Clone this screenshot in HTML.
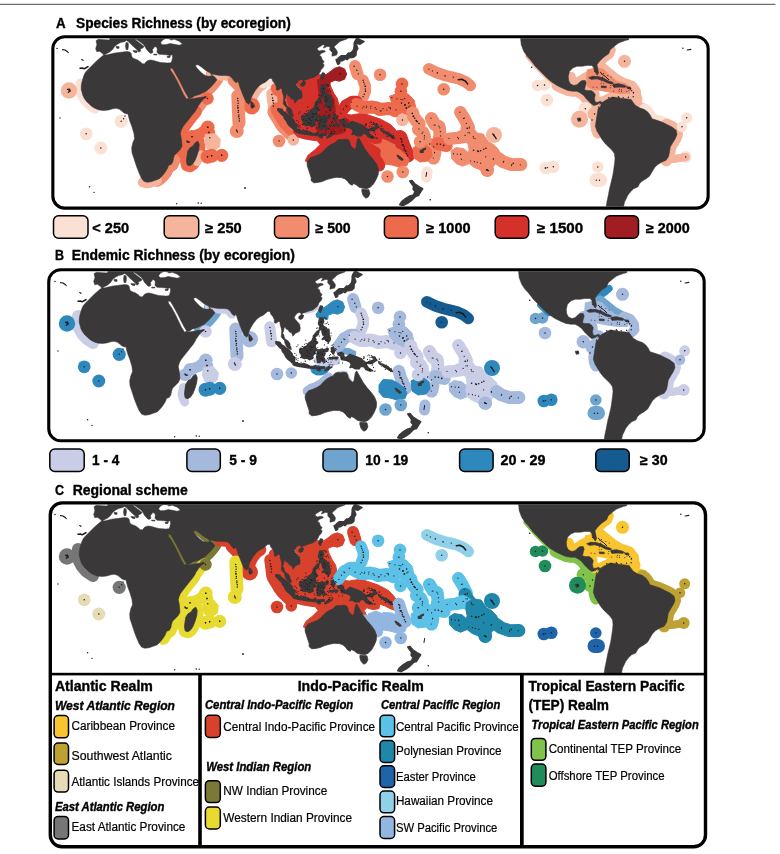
<!DOCTYPE html>
<html lang="en"><head><meta charset="utf-8"><title>Reef fish biogeography</title>
<style>html,body{margin:0;padding:0;background:#fff}body{width:780px;height:854px;overflow:hidden}svg text{font-family:"Liberation Sans",sans-serif}</style></head>
<body>
<svg width="780" height="854" viewBox="0 0 780 854" style="display:block">
<rect width="780" height="854" fill="#fff"/>
<rect x="0" y="3.8" width="775.5" height="1" fill="#4a4a4a"/>
<defs>
<clipPath id="clipA"><rect x="54.4" y="38.3" width="652.2" height="168.3" rx="10.4"/></clipPath>
<clipPath id="clipB"><rect x="50.3" y="271.3" width="652.3" height="167.9" rx="10.4"/></clipPath>
<clipPath id="clipC"><rect x="52" y="504.6" width="651.8" height="340.5" rx="10.1"/></clipPath>
</defs>
<g clip-path="url(#clipA)">
<g transform="translate(2,-233)">
<path d="M78.3,316 L78,321.8 L79.2,327.7 L82,333 L86.7,338 L93,342.3" fill="none" stroke="#FBE1D4" stroke-width="9" stroke-linecap="round" stroke-linejoin="round"/><circle cx="67" cy="323.5" r="8.2" fill="#F5B59D"/><circle cx="119.2" cy="354.3" r="6.6" fill="#FBE1D4"/><circle cx="84.2" cy="366.8" r="6.4" fill="#FBE1D4"/><circle cx="98.8" cy="381" r="6.5" fill="#FBE1D4"/><path d="M169.5,301.8 L173.3,308.5 L176.7,314.7 L180,321.3 L183,327.2 L185.7,331.5" fill="none" stroke="#F18C6F" stroke-width="4" stroke-linecap="round" stroke-linejoin="round"/><path d="M186.3,332 L193.3,330.7 L200.8,329.7 L205,330" fill="none" stroke="#F18C6F" stroke-width="7" stroke-linecap="round" stroke-linejoin="round"/><path d="M192.5,329 L199.2,327" fill="none" stroke="#F18C6F" stroke-width="12" stroke-linecap="round" stroke-linejoin="round"/><path d="M199.2,327 L204.2,324.3 L208.7,320.2 L212.5,316 L215,312.7 L213.3,309.7 L209.7,307.7" fill="none" stroke="#F18C6F" stroke-width="12" stroke-linecap="round" stroke-linejoin="round"/><path d="M209.7,307.2 L213.3,307.7 L219.2,308.5" fill="none" stroke="#F5B59D" stroke-width="10" stroke-linecap="round" stroke-linejoin="round"/><path d="M219.2,308.5 L223.3,308.5 L227.5,309 L230,311 L231.7,313.5" fill="none" stroke="#F5B59D" stroke-width="10" stroke-linecap="round" stroke-linejoin="round"/><path d="M231.7,313.5 L234.2,316 L237.5,319.3 L239.2,323.5 L240.8,327.7 L242.5,331.8 L244.2,335.2 L246.3,337.3" fill="none" stroke="#F18C6F" stroke-width="12" stroke-linecap="round" stroke-linejoin="round"/><path d="M249.2,331.8 L250.8,327.7 L253.3,323.5 L256.7,319.3 L260.3,317" fill="none" stroke="#F5B59D" stroke-width="12" stroke-linecap="round" stroke-linejoin="round"/><circle cx="249.7" cy="339.2" r="8.3" fill="#ED6B4C"/><path d="M260.8,316.8 L266.7,314.7 L270,316" fill="none" stroke="#FBE1D4" stroke-width="9" stroke-linecap="round" stroke-linejoin="round"/><path d="M235.8,329 L236.3,341 L237,356" fill="none" stroke="#F18C6F" stroke-width="13" stroke-linecap="round" stroke-linejoin="round"/><circle cx="234.8" cy="364" r="7" fill="#F18C6F"/><path d="M204.3,331.3 L200.3,334.7 L197.5,338.5 L194.7,342.3 L190,348.5 L185.3,354.7 L181.3,361 L179,367.7" fill="none" stroke="#F18C6F" stroke-width="12" stroke-linecap="round" stroke-linejoin="round"/><circle cx="205.5" cy="331.5" r="6.2" fill="#ED6B4C"/><path d="M193.3,344.7 L189.2,349.7 L185,355 L181.3,360 L179.2,365 L179.2,370.8 L180,375.8 L179.7,380 L175.8,385.3 L172.5,388.7 L171.7,393.3" fill="none" stroke="#ED6B4C" stroke-width="13" stroke-linecap="round" stroke-linejoin="round"/><path d="M171.7,393.3 L170,397.5 L166.3,400 L163.3,405.3" fill="none" stroke="#F18C6F" stroke-width="13" stroke-linecap="round" stroke-linejoin="round"/><path d="M163.3,405.3 L160.8,408.7 L157,412 L155,413.3" fill="none" stroke="#F18C6F" stroke-width="13" stroke-linecap="round" stroke-linejoin="round"/><path d="M155,413.7 L149.2,415.3 L145,416.3 L140.8,415.3" fill="none" stroke="#F5B59D" stroke-width="10" stroke-linecap="round" stroke-linejoin="round"/><path d="M195.8,374.2 L197.2,377.5 L196.7,382.5 L195,388.3 L193,393.3 L190.8,396.7 L188,398.7 L185.3,398 L184.5,394.2 L185,389.2 L185.8,384.2 L188,380.8 L190.8,379.2 L193.3,375.8 L195.8,374.2" fill="none" stroke="#ED6B4C" stroke-width="13" stroke-linecap="round" stroke-linejoin="round"/><path d="M195,395 L199.2,387.5" fill="none" stroke="#F5B59D" stroke-width="8" stroke-linecap="round" stroke-linejoin="round"/><circle cx="190" cy="369.7" r="6.6" fill="#ED6B4C"/><circle cx="185.3" cy="374.7" r="6.4" fill="#ED6B4C"/><path d="M190,369.7 L198.3,366.7 L205.8,360.8" fill="none" stroke="#ED6B4C" stroke-width="11" stroke-linecap="round" stroke-linejoin="round"/><circle cx="205.8" cy="360.3" r="6.8" fill="#ED6B4C"/><circle cx="207" cy="365.8" r="6.2" fill="#ED6B4C"/><path d="M203.3,367.5 L213.3,366.7 L218.3,372.5 L217.5,380 L211.7,383.7 L205,381.7 L202.5,375Z" fill="#F5B59D" stroke="#F5B59D" stroke-width="1" stroke-linejoin="round"/><circle cx="205.5" cy="389.7" r="7" fill="#ED6B4C"/><circle cx="209.7" cy="388.8" r="7" fill="#ED6B4C"/><circle cx="219.7" cy="388.3" r="6.6" fill="#ED6B4C"/><path d="M269.7,326.8 L270.7,334.3 L271.7,341.8" fill="none" stroke="#F5B59D" stroke-width="11" stroke-linecap="round" stroke-linejoin="round"/><path d="M274.2,321.4 L275.4,323.6 L278.9,322.5 L280,325.6 L280.7,330.2 L281,334.7 L281,337.4 L283.3,340.5 L284.5,343.8 L286.4,347.1 L289.4,349.8" fill="none" stroke="#ED6B4C" stroke-width="11" stroke-linecap="round" stroke-linejoin="round"/><path d="M272.9,344.7 L275.2,348.7 L277.5,352.3 L279.6,356 L282,359.2 L284.8,362.1 L287.9,365.1 L290.3,367.2" fill="none" stroke="#F18C6F" stroke-width="15" stroke-linecap="round" stroke-linejoin="round"/><path d="M275.4,342.2 L277.7,346.2 L280,349.8 L282.1,353.5 L284.5,356.7 L287.3,359.6 L290.4,362.6 L292.8,364.7" fill="none" stroke="#ED6B4C" stroke-width="14" stroke-linecap="round" stroke-linejoin="round"/><circle cx="277" cy="374" r="6.3" fill="#F18C6F"/><circle cx="291.3" cy="373" r="5.8" fill="#F5B59D"/><path d="M363.1,364.4 L382.3,360.5 L395.1,372.1 L399,382.3 L383.6,384.2 L375.9,382.3 L368.2,375.9Z" fill="#ED6B4C" stroke="#ED6B4C" stroke-width="1" stroke-linejoin="round"/><path d="M293.7,312.9 L301.5,311.1 L308.5,309.2 L314.6,306.5 L318.1,307.4 L322.4,310.1 L326.8,314.7 L329.4,321.1 L332,326.5 L335.5,332 L336.7,337.4 L337.2,342.9 L338.9,345.6 L343.3,347.4 L349.4,348 L355.5,346.9 L361.5,346.5 L367.6,348.4 L372.8,350.2 L378.1,352 L383.3,354.7 L388.5,357.5 L393.7,362.9 L398.1,369.3 L398.9,373.8 L395.5,377.5 L390.2,375.7 L385,372.9 L379.8,371.1 L378.9,375.7 L372.8,376.6 L366.8,374.8 L364.2,377.5 L366.4,382 L369,386.6 L365,388 L362.1,381.1 L358.9,375.7 L357.2,372.9 L355.5,376.6 L355.1,382.9 L352,383.9 L347.6,380.2 L347.6,374.8 L343.3,373.8 L338.1,374.8 L334.6,379.3 L329.4,378.4 L324.1,382.9 L319.8,387.5 L313.7,389.3 L309.4,392 L306.8,396.6 L303.3,393.9 L305.9,388.4 L312.8,382.9 L318.1,377.5 L315.4,373.8 L308.5,372.9 L301.5,371.7 L295.4,369.8 L291.1,364.7 L293.7,361.1 L295.4,357.5 L292.5,354.7 L291.1,351.1 L290.2,347.4 L289.4,342.9 L286.7,338.4 L285,333.8 L285,328.3 L289.4,331.1 L292.8,334.7 L298.1,332.9 L300.7,328.3 L298.9,322.9 L295.4,318.3Z" fill="#D5312B" stroke="#D5312B" stroke-width="1" stroke-linejoin="round"/><path d="M357.9,370.8 L365.6,374.6 L377.2,381.7 L384.2,391.3 L382.9,398.3 L375.9,396.4 L368.2,388.7 L361.8,381Z" fill="#D5312B" stroke="#D5312B" stroke-width="1" stroke-linejoin="round"/><path d="M285,345.6 L288.5,348.7 L291.1,350.5" fill="none" stroke="#D5312B" stroke-width="5" stroke-linecap="round" stroke-linejoin="round"/><path d="M315.4,312.9 L320.7,312 L324.7,316.5 L326.2,322 L329.4,327.4 L332,332.9 L332.8,339.3 L333.7,344.7 L337.2,348.4 L341.5,350.5 L346.8,352.9 L347.6,357.5 L344.1,360.2 L343.3,364.7 L338.9,366.6 L332.8,367.5 L325.9,366.6 L320.7,366.6 L316.3,365.6 L314.6,361.1 L315.1,355.6 L316.3,350.2 L317.7,343.8 L314.6,339.3 L316.3,333.8 L317.2,327.4 L316.3,321.1Z" fill="#A01D21" stroke="#A01D21" stroke-width="1" stroke-linejoin="round"/><path d="M315.9,314.2 L320,309.1 L325.1,307 L329.2,303.9 L332.3,301.4 L337.4,299.8 L342.6,301.9 L344.6,307 L342.6,312.2 L337.4,314.2 L333.3,313.2 L328.2,315.2 L327.7,319.3 L321,318.3 L316.9,317.3Z" fill="#A01D21" stroke="#A01D21" stroke-width="1" stroke-linejoin="round"/><circle cx="338" cy="306.7" r="0.1" fill="#A01D21"/><path d="M353,299 L355.5,307.3" fill="none" stroke="#F18C6F" stroke-width="12" stroke-linecap="round" stroke-linejoin="round"/><path d="M361,313.2 L363.3,319.3 L363.3,324.3 L361.3,329.7" fill="none" stroke="#F18C6F" stroke-width="11.5" stroke-linecap="round" stroke-linejoin="round"/><circle cx="378.1" cy="307.8" r="6.3" fill="#F18C6F"/><path d="M338.4,346.2 L344,338.5" fill="none" stroke="#D5312B" stroke-width="12" stroke-linecap="round" stroke-linejoin="round"/><path d="M344.1,338.5 L350.4,334.7 L354.6,334.7" fill="none" stroke="#D5312B" stroke-width="12" stroke-linecap="round" stroke-linejoin="round"/><path d="M354.6,337.4 L360.7,340.4 L365.9,340.4 L370.2,340 L374.6,340.9 L378.1,342.5 L385.4,341.6 L389.4,341.8 L393.7,343.8" fill="none" stroke="#ED6B4C" stroke-width="13" stroke-linecap="round" stroke-linejoin="round"/><circle cx="400" cy="316.9" r="6.3" fill="#ED6B4C"/><path d="M387.6,329.2 L396.3,326.2 L405.9,326.9 L412,332.9 L413.7,340.2 L410.2,346.5 L402.4,347.6 L396.3,342.9 L390.2,337.4Z" fill="#ED6B4C" stroke="#ED6B4C" stroke-width="1" stroke-linejoin="round"/><circle cx="398.9" cy="324.3" r="6.3" fill="#ED6B4C"/><circle cx="400.5" cy="352.9" r="6.3" fill="#F5B59D"/><path d="M410.8,346 L411.5,349.6 L414.2,353.5 L417.2,356.7" fill="none" stroke="#F18C6F" stroke-width="13" stroke-linecap="round" stroke-linejoin="round"/><path d="M416.5,362.4 L420.9,365.6 L422.4,369.3 L421.6,371.7" fill="none" stroke="#F18C6F" stroke-width="13" stroke-linecap="round" stroke-linejoin="round"/><path d="M429.4,351.5 L432.9,357.5 L437.2,359.8 L438.1,368.4 L437.2,371.1" fill="none" stroke="#F18C6F" stroke-width="13" stroke-linecap="round" stroke-linejoin="round"/><path d="M458.3,345.2 L462.5,351.8 L466.7,360.2 L465.3,366 L460.8,370.2" fill="none" stroke="#F18C6F" stroke-width="12.5" stroke-linecap="round" stroke-linejoin="round"/><path d="M426.7,301.8 L435,305.7 L443.3,308.5 L450.8,310.3 L456.7,311.8 L463.3,314.7 L468.3,318.5" fill="none" stroke="#F18C6F" stroke-width="11.5" stroke-linecap="round" stroke-linejoin="round"/><circle cx="441.7" cy="322.3" r="6.3" fill="#F18C6F"/><path d="M398.1,370.2 L400.7,377.5 L403.3,383.9 L405.6,388.4" fill="none" stroke="#D5312B" stroke-width="14.5" stroke-linecap="round" stroke-linejoin="round"/><path d="M379,385 L383,379.5 L392,380 L398,383 L404,388 L407,393 L405,398.5 L397,400 L390,398 L383,397 L379,392Z" fill="#ED6B4C" stroke="#ED6B4C" stroke-width="1" stroke-linejoin="round"/><path d="M365,387.5 L370.2,391.1 L375.5,394.8 L377.2,398.4" fill="none" stroke="#D5312B" stroke-width="12" stroke-linecap="round" stroke-linejoin="round"/><circle cx="400.8" cy="405" r="6.3" fill="#F18C6F"/><circle cx="385.5" cy="409.5" r="6.3" fill="#F18C6F"/><path d="M425,405 L424.5,410" fill="none" stroke="#FBE1D4" stroke-width="11" stroke-linecap="round" stroke-linejoin="round"/><path d="M431.1,380.2 L432.9,385.7 L431.6,391.1" fill="none" stroke="#F18C6F" stroke-width="13" stroke-linecap="round" stroke-linejoin="round"/><circle cx="427.6" cy="377.1" r="6.4" fill="#F18C6F"/><path d="M435.5,376.6 L441.6,378 L444.2,378.4" fill="none" stroke="#ED6B4C" stroke-width="13" stroke-linecap="round" stroke-linejoin="round"/><path d="M411,381 L416,378 L424,378 L429,382 L430,389 L426,394 L418,395 L412,391Z" fill="#ED6B4C" stroke="#ED6B4C" stroke-width="1" stroke-linejoin="round"/><circle cx="418.1" cy="374.8" r="6.4" fill="#F18C6F"/><path d="M465.1,362 L468.3,366.5 L471.5,370.9" fill="none" stroke="#F18C6F" stroke-width="12.5" stroke-linecap="round" stroke-linejoin="round"/><circle cx="465.1" cy="361.3" r="6.6" fill="#F18C6F"/><path d="M447.6,371.8 L456.3,370.9 L462.4,368.4 L465.9,370.2" fill="none" stroke="#F18C6F" stroke-width="12.5" stroke-linecap="round" stroke-linejoin="round"/><path d="M449.1,383.8 L454.2,380.6 L461.9,381.8 L467.1,386.3 L467.1,396.6 L460.6,399.2 L454.2,396.6 L449.7,391.5Z" fill="#F18C6F" stroke="#F18C6F" stroke-width="1" stroke-linejoin="round"/><path d="M466.4,369.7 L473.5,365.8 L481.2,367.1 L486.3,374.8 L491.4,377.4 L496.5,382.5 L499.1,388.9 L495.3,395.3 L491.4,399.2 L490.1,404.3 L486.3,409.4 L481.2,408.1 L478.6,403 L472.2,400.4 L467.1,396.6 L465.8,390.2 L467.1,382.5 L465.8,376.1Z" fill="#F18C6F" stroke="#F18C6F" stroke-width="1" stroke-linejoin="round"/><circle cx="485.3" cy="403.3" r="6.8" fill="#F18C6F"/><path d="M496.5,391.5 L501,394.7 L509.4,397.6 L519,397.5" fill="none" stroke="#F18C6F" stroke-width="12.8" stroke-linecap="round" stroke-linejoin="round"/><circle cx="492" cy="368" r="8" fill="#F5B59D"/><circle cx="543.8" cy="401" r="6.3" fill="#FBE1D4"/><circle cx="551.3" cy="399.8" r="6.3" fill="#FBE1D4"/><circle cx="595.8" cy="400" r="5.8" fill="#FBE1D4"/><path d="M594.5,413 L598,413" fill="none" stroke="#FBE1D4" stroke-width="14" stroke-linecap="round" stroke-linejoin="round"/><circle cx="535.5" cy="318.5" r="5.8" fill="#FBE1D4"/><circle cx="542.5" cy="318" r="5.8" fill="#FBE1D4"/><circle cx="545" cy="333" r="6.3" fill="#FBE1D4"/><path d="M525,289.3 L530.8,296 L537.5,303.5 L544.2,310.2 L550,315.2 L555,318.5" fill="none" stroke="#F5B59D" stroke-width="3.5" stroke-linecap="round" stroke-linejoin="round"/><path d="M555,318.5 L560,321 L565.8,323.5 L570.8,324.3 L575,324.3 L578.3,326 L581.7,328.5 L584.2,331.8 L586.7,334.3 L589.2,336.8 L591.7,338.5 L595,337.7 L597.5,336.3" fill="none" stroke="#F5B59D" stroke-width="11" stroke-linecap="round" stroke-linejoin="round"/><circle cx="583.3" cy="341.8" r="6.8" fill="#FBE1D4"/><circle cx="592.5" cy="347" r="7" fill="#F5B59D"/><path d="M598.3,338 L597,341.8 L595.5,346 L594.7,351 L593.8,356.8 L594.3,361.8 L595.8,366" fill="none" stroke="#F5B59D" stroke-width="11" stroke-linecap="round" stroke-linejoin="round"/><circle cx="577.5" cy="352.3" r="8.5" fill="#F5B59D"/><path d="M608.3,282.7 L606.7,286.8 L601.7,290.2 L597.5,294.3 L595.3,298 L596.3,303 L596.7,306.8" fill="none" stroke="#F5B59D" stroke-width="11" stroke-linecap="round" stroke-linejoin="round"/><circle cx="622.5" cy="294.3" r="6.5" fill="#F5B59D"/><path d="M568.7,309.7 L570,314.3 L574.2,316 L579.2,313.5 L583.3,310.7 L590,307.3 L593.3,305.7" fill="none" stroke="#F5B59D" stroke-width="10" stroke-linecap="round" stroke-linejoin="round"/><path d="M600.1,300.3 L607.2,306 L613.6,311.2 L621.3,315.6" fill="none" stroke="#F5B59D" stroke-width="9.5" stroke-linecap="round" stroke-linejoin="round"/><path d="M623.8,316.3 L630.3,318.8 L634.1,324 L634.7,329.7 L631.5,332.9" fill="none" stroke="#F5B59D" stroke-width="9.5" stroke-linecap="round" stroke-linejoin="round"/><path d="M583.3,316 L582.8,322.7 L589.2,323.8 L592.5,326.8 L592.8,331.8 L594.2,335.2 L599.2,335.2" fill="none" stroke="#F5B59D" stroke-width="10" stroke-linecap="round" stroke-linejoin="round"/><path d="M600,335.2 L604.2,333.5 L610,330.7 L616.7,330.7 L623.3,330.3 L630,331.3 L635,332" fill="none" stroke="#F5B59D" stroke-width="11" stroke-linecap="round" stroke-linejoin="round"/><path d="M585.4,302.8 L595.6,300.9 L602.1,302.8 L608.5,309.2 L614.9,314.4 L623.8,316.9 L629,320.8 L627.7,326.5 L618.7,326.5 L608.5,325.3 L598.2,323.3 L590.5,322.1 L585.4,319.5 L584.7,310.5Z" fill="#F18C6F" stroke="#F18C6F" stroke-width="1" stroke-linejoin="round"/><path d="M623.7,332 L630,333.3 L633.3,338 L637.5,340.5 L642.5,342.2" fill="none" stroke="#F5B59D" stroke-width="11" stroke-linecap="round" stroke-linejoin="round"/><path d="M642.5,342.2 L645.8,344.7 L648.3,348 L650,351.3 L655,353.3 L660,355 L665,357.5" fill="none" stroke="#FBE1D4" stroke-width="11" stroke-linecap="round" stroke-linejoin="round"/><path d="M665,357.5 L670,360 L674.2,363.3 L675,367.5 L673.3,371.7 L670.8,375.8 L668.3,380 L667.5,385 L666.7,389.2 L664.2,393.3" fill="none" stroke="#F5B59D" stroke-width="12" stroke-linecap="round" stroke-linejoin="round"/><circle cx="684.7" cy="350.8" r="5.5" fill="#FBE1D4"/><circle cx="680" cy="359.7" r="5.3" fill="#FBE1D4"/><circle cx="683.7" cy="390" r="6" fill="#FBE1D4"/><path d="M672,392 L683.7,390" fill="none" stroke="#F5B59D" stroke-width="8" stroke-linecap="round" stroke-linejoin="round"/>
<path d="M108.1,268.3 L107.9,271.9 L107.1,273 L103.2,272.8 L96.3,272.3 L94,273.7 L94.9,277.4 L93.7,281.6 L94.7,284.7 L97.3,284.3 L99.2,285.6 L100.5,286.5 L101.7,288 L100,289.3 L98,291 L95,293.5 L92.5,296 L90,298.5 L87.5,301 L85,303.5 L83,306 L81.7,309 L80.5,312.7 L79.7,316 L79.2,319.3 L79.2,322.7 L80,325.2 L80.8,328.5 L82.5,331.8 L84.7,334.7 L87,336.8 L89.2,339 L91.7,340.7 L95,342.3 L98.3,343.2 L102.5,343.5 L106.7,343 L110.8,341.8 L114.2,341.3 L117.5,342.3 L120,344.3 L122,346 L124.7,347 L125.8,346.7 L127.5,353.3 L130,360 L132,366.7 L132.5,371.7 L130.8,375.8 L129.7,380.8 L130,385.8 L131.7,390.8 L133.3,395.8 L135,400.8 L137,405.8 L139.2,410.8 L141.7,414.2 L145,415.3 L149.2,414.7 L153.3,413.3 L157.5,411.7 L160.8,408.3 L163.3,405 L165.3,401.7 L166.7,398.3 L169.2,397.5 L170.8,395 L171.7,390.8 L172.5,388.3 L175,385.8 L178.3,382.5 L180,379.2 L179.7,375 L179.2,370.8 L178.3,366.7 L179.2,363.3 L180.8,360 L183.3,356.7 L186.7,352.5 L190,348.3 L193.3,344.2 L195.8,340 L195.5,340 L198.3,336 L200.8,332.7 L204.7,329.8 L198.3,330.3 L191.7,331.5 L186.3,332.3 L190,330.7 L192.5,329 L198.3,327.3 L204.2,324.3 L208.7,320.2 L212.5,316 L215,312.7 L212.5,309.7 L209.2,307.7 L208.7,306.8 L213.3,307.7 L218.3,308.5 L223.3,308.5 L227.5,309 L230,311 L231.7,313.5 L234.2,316 L235.3,314.3 L236.7,316 L237.5,319.3 L239.2,323.5 L240.8,327.7 L242.5,331.8 L244.2,335.2 L246.7,337.3 L248.3,335.2 L249.2,331 L250.8,327.7 L253.3,323.5 L256.7,319.3 L260,316.8 L263.3,315.2 L267.6,311.4 L269.9,311.4 L270.7,314.1 L272.8,316.5 L274.2,319.2 L274.4,322.9 L276.1,323.2 L278.6,321.4 L280,322 L280.1,324.7 L281,327.4 L281.7,330.5 L281.5,333.8 L281.2,336.9 L282.7,338.7 L284.5,340.4 L284.8,342.9 L285.7,345.1 L286.6,346.9 L288.5,348.5 L290.2,349.6 L291.4,349.5 L291.1,347.4 L290.1,345.6 L290.1,343.8 L288.7,341.4 L287.6,340.5 L285.9,339.4 L285,338.7 L284.1,336.5 L284,335.1 L282.7,333.3 L283.8,330.5 L284.1,327.6 L285.7,327.6 L285.9,328.9 L288,329.8 L289.4,332 L291.8,333.1 L292.8,336.2 L294.2,334.7 L295.8,333.1 L297.7,332.5 L299.8,331.1 L300.3,328.3 L299.6,324.2 L297.2,321.6 L295.4,319.6 L294.2,317.4 L295.6,315.1 L297.2,313.2 L298.9,312.5 L300.7,312.9 L301.4,315.1 L302.2,315.1 L302.4,313.2 L304.7,312.7 L307.6,311.6 L309.4,310.9 L312,310.3 L314.2,308.9 L316.7,306.9 L318.2,305 L318.9,302.9 L321.5,300.1 L322.2,297.8 L320.7,296.5 L322.2,294.7 L320.1,292.3 L319.4,289.8 L317.5,288.3 L319.4,286.3 L323.3,284.8 L322.9,283.8 L320.3,283.2 L317.2,284.1 L315.1,281.9 L316,280.8 L318.1,279.6 L321,277.7 L322.8,278.3 L321.2,281 L322.4,280.8 L325,279.6 L326.4,279.4 L328,280.1 L327.6,282.8 L329.4,284.7 L330.2,285.6 L329.9,289.2 L332,288.8 L334.6,288.1 L335.5,285.6 L335.1,284.1 L333.5,281.7 L332,280.1 L333.7,278.3 L335.8,276.5 L337.5,274.8 L340.7,273.4 L345,271.9 L347.6,268.3ZM102.9,287.5 L107.4,285.2 L110.6,282.4 L112.6,279.5 L115.8,276.9 L118.6,275.6 L122.2,274.7 L124.7,273.4 L126.7,275 L129.2,277.5 L132.4,280.4 L135.6,283.3 L136.9,285.2 L138.8,283.9 L138.2,282 L140.8,281.1 L142.1,279.5 L140.1,277.9 L136.3,275.1 L132.9,272.5 L134,272.2 L137.6,274.6 L141.2,277.2 L143.3,280.1 L144.2,282 L145.9,283.9 L147.8,285.9 L149.1,286.5 L151,285.2 L150.4,282.7 L151.7,281.1 L152.9,279.5 L154.9,280.4 L155.3,282.4 L154.9,285.2 L156.8,287.2 L160.6,287.5 L164.5,287.8 L167.7,288.4 L170.3,287.8 L170.6,290.4 L169.9,293.6 L169,295.7 L165.8,296.1 L161.9,295.7 L158.7,295.5 L154.9,294.5 L151.7,293.6 L148.5,292.9 L145.9,293.6 L144,294.8 L142.7,296.8 L140.4,296.8 L138.2,294.8 L135.6,292.9 L133.7,292.3 L131.8,291.4 L130.1,290.4 L129.6,288.4 L129.2,286.5 L127.9,285 L124.7,284.6 L120.9,285 L117.1,285.5 L113.2,285.9 L109.4,286.8 L105.5,287.8 L102.9,288.1ZM158.7,275.6 L160.6,273.1 L163.8,271.4 L167.1,271.8 L169,273.1 L172.2,272.2 L177.3,274.3 L180.5,276.9 L177.3,278.2 L172.2,277.3 L168.3,276.5 L164.5,277.5 L160.6,277.8 L158.7,276.3ZM168.3,300.7 L170.7,301.7 L174.7,308.7 L178,314.8 L181.3,321.5 L184.2,327 L186.7,331 L184.7,332.3 L181.7,327.7 L178.5,321 L175.2,314.3 L171.8,308 L168.5,303.3ZM193.7,298 L196,297.7 L199.7,300.2 L203,303 L206.3,305 L209.3,306.5 L210,308.7 L206.7,309.3 L203.7,308.7 L200,306.3 L196.7,303 L194,300ZM518,267.7 L518.7,272.7 L519.2,277.7 L521.7,284.3 L525,289.3 L528.3,292.7 L530.8,296 L533.3,299.3 L537.5,303.5 L541.7,307.7 L545.8,311.8 L550,315.2 L555,318.5 L560,321 L565.8,323.5 L570.8,324.3 L575,324.3 L578.3,326 L581.7,328.5 L584.2,331.8 L586.7,334.3 L589.2,336.8 L591.7,338.5 L595,337.7 L597.5,336 L599.2,337.7 L597.5,341 L596.7,339.2 L595.8,343.3 L595,348.3 L594.2,353.3 L593.3,359.2 L595,364.2 L597.5,368.3 L600,372.5 L603.3,376.7 L606.7,380 L610,383.3 L612.5,386.7 L613,391.7 L612.5,396.7 L611.7,402.5 L610.8,408.3 L609.2,415 L607.5,421.7 L606.3,428.3 L605,434.2 L603.7,443.3 L621.3,443.3 L621.7,439.2 L622.5,435 L624.2,431.7 L625.8,428.3 L628.3,425 L631.7,421.7 L635.8,420 L637.5,416.7 L640,414.2 L644.2,411.7 L647.5,409.2 L650,405 L652.5,400.8 L655.8,397.5 L660,395 L664.2,393.3 L666.7,389.2 L667.5,385 L668.3,380 L670.8,375.8 L673.3,371.7 L675,367.5 L674.2,363.3 L670,360 L665,357.5 L660,355 L655,353.3 L650,351.7 L648.3,348.3 L645.8,345 L642.5,342.5 L637.5,340.8 L633.3,338.3 L630.8,335 L629.2,332.5 L623.3,331.7 L618.3,331.3 L613.3,330.3 L610,330 L605,332.5 L600.8,335 L597.5,337.5 L600,335.2 L598.3,334.3 L595.8,335.2 L593.3,335.2 L592.5,331.8 L593.3,327.7 L591.7,325.2 L589.2,323.5 L585,323.5 L582.5,322.7 L583.3,319.3 L584.2,316 L583.3,313.5 L580,313.5 L577.5,315.2 L575,317.7 L571.7,318.5 L568.3,316.8 L566.7,313.5 L566.3,309.3 L567.5,304.3 L570.8,301 L575,299.3 L580,299.3 L585,298.5 L590,298.5 L591.7,300.2 L592.5,304.3 L595,307.7 L596.7,306 L595.8,301.8 L595,297.7 L597.5,294.3 L601.7,290.2 L606.7,286.8 L608.3,282.7 L613.3,278.5 L616.7,276 L623.3,273.5 L626.7,272.7 L627.5,267.7Z" fill="#3a3839" fill-rule="evenodd" stroke="#3a3839" stroke-width="0.5" stroke-linejoin="round"/><path d="M124.1,275.6 L126,276 L126.3,278.8 L125.8,282.4 L124.1,282.4 L123.7,278.8ZM130.9,283.7 L135.3,283.9 L134.7,285.5 L132.4,285.2ZM114.2,279.6 L117.1,279.8 L116.8,281.4 L114.5,281.1ZM151.7,287.2 L154.9,287.3 L154.9,287.9 L151.7,287.8ZM165.1,289.5 L168.3,288.8 L167.7,290.4 L165.5,290.4ZM195.8,374.2 L197.2,377.5 L196.7,382.5 L195,388.3 L193,393.3 L190.8,396.7 L188,398.7 L185.3,398 L184.5,394.2 L185,389.2 L185.8,384.2 L188,380.8 L190.8,379.2 L193.3,375.8ZM249,334.3 L251.4,336.5 L252.7,339.3 L251.1,341.1 L249.4,341.1 L248.8,337.4ZM356.7,370.9 L359.9,376.7 L363.1,382.4 L366.9,387.6 L371.4,392.7 L374.6,397.2 L376.5,402.3 L376.2,407.4 L374,412.6 L371.4,417.1 L368.2,420.3 L365,421.5 L361.2,421.3 L357.3,420.3 L354.1,417.7 L351.5,416.4 L350.3,418.3 L347.7,417.1 L345.8,414.5 L343.2,411.9 L339.4,410.6 L334.2,410.3 L329.1,411.3 L324.6,412.6 L320.1,414.5 L315.6,415.4 L311.8,415.8 L309.2,413.8 L309.2,410.6 L307.9,406.8 L306.7,402.9 L305.4,399.1 L305.1,396.5 L306.4,393.3 L308.6,390.8 L312.4,389.5 L316.9,387.6 L320.8,385 L323.6,381.8 L326.5,379.2 L329.7,377.3 L332.9,376 L334.9,373.5 L337.4,372.6 L340.6,372.8 L343.8,372.2 L346.4,372.8 L347.7,374.7 L348.3,377.9 L350.3,380.5 L352.8,382.4 L354.1,380.5 L354.7,376.7 L355.4,372.8ZM359.9,422.4 L366.9,422.8 L367.9,426.7 L366.3,429.9 L363.7,431.2 L361.2,428.6 L359.9,424.7ZM586.7,310.7 L590.8,309.3 L596.7,309.7 L601.7,311.3 L606.7,314 L611.3,315.7 L610.8,317 L605.8,316 L600.8,313.5 L595,311.8 L589.2,312.3ZM611.3,317.3 L616.7,316.8 L623.3,318.5 L623,320.3 L617.5,320 L612.5,320.3 L610.8,319ZM599.2,319 L604.2,319.3 L604.2,320.7 L599.5,320.5ZM625,320 L628.3,320 L628.3,321.3 L625,321.3ZM575.3,351.3 L578.3,351 L579,353.7 L576.3,354.3Z" fill="#3a3839" stroke="#3a3839" stroke-width="0.8" stroke-linejoin="round"/><path d="M276,341.8 L279.8,342.5 L281.2,344.7 L284,346.5 L285.5,348 L287.3,348.9 L289.4,350.7 L290.7,352.5 L292,353.8 L292.1,355.6 L294.6,357.5 L294.4,360.2 L294.2,362.6 L292.1,362.6 L290.7,361.1 L288.1,359.3 L285.9,356.6 L284.7,353.8 L282.6,351.5 L281.9,348.9 L280.1,347.6 L278.1,345.3 L276.1,343.3ZM293.2,364.4 L294.8,362.7 L296.3,362.7 L298.9,364 L302.4,364.4 L303.3,363.6 L306.1,364.6 L309.4,366 L309.2,367.8 L306.2,367.3 L301.5,366.6 L298.1,366.2 L295.3,365.5ZM299.8,349.3 L300.8,348.4 L303.6,349.1 L304,347.3 L306.8,346.2 L308.5,343.6 L310.9,342 L313.2,339.3 L314.9,340.4 L317.5,342.5 L315.4,344.4 L314.9,346.9 L317,350.2 L315.1,350.5 L314.6,353.3 L312.8,355.1 L312.3,358.4 L309.5,359.5 L306.8,357.8 L304.7,358.4 L301.9,357.3 L301.5,354.4 L300,352.5 L299.8,350.5ZM318.6,350.5 L320.5,349.6 L324.1,350.4 L327.5,348.9 L328,349.5 L326.4,351.3 L324.1,351.3 L320.7,351.3 L319.3,353.6 L321.5,353.6 L324.7,353.6 L323.8,354.9 L321.7,355.5 L324,359.3 L324.5,361.6 L322.4,360.7 L320.7,356.9 L319.6,357.5 L319.6,362 L318.1,362 L318.1,358.4 L316.8,357.1 L317.7,354.2 L318.6,352ZM338.1,353.5 L340.7,352.7 L343.3,353.5 L343.6,356.6 L345.9,358 L349.9,354.7 L355.5,356.7 L361.5,359.1 L363.8,362 L367.3,362.9 L365.9,364.4 L368.5,368.4 L372.5,370.7 L370.2,370.9 L365.9,369.3 L364.2,366.6 L360.7,366 L358.9,368.7 L355.5,368.6 L352,366.6 L350.2,367.3 L351.6,364.7 L350.2,362 L345.9,360 L341.5,359.3 L341.2,357.1 L342.9,356 L339.8,355.6 L338.1,354.5ZM320,318.3 L322.8,318.5 L322.9,322 L321.7,324.7 L322.4,326.5 L325.9,328.3 L326.1,329.2 L323.5,327.4 L320.7,327.2 L320,325.6 L318.9,323.8 L319.4,322ZM322.4,339.3 L325,336.2 L328.5,334.2 L330.2,338.4 L329.7,340.5 L328.3,341.8 L325.9,340.2 L324.8,338.4ZM326.4,329.2 L328.7,329.6 L328.8,332.3 L327.6,333.8 L326.8,332ZM322.4,330.5 L324.5,331.1 L325.9,332.9 L324.7,335.3 L323.3,334.2 L322.4,332.9ZM314.1,336.7 L315.8,335.3 L318.1,332.3 L317.9,331.3 L316.1,333.4 L314.1,336ZM319.6,327.6 L321.4,327.6 L321.5,329.4 L320.3,329.6ZM319.1,310.1 L320.7,306.1 L322.2,306.5 L321.5,309.2 L320.3,312ZM299.3,317.1 L300.7,315.6 L303.1,315.6 L302.4,317.8 L300.7,318.9 L299.3,318.1ZM332,348.4 L332.8,348 L334.1,350.2 L332.8,353.6 L332.1,351.1ZM325,370.7 L327.6,367.7 L331.6,367.3 L327.6,369.5ZM310.2,366.7 L313.7,366.9 L317.2,367.1 L320.7,367.1 L324.1,366.9 L324.1,368 L318.9,368.2 L313.7,368.4 L310.2,367.8ZM317.2,369.1 L320.3,369.5 L319.8,370.7 L317.5,370ZM332.7,357.5 L337.7,357.5 L337.2,358.6 L332.8,358.4ZM329.4,357.6 L331.5,357.8 L331.1,358.9 L329.5,358.7ZM368.2,362.2 L371.1,361.1 L374.9,359.6 L375.1,361.1 L372,363.3 L368.5,363.3ZM372.5,356.7 L375.5,358.6 L376.5,360.4 L375.6,359.8 L372.8,357.5ZM379.1,362 L381.4,364.4 L380.5,364.4 L379.1,362.9ZM382.4,364.2 L388.2,367.1 L390.2,369.3 L392.3,371.3 L391.1,371.1 L388.2,369.3 L385,367.3 L382.4,365.3ZM395.5,388.6 L398.1,390.2 L400.7,392.6 L399.6,392.8 L396.9,390.8ZM418.6,383.7 L420.9,383.9 L421,385.1 L418.6,385.1ZM420.7,382.6 L423.3,381.5 L423.1,382.2 L421.2,382.9ZM407.9,414.1 L409.9,413.7 L412.4,416.7 L416.9,419.7 L420.5,421.8 L418.2,425.3 L416.3,428.5 L413.1,429.5 L411.8,427.2 L413.3,424.6 L411.2,422.1 L411.8,419.5 L409.9,416.9ZM411.8,428.2 L413.3,429.7 L409.9,432.9 L405.4,436.2 L400.9,438.5 L397.9,437.7 L399.6,434.9 L403.5,431.7 L407.9,429.1ZM334.3,292.9 L336.4,291.8 L338.1,293.4 L337.3,296.4 L335.9,297.1 L335.2,295.3ZM336.4,291.3 L339.2,288.9 L344.4,288.7 L346.6,286.2 L347.5,286.5 L349.6,285.4 L351.9,282.5 L352.2,279.6 L354.5,278.3 L355.7,281.6 L354,284.3 L353.8,288 L351.9,289.8 L350,290.3 L347,290.5 L344.9,292.5 L343.5,290.5 L340,291.1 L338.3,291.8ZM338.8,292.9 L342.1,291.1 L343,292 L340,293.8ZM352.2,278 L352.7,274.9 L355.2,270.9 L358.3,273.1 L361.8,274.5 L358,277.1 L354,276.1ZM322.1,328.7 L325.9,329.1 L328.7,329.4 L329,333.4 L326.2,335.3 L323.1,334.9 L322.2,332ZM313.7,337.4 L316,336 L318.6,332.7 L318.8,330.5 L316.8,332 L314.8,334.5 L313.4,336.3ZM312.8,338.9 L314.1,337.1 L315.8,339.3 L314.6,340.5ZM331.5,348 L333.2,347.6 L334.6,350.2 L333.5,353.8 L331.8,352 L331.6,349.8ZM317.9,350.5 L320.7,349.5 L324.1,349.8 L328,348.7 L327.6,350.9 L324.1,352 L321,352 L320,353.8 L322.4,353.8 L325,353.5 L324.1,355.6 L322.4,356 L324.5,359.3 L324.8,362.2 L322.4,361.5 L321,357.8 L320,362.4 L317.7,362.4 L317.2,357.5 L317.2,353.8ZM319.8,318.1 L322.9,318.1 L323.5,321.4 L322.2,324.7 L323.3,326.2 L326.2,328 L326.2,329.4 L323.5,328 L320.7,327.6 L319.6,325.4 L318.6,323.6 L319.1,321.4Z" fill="#3a3839" stroke="#3a3839" stroke-width="1.8" stroke-linejoin="round"/>
<g fill="#1a1a1a"><circle cx="67" cy="323.5" r="0.75"/><circle cx="119.2" cy="354.3" r="0.75"/><circle cx="84.2" cy="366.8" r="0.75"/><circle cx="98.8" cy="381" r="0.75"/><circle cx="249.7" cy="339.2" r="0.75"/><circle cx="234.8" cy="364" r="0.75"/><circle cx="205.5" cy="331.5" r="0.75"/><circle cx="190" cy="369.7" r="0.75"/><circle cx="185.3" cy="374.7" r="0.75"/><circle cx="205.8" cy="360.3" r="0.75"/><circle cx="207" cy="365.8" r="0.75"/><circle cx="205.5" cy="389.7" r="0.75"/><circle cx="209.7" cy="388.8" r="0.75"/><circle cx="219.7" cy="388.3" r="0.75"/><circle cx="277" cy="374" r="0.75"/><circle cx="291.3" cy="373" r="0.75"/><circle cx="338" cy="306.7" r="0.75"/><circle cx="378.1" cy="307.8" r="0.75"/><circle cx="400" cy="316.9" r="0.75"/><circle cx="398.9" cy="324.3" r="0.75"/><circle cx="400.5" cy="352.9" r="0.75"/><circle cx="441.7" cy="322.3" r="0.75"/><circle cx="400.8" cy="405" r="0.75"/><circle cx="385.5" cy="409.5" r="0.75"/><circle cx="427.6" cy="377.1" r="0.75"/><circle cx="418.1" cy="374.8" r="0.75"/><circle cx="465.1" cy="361.3" r="0.75"/><circle cx="485.3" cy="403.3" r="0.75"/><circle cx="492" cy="368" r="0.75"/><circle cx="543.8" cy="401" r="0.75"/><circle cx="551.3" cy="399.8" r="0.75"/><circle cx="595.8" cy="400" r="0.75"/><circle cx="535.5" cy="318.5" r="0.75"/><circle cx="542.5" cy="318" r="0.75"/><circle cx="545" cy="333" r="0.75"/><circle cx="583.3" cy="341.8" r="0.75"/><circle cx="592.5" cy="347" r="0.75"/><circle cx="577.5" cy="352.3" r="0.75"/><circle cx="622.5" cy="294.3" r="0.75"/><circle cx="684.7" cy="350.8" r="0.75"/><circle cx="680" cy="359.7" r="0.75"/><circle cx="683.7" cy="390" r="0.75"/><circle cx="590" cy="353" r="0.75"/><circle cx="55" cy="281.4" r="0.75"/><circle cx="66.3" cy="285.6" r="0.6"/><circle cx="680.8" cy="281.2" r="0.75"/><circle cx="58" cy="351" r="0.7"/><circle cx="123" cy="349" r="0.7"/><circle cx="121.6" cy="351.8" r="0.7"/><circle cx="174.7" cy="436.7" r="0.7"/><circle cx="196.3" cy="436" r="0.8"/><circle cx="199.2" cy="436.3" r="0.7"/><circle cx="87.6" cy="419.8" r="0.7"/><circle cx="92" cy="425.4" r="0.7"/><circle cx="235.7" cy="331.5" r="0.75"/><circle cx="236" cy="333.8" r="0.75"/><circle cx="236.1" cy="336.3" r="0.75"/><circle cx="235.8" cy="338.7" r="0.75"/><circle cx="235.9" cy="340.9" r="0.75"/><circle cx="236" cy="340.7" r="0.75"/><circle cx="236.4" cy="343.5" r="0.75"/><circle cx="236.2" cy="345.2" r="0.75"/><circle cx="236.8" cy="348" r="0.75"/><circle cx="236.8" cy="349.8" r="0.75"/><circle cx="237.3" cy="351.7" r="0.75"/><circle cx="237.3" cy="354.1" r="0.75"/><circle cx="269.9" cy="327.6" r="0.75"/><circle cx="270.5" cy="331.1" r="0.75"/><circle cx="270.7" cy="333.6" r="0.75"/><circle cx="271.1" cy="333.4" r="0.75"/><circle cx="271.4" cy="336" r="0.75"/><circle cx="271.3" cy="339" r="0.75"/><circle cx="190" cy="369.7" r="0.7"/><circle cx="205.8" cy="360.3" r="0.7"/><circle cx="207" cy="365.3" r="0.7"/><circle cx="207.8" cy="370.8" r="0.7"/><circle cx="205.5" cy="389.7" r="0.7"/><circle cx="209.5" cy="388.8" r="0.7"/><circle cx="219.7" cy="388.3" r="0.7"/><circle cx="234.5" cy="363" r="0.7"/><circle cx="235.5" cy="365" r="0.7"/><circle cx="203" cy="330" r="0.8"/><circle cx="361.1" cy="313.2" r="0.7"/><circle cx="361.7" cy="315.3" r="0.7"/><circle cx="362.5" cy="317.1" r="0.7"/><circle cx="363.5" cy="319.4" r="0.7"/><circle cx="363.1" cy="319.3" r="0.7"/><circle cx="363.3" cy="322" r="0.7"/><circle cx="363.4" cy="324.2" r="0.7"/><circle cx="363.6" cy="324.1" r="0.7"/><circle cx="362.3" cy="327.2" r="0.7"/><circle cx="361.1" cy="329.7" r="0.7"/><circle cx="352.1" cy="299.3" r="0.7"/><circle cx="354.8" cy="303.3" r="0.7"/><circle cx="356.3" cy="306.9" r="0.7"/><circle cx="338.9" cy="346.4" r="0.6"/><circle cx="341.4" cy="342.2" r="0.6"/><circle cx="344.8" cy="339.6" r="0.6"/><circle cx="343.9" cy="338.9" r="0.6"/><circle cx="349.3" cy="335.2" r="0.6"/><circle cx="355.1" cy="339.2" r="0.6"/><circle cx="361.9" cy="339.6" r="0.6"/><circle cx="360.3" cy="341" r="0.6"/><circle cx="364.2" cy="340.3" r="0.6"/><circle cx="364.7" cy="339" r="0.6"/><circle cx="368.6" cy="341" r="0.6"/><circle cx="368.9" cy="339.1" r="0.6"/><circle cx="374.2" cy="342.2" r="0.6"/><circle cx="373.1" cy="340.7" r="0.6"/><circle cx="378.3" cy="343.9" r="0.6"/><circle cx="379.2" cy="343.8" r="0.6"/><circle cx="381" cy="341.7" r="0.6"/><circle cx="384.9" cy="343" r="0.6"/><circle cx="387" cy="340.3" r="0.6"/><circle cx="388.2" cy="340.8" r="0.6"/><circle cx="388.4" cy="341.7" r="0.6"/><circle cx="394" cy="342.9" r="0.6"/><circle cx="389.8" cy="330.7" r="0.6"/><circle cx="394.9" cy="331.8" r="0.6"/><circle cx="400.9" cy="332.8" r="0.6"/><circle cx="399" cy="332.5" r="0.6"/><circle cx="402.7" cy="331.4" r="0.6"/><circle cx="406.8" cy="335.9" r="0.6"/><circle cx="406.6" cy="336" r="0.6"/><circle cx="408" cy="338.9" r="0.6"/><circle cx="406.8" cy="339.9" r="0.6"/><circle cx="404" cy="341" r="0.6"/><circle cx="399.5" cy="336.1" r="0.8"/><circle cx="403.1" cy="337.9" r="0.8"/><circle cx="402.7" cy="338" r="0.8"/><circle cx="404.5" cy="340.9" r="0.8"/><circle cx="410.3" cy="346.4" r="0.8"/><circle cx="411.6" cy="349.2" r="0.8"/><circle cx="411.3" cy="349.4" r="0.8"/><circle cx="412.7" cy="351.2" r="0.8"/><circle cx="414.5" cy="354" r="0.8"/><circle cx="414.2" cy="353.5" r="0.8"/><circle cx="415.3" cy="354.7" r="0.8"/><circle cx="417" cy="356.5" r="0.8"/><circle cx="417" cy="361.9" r="0.6"/><circle cx="420.1" cy="366.3" r="0.6"/><circle cx="420.9" cy="365" r="0.6"/><circle cx="422.5" cy="368.5" r="0.6"/><circle cx="422.4" cy="370.1" r="0.6"/><circle cx="422.2" cy="372" r="0.6"/><circle cx="428.9" cy="351.2" r="0.6"/><circle cx="432.2" cy="358" r="0.6"/><circle cx="433" cy="358.1" r="0.6"/><circle cx="436.9" cy="359.2" r="0.6"/><circle cx="437.8" cy="360.8" r="0.6"/><circle cx="438.4" cy="364.7" r="0.6"/><circle cx="438.7" cy="368.9" r="0.6"/><circle cx="457.9" cy="345.2" r="0.6"/><circle cx="462.3" cy="351" r="0.6"/><circle cx="461.7" cy="351.4" r="0.6"/><circle cx="464.2" cy="356.3" r="0.6"/><circle cx="467.4" cy="360.1" r="0.6"/><circle cx="467.4" cy="361" r="0.6"/><circle cx="466" cy="365.8" r="0.6"/><circle cx="447" cy="371.3" r="0.6"/><circle cx="455.7" cy="370.3" r="0.6"/><circle cx="456.5" cy="371.7" r="0.6"/><circle cx="463.1" cy="368.4" r="0.6"/><circle cx="426.9" cy="302.1" r="0.6"/><circle cx="430.4" cy="303.9" r="0.6"/><circle cx="435.4" cy="306" r="0.6"/><circle cx="435.3" cy="305.7" r="0.6"/><circle cx="443" cy="308.8" r="0.6"/><circle cx="443.1" cy="308.8" r="0.6"/><circle cx="451.3" cy="310.2" r="0.6"/><circle cx="398.8" cy="371.6" r="0.8"/><circle cx="399.8" cy="372.8" r="0.8"/><circle cx="399.7" cy="374.9" r="0.8"/><circle cx="401.2" cy="377.9" r="0.8"/><circle cx="400.3" cy="377.9" r="0.8"/><circle cx="402.1" cy="379.8" r="0.8"/><circle cx="402.3" cy="381.8" r="0.8"/><circle cx="402.9" cy="383.3" r="0.8"/><circle cx="403.9" cy="384.1" r="0.8"/><circle cx="404.5" cy="386.7" r="0.8"/><circle cx="405.5" cy="388.8" r="0.8"/><circle cx="431.6" cy="379.8" r="0.6"/><circle cx="432.6" cy="385.4" r="0.6"/><circle cx="432.5" cy="385.8" r="0.6"/><circle cx="431.3" cy="391" r="0.6"/><circle cx="435.1" cy="377" r="0.8"/><circle cx="438.4" cy="377.3" r="0.8"/><circle cx="441.7" cy="378.4" r="0.8"/><circle cx="451.5" cy="386.7" r="0.6"/><circle cx="455.2" cy="387.1" r="0.6"/><circle cx="458.8" cy="387.1" r="0.6"/><circle cx="458.6" cy="387.5" r="0.6"/><circle cx="459.4" cy="392.2" r="0.6"/><circle cx="468.7" cy="394" r="0.6"/><circle cx="472.4" cy="394.7" r="0.6"/><circle cx="475.2" cy="395.3" r="0.6"/><circle cx="478.7" cy="396.2" r="0.6"/><circle cx="471.6" cy="383.2" r="0.8"/><circle cx="475.6" cy="384" r="0.8"/><circle cx="476.4" cy="384.4" r="0.8"/><circle cx="478.7" cy="383.7" r="0.8"/><circle cx="481.8" cy="382.2" r="0.8"/><circle cx="483.9" cy="381.2" r="0.8"/><circle cx="483.7" cy="389.8" r="0.6"/><circle cx="491.3" cy="391.6" r="0.6"/><circle cx="491.4" cy="392.2" r="0.6"/><circle cx="501.3" cy="395.3" r="0.6"/><circle cx="501.7" cy="394.3" r="0.6"/><circle cx="509.5" cy="398.6" r="0.6"/><circle cx="509.9" cy="397.3" r="0.6"/><circle cx="511.3" cy="396.5" r="0.6"/><circle cx="511.2" cy="396.2" r="0.6"/><circle cx="518.3" cy="397.8" r="0.6"/><circle cx="465.6" cy="361.3" r="0.6"/><circle cx="467.4" cy="365.8" r="0.6"/><circle cx="471.2" cy="369.7" r="0.6"/><circle cx="471.5" cy="371" r="0.6"/><circle cx="473.1" cy="371.6" r="0.6"/><circle cx="543.2" cy="401" r="0.7"/><circle cx="545.5" cy="400.6" r="0.7"/><circle cx="594.3" cy="413.3" r="0.7"/><circle cx="597.5" cy="413.2" r="0.7"/><circle cx="529.7" cy="300.2" r="0.8"/><circle cx="624.1" cy="319.7" r="0.7"/><circle cx="626.9" cy="321.2" r="0.7"/><circle cx="628.4" cy="321.9" r="0.7"/><circle cx="628.7" cy="321.8" r="0.7"/><circle cx="629.7" cy="323.8" r="0.7"/><circle cx="631.5" cy="325.5" r="0.7"/><circle cx="631.4" cy="325.9" r="0.7"/><circle cx="631.2" cy="329.8" r="0.7"/><circle cx="606.8" cy="330.7" r="0.7"/><circle cx="611.3" cy="330.8" r="0.7"/><circle cx="617" cy="330.5" r="0.7"/><circle cx="616.3" cy="329.8" r="0.7"/><circle cx="621.2" cy="330.6" r="0.7"/><circle cx="626.5" cy="330.3" r="0.7"/><circle cx="304.4" cy="344.3" r="0.55"/><circle cx="311.7" cy="347.5" r="0.55"/><circle cx="326" cy="319.1" r="0.55"/><circle cx="326.7" cy="323.6" r="0.55"/><circle cx="326.5" cy="361.4" r="0.55"/><circle cx="320.2" cy="354.7" r="0.55"/><circle cx="333.3" cy="346.8" r="0.55"/><circle cx="331.1" cy="362" r="0.55"/><circle cx="330.9" cy="364.2" r="0.55"/><circle cx="313.1" cy="357.9" r="0.55"/><circle cx="315.9" cy="365" r="0.55"/><circle cx="326" cy="331.5" r="0.55"/><circle cx="319.4" cy="336" r="0.55"/><circle cx="310.6" cy="346.5" r="0.55"/><circle cx="323.6" cy="363.3" r="0.55"/><circle cx="329.1" cy="364.6" r="0.55"/><circle cx="328.5" cy="324.2" r="0.55"/><circle cx="296" cy="357.9" r="0.55"/><circle cx="307.5" cy="356.2" r="0.55"/><circle cx="325.3" cy="318" r="0.55"/><circle cx="331.1" cy="333.1" r="0.55"/><circle cx="319.3" cy="368.3" r="0.55"/><circle cx="324.5" cy="317.3" r="0.55"/><circle cx="325.1" cy="323.8" r="0.55"/><circle cx="308.6" cy="366.2" r="0.55"/><circle cx="316.7" cy="343.1" r="0.55"/><circle cx="327" cy="347.1" r="0.55"/><circle cx="322.3" cy="348.3" r="0.55"/><circle cx="315.1" cy="353.6" r="0.55"/><circle cx="314.2" cy="346.2" r="0.55"/><circle cx="326.3" cy="318.8" r="0.55"/><circle cx="326" cy="340.2" r="0.55"/><circle cx="328.9" cy="334.2" r="0.55"/><circle cx="330.5" cy="354.6" r="0.55"/><circle cx="328.8" cy="366.5" r="0.55"/><circle cx="324.1" cy="332.5" r="0.55"/><circle cx="311.7" cy="347" r="0.55"/><circle cx="322.8" cy="354.4" r="0.55"/><circle cx="309.9" cy="349.9" r="0.55"/><circle cx="320.6" cy="325.7" r="0.55"/><circle cx="336" cy="359.9" r="0.55"/><circle cx="336.1" cy="349.5" r="0.55"/><circle cx="314.5" cy="337.2" r="0.55"/><circle cx="315.3" cy="365.8" r="0.55"/><circle cx="332.6" cy="359.8" r="0.55"/><circle cx="328" cy="343" r="0.55"/><circle cx="323.9" cy="330.8" r="0.55"/><circle cx="341.4" cy="352.2" r="0.55"/><circle cx="342.6" cy="362.9" r="0.55"/><circle cx="328" cy="343.3" r="0.55"/><circle cx="314.1" cy="365.2" r="0.55"/><circle cx="325.2" cy="333.6" r="0.55"/><circle cx="305.2" cy="361.1" r="0.55"/><circle cx="317.7" cy="356.9" r="0.55"/><circle cx="320.9" cy="358.7" r="0.55"/><circle cx="300.6" cy="357.4" r="0.55"/><circle cx="342.4" cy="358.2" r="0.55"/><circle cx="326.1" cy="361.1" r="0.55"/><circle cx="306.1" cy="343.4" r="0.55"/><circle cx="314.7" cy="340.6" r="0.55"/><circle cx="310.7" cy="349.8" r="0.55"/><circle cx="323.8" cy="334.7" r="0.55"/><circle cx="298" cy="344.9" r="0.55"/><circle cx="331" cy="335.7" r="0.55"/><circle cx="311.9" cy="347.5" r="0.55"/><circle cx="335.7" cy="348.5" r="0.55"/><circle cx="315.1" cy="335.3" r="0.55"/><circle cx="318.7" cy="352.7" r="0.55"/><circle cx="314.5" cy="352.2" r="0.55"/><circle cx="316.8" cy="328.5" r="0.55"/><circle cx="320.9" cy="352.3" r="0.55"/><circle cx="314.8" cy="362" r="0.55"/><circle cx="341.1" cy="357.4" r="0.55"/><circle cx="305.7" cy="340.1" r="0.55"/><circle cx="298" cy="358.5" r="0.55"/><circle cx="328" cy="362.5" r="0.55"/><circle cx="335.2" cy="350.8" r="0.55"/><circle cx="332" cy="345.4" r="0.55"/><circle cx="296.8" cy="346.6" r="0.55"/><circle cx="297.9" cy="360.2" r="0.55"/><circle cx="328.6" cy="359.8" r="0.55"/><circle cx="332.8" cy="364.9" r="0.55"/><circle cx="322.5" cy="359.3" r="0.55"/><circle cx="305" cy="348.1" r="0.55"/><circle cx="329.6" cy="355.5" r="0.55"/><circle cx="328.6" cy="342.9" r="0.55"/><circle cx="318" cy="349.5" r="0.55"/><circle cx="296.4" cy="355.1" r="0.55"/><circle cx="315.8" cy="353.6" r="0.55"/><circle cx="302.2" cy="346.5" r="0.55"/><circle cx="329.6" cy="365.9" r="0.55"/><circle cx="307.6" cy="352.8" r="0.55"/><circle cx="314.1" cy="360.7" r="0.55"/><circle cx="323.7" cy="329.7" r="0.55"/><circle cx="317.8" cy="335.8" r="0.55"/><circle cx="309" cy="356.5" r="0.55"/><circle cx="317.8" cy="347.2" r="0.55"/><circle cx="317.2" cy="359.7" r="0.55"/><circle cx="317.9" cy="353.7" r="0.55"/><circle cx="332" cy="366.3" r="0.55"/><circle cx="317.1" cy="327.7" r="0.55"/><circle cx="304.2" cy="353.5" r="0.55"/><circle cx="328.7" cy="366.2" r="0.55"/><circle cx="301.5" cy="352.8" r="0.55"/><circle cx="338.9" cy="363.1" r="0.55"/><circle cx="305.3" cy="361.3" r="0.55"/><circle cx="296.3" cy="359.6" r="0.55"/><circle cx="323.4" cy="351.3" r="0.55"/><circle cx="315.4" cy="341.3" r="0.55"/><circle cx="302.8" cy="346.5" r="0.55"/><circle cx="321.4" cy="321.9" r="0.55"/><circle cx="306.4" cy="350.7" r="0.55"/><circle cx="297.4" cy="362.4" r="0.55"/><circle cx="334.1" cy="355.6" r="0.55"/><circle cx="307.6" cy="351.3" r="0.55"/><circle cx="327.5" cy="358.2" r="0.55"/><circle cx="305.9" cy="355.4" r="0.55"/><circle cx="321" cy="321.6" r="0.55"/><circle cx="318.6" cy="334.2" r="0.55"/><circle cx="331.1" cy="351.4" r="0.55"/><circle cx="322.6" cy="325.2" r="0.55"/><circle cx="327.1" cy="348.9" r="0.55"/><circle cx="301.1" cy="362.6" r="0.55"/><circle cx="327.6" cy="322.1" r="0.55"/><circle cx="309.6" cy="353.6" r="0.55"/><circle cx="324.4" cy="344.9" r="0.55"/><circle cx="327.2" cy="339.8" r="0.55"/><circle cx="294.9" cy="353.4" r="0.55"/><circle cx="333.1" cy="344.3" r="0.55"/><circle cx="319.2" cy="328.7" r="0.55"/><circle cx="369.8" cy="355.7" r="0.55"/><circle cx="374.8" cy="356.6" r="0.55"/><circle cx="364.5" cy="361.1" r="0.55"/><circle cx="391.1" cy="368.4" r="0.55"/><circle cx="379.2" cy="358.8" r="0.55"/><circle cx="367.8" cy="355.7" r="0.55"/><circle cx="369.1" cy="370.7" r="0.55"/><circle cx="388.3" cy="368.5" r="0.55"/><circle cx="372.1" cy="365.2" r="0.55"/><circle cx="385.3" cy="369.4" r="0.55"/><circle cx="381.4" cy="366" r="0.55"/><circle cx="391.7" cy="369.6" r="0.55"/><circle cx="379.5" cy="359.3" r="0.55"/><circle cx="390" cy="369.2" r="0.55"/><circle cx="378.3" cy="361.3" r="0.55"/><circle cx="381.1" cy="361.6" r="0.55"/><circle cx="367.4" cy="359.4" r="0.55"/><circle cx="371.2" cy="363.5" r="0.55"/><circle cx="377.1" cy="360" r="0.55"/><circle cx="375.3" cy="357.5" r="0.55"/><circle cx="373.5" cy="367.4" r="0.55"/><circle cx="372.4" cy="364" r="0.55"/><circle cx="364.3" cy="358" r="0.55"/><circle cx="386.3" cy="365" r="0.55"/><circle cx="369.8" cy="359.8" r="0.55"/><circle cx="368" cy="362.2" r="0.55"/><circle cx="390.4" cy="371.2" r="0.55"/><circle cx="375.2" cy="371" r="0.55"/><circle cx="371.6" cy="357.3" r="0.55"/><circle cx="374.3" cy="371.3" r="0.55"/><circle cx="363.8" cy="356.9" r="0.55"/><circle cx="371.5" cy="355.6" r="0.55"/><circle cx="368.9" cy="354.9" r="0.55"/><circle cx="364.1" cy="356.9" r="0.55"/><circle cx="366.2" cy="363.4" r="0.55"/><circle cx="370" cy="361.3" r="0.55"/><circle cx="370.2" cy="370" r="0.55"/><circle cx="363.4" cy="358.4" r="0.55"/><circle cx="370" cy="357.6" r="0.55"/><circle cx="369.6" cy="369.6" r="0.55"/><circle cx="612.2" cy="319.9" r="0.5"/><circle cx="619.3" cy="324.6" r="0.5"/><circle cx="617" cy="324.1" r="0.5"/><circle cx="605.9" cy="308.5" r="0.5"/><circle cx="609" cy="316.1" r="0.5"/><circle cx="595.3" cy="307.8" r="0.5"/><circle cx="627" cy="323" r="0.5"/><circle cx="608.8" cy="318.5" r="0.5"/><circle cx="601.5" cy="306.6" r="0.5"/><circle cx="592.7" cy="304.3" r="0.5"/><circle cx="599.1" cy="316.7" r="0.5"/><circle cx="600.6" cy="310" r="0.5"/><circle cx="599.6" cy="313.9" r="0.5"/><circle cx="617.4" cy="322.3" r="0.5"/><circle cx="601.7" cy="316.2" r="0.5"/><circle cx="594.8" cy="320.3" r="0.5"/><circle cx="624.8" cy="324.6" r="0.5"/><circle cx="600.8" cy="311" r="0.5"/><circle cx="608.2" cy="320.7" r="0.5"/><circle cx="591.1" cy="320.1" r="0.5"/><circle cx="619.4" cy="322.7" r="0.5"/><circle cx="590.4" cy="310.7" r="0.5"/><circle cx="611.7" cy="324" r="0.5"/><circle cx="609.1" cy="310" r="0.5"/><circle cx="599.7" cy="306.9" r="0.5"/><circle cx="243" cy="421" r="0.9"/><circle cx="428.3" cy="432.7" r="0.8"/><path d="M60.6,282.6 L63,283 L65.6,284.8" fill="none" stroke="#1a1a1a" stroke-width="1.2" stroke-linecap="round" stroke-linejoin="round"/><path d="M685.2,283 L688.8,282.4" fill="none" stroke="#1a1a1a" stroke-width="1.2" stroke-linecap="round" stroke-linejoin="round"/><path d="M79.8,292.5 L81,293.2" fill="none" stroke="#1a1a1a" stroke-width="1.3" stroke-linecap="round" stroke-linejoin="round"/><path d="M78,301.2 L80.5,301 L82,301.8 L84.5,300.5 L86,299.6" fill="none" stroke="#1a1a1a" stroke-width="1.5" stroke-linecap="round" stroke-linejoin="round"/><path d="M65.5,322.3 L67.5,322 L68.3,324 L66.3,325.3" fill="none" stroke="#1a1a1a" stroke-width="1.2" stroke-linecap="round" stroke-linejoin="round"/><path d="M185,374 L186.5,375.3 L187.6,375" fill="none" stroke="#1a1a1a" stroke-width="1.2" stroke-linecap="round" stroke-linejoin="round"/><path d="M456.3,312.7 L459.7,312.3 L463.3,314 L465.7,317" fill="none" stroke="#1a1a1a" stroke-width="1.5" stroke-linecap="round" stroke-linejoin="round"/><path d="M490.8,366.8 L492.7,369.4 L494.2,371.6" fill="none" stroke="#1a1a1a" stroke-width="1.3" stroke-linecap="round" stroke-linejoin="round"/><path d="M484.4,402.7 L486.3,403.6" fill="none" stroke="#1a1a1a" stroke-width="1.3" stroke-linecap="round" stroke-linejoin="round"/><path d="M424.6,405.5 L424,409.5" fill="none" stroke="#1a1a1a" stroke-width="1" stroke-linecap="round" stroke-linejoin="round"/><path d="M598.3,305.2 L600.8,307.7 L603.7,309.7 L606.7,312.7" fill="none" stroke="#1a1a1a" stroke-width="1" stroke-linecap="round" stroke-linejoin="round"/></g>
</g>
</g>
<rect x="52.85" y="36.75" width="655.3" height="171.4" rx="11.95" fill="none" stroke="#000" stroke-width="3.1"/>
<g clip-path="url(#clipB)">
<g transform="translate(0,0)">
<path d="M78,316 L77.7,321.8 L78.8,327.7 L81.7,333.3 L86.3,338.5 L93,343" fill="none" stroke="#CACDE6" stroke-width="12" stroke-linecap="round" stroke-linejoin="round"/><circle cx="67" cy="323.5" r="8.2" fill="#2F88BC"/><circle cx="119.2" cy="354.3" r="6.6" fill="#2F88BC"/><circle cx="84.2" cy="366.8" r="6.4" fill="#2F88BC"/><circle cx="98.8" cy="381" r="6.5" fill="#2F88BC"/><path d="M199.2,327 L204.2,324.3 L208.7,320.2 L212.5,316 L215,312.7 L213.3,309.7 L209.7,307.7" fill="none" stroke="#6FA4CF" stroke-width="12" stroke-linecap="round" stroke-linejoin="round"/><path d="M209.7,307.2 L213.3,307.7 L219.2,308.5" fill="none" stroke="#CACDE6" stroke-width="10" stroke-linecap="round" stroke-linejoin="round"/><path d="M219.2,308.5 L223.3,308.5 L227.5,309 L230,311 L231.7,313.5" fill="none" stroke="#CACDE6" stroke-width="10" stroke-linecap="round" stroke-linejoin="round"/><circle cx="249.7" cy="339.2" r="8.3" fill="#A5B9DD"/><path d="M235.8,329 L236.3,341 L237,356" fill="none" stroke="#A5B9DD" stroke-width="13" stroke-linecap="round" stroke-linejoin="round"/><circle cx="234.8" cy="364" r="7" fill="#CACDE6"/><circle cx="205.5" cy="331.5" r="6.2" fill="#CACDE6"/><path d="M183.3,387.5 L182,395 L184.7,402" fill="none" stroke="#CACDE6" stroke-width="9" stroke-linecap="round" stroke-linejoin="round"/><circle cx="190" cy="369.7" r="6.6" fill="#A5B9DD"/><circle cx="185.3" cy="374.7" r="6.4" fill="#A5B9DD"/><path d="M190,369.7 L198.3,366.7 L205.8,360.8" fill="none" stroke="#A5B9DD" stroke-width="11" stroke-linecap="round" stroke-linejoin="round"/><circle cx="205.8" cy="360.3" r="6.8" fill="#A5B9DD"/><circle cx="207" cy="365.8" r="6.2" fill="#A5B9DD"/><path d="M203.3,367.5 L213.3,366.7 L218.3,372.5 L217.5,380 L211.7,383.7 L205,381.7 L202.5,375Z" fill="#CACDE6" stroke="#CACDE6" stroke-width="1" stroke-linejoin="round"/><circle cx="205.5" cy="389.7" r="7" fill="#2F88BC"/><circle cx="209.7" cy="388.8" r="7" fill="#2F88BC"/><circle cx="219.7" cy="388.3" r="6.6" fill="#2F88BC"/><path d="M269.7,326.8 L270.7,334.3 L271.7,341.8" fill="none" stroke="#CACDE6" stroke-width="11" stroke-linecap="round" stroke-linejoin="round"/><circle cx="277" cy="374" r="6.3" fill="#A5B9DD"/><circle cx="291.3" cy="373" r="5.8" fill="#A5B9DD"/><path d="M315.9,314.2 L320,309.1 L325.1,307 L329.2,303.9 L332.3,301.4 L337.4,299.8 L342.6,301.9 L344.6,307 L342.6,312.2 L337.4,314.2 L333.3,313.2 L328.2,315.2 L327.7,319.3 L321,318.3 L316.9,317.3Z" fill="#2F88BC" stroke="#2F88BC" stroke-width="1" stroke-linejoin="round"/><circle cx="338" cy="306.7" r="0.1" fill="#2F88BC"/><path d="M306.8,311.4 L312.8,309.8 L317.2,306.9" fill="none" stroke="#CACDE6" stroke-width="5" stroke-linecap="round" stroke-linejoin="round"/><path d="M309.9,366.6 L317.2,365.5 L327.6,365.5 L329.7,368.7 L326.8,372.9 L321.5,374.9 L316.3,374.9 L312,372.4Z" fill="#2F88BC" stroke="#2F88BC" stroke-width="1" stroke-linejoin="round"/><path d="M335.9,349.7 L341.5,347.7 L349.7,348.7 L355.9,351.8 L355.4,355.4 L350.8,354.9 L343.6,353.8 L337.4,353.8Z" fill="#6FA4CF" stroke="#6FA4CF" stroke-width="1" stroke-linejoin="round"/><path d="M307.6,391.1 L311.1,388.8 L316.3,386.9 L321.5,383.9 L325,380.8 L328.5,377.5" fill="none" stroke="#A5B9DD" stroke-width="10" stroke-linecap="round" stroke-linejoin="round"/><path d="M332,376.6 L335.5,372.9 L339.8,371.1 L346.8,371.1 L348.5,375.7 L352.8,382 L346.8,381.1 L341.5,375.7 L336.3,378.4Z" fill="#CACDE6" stroke="#CACDE6" stroke-width="1" stroke-linejoin="round"/><path d="M318.1,360.2 L323.3,362.9 L330.2,362 L336.3,361.1" fill="none" stroke="#CACDE6" stroke-width="8" stroke-linecap="round" stroke-linejoin="round"/><path d="M353,299 L355.5,307.3" fill="none" stroke="#A5B9DD" stroke-width="12" stroke-linecap="round" stroke-linejoin="round"/><path d="M361,313.2 L363.3,319.3 L363.3,324.3 L361.3,329.7" fill="none" stroke="#CACDE6" stroke-width="11.5" stroke-linecap="round" stroke-linejoin="round"/><circle cx="378.1" cy="307.8" r="6.3" fill="#A5B9DD"/><path d="M338.4,346.2 L344,338.5" fill="none" stroke="#A5B9DD" stroke-width="12" stroke-linecap="round" stroke-linejoin="round"/><path d="M344.1,338.5 L350.4,334.7 L354.6,334.7" fill="none" stroke="#A5B9DD" stroke-width="12" stroke-linecap="round" stroke-linejoin="round"/><path d="M354.6,337.4 L360.7,340.4 L365.9,340.4 L370.2,340 L374.6,340.9 L378.1,342.5 L385.4,341.6 L389.4,341.8 L393.7,343.8" fill="none" stroke="#CACDE6" stroke-width="13" stroke-linecap="round" stroke-linejoin="round"/><circle cx="400" cy="316.9" r="6.3" fill="#A5B9DD"/><path d="M387.6,329.2 L396.3,326.2 L405.9,326.9 L412,332.9 L413.7,340.2 L410.2,346.5 L402.4,347.6 L396.3,342.9 L390.2,337.4Z" fill="#A5B9DD" stroke="#A5B9DD" stroke-width="1" stroke-linejoin="round"/><circle cx="398.9" cy="324.3" r="6.3" fill="#A5B9DD"/><circle cx="400.5" cy="352.9" r="6.3" fill="#CACDE6"/><path d="M410.8,346 L411.5,349.6 L414.2,353.5 L417.2,356.7" fill="none" stroke="#CACDE6" stroke-width="13" stroke-linecap="round" stroke-linejoin="round"/><path d="M416.5,362.4 L420.9,365.6 L422.4,369.3 L421.6,371.7" fill="none" stroke="#CACDE6" stroke-width="13" stroke-linecap="round" stroke-linejoin="round"/><path d="M429.4,351.5 L432.9,357.5 L437.2,359.8 L438.1,368.4 L437.2,371.1" fill="none" stroke="#CACDE6" stroke-width="13" stroke-linecap="round" stroke-linejoin="round"/><path d="M458.3,345.2 L462.5,351.8 L466.7,360.2 L465.3,366 L460.8,370.2" fill="none" stroke="#CACDE6" stroke-width="12.5" stroke-linecap="round" stroke-linejoin="round"/><path d="M426.7,301.8 L435,305.7 L443.3,308.5 L450.8,310.3 L456.7,311.8 L463.3,314.7 L468.3,318.5" fill="none" stroke="#165B8F" stroke-width="11.5" stroke-linecap="round" stroke-linejoin="round"/><circle cx="441.7" cy="322.3" r="6.3" fill="#165B8F"/><path d="M398.9,371.1 L400.7,377.5 L403.3,383.9 L405.6,388.4" fill="none" stroke="#A5B9DD" stroke-width="12.5" stroke-linecap="round" stroke-linejoin="round"/><path d="M379,385 L383,379.5 L392,380 L398,383 L404,388 L407,393 L405,398.5 L397,400 L390,398 L383,397 L379,392Z" fill="#2F88BC" stroke="#2F88BC" stroke-width="1" stroke-linejoin="round"/><circle cx="400.8" cy="405" r="6.3" fill="#6FA4CF"/><circle cx="385.5" cy="409.5" r="6.3" fill="#6FA4CF"/><path d="M425,405 L424.5,410" fill="none" stroke="#A5B9DD" stroke-width="11" stroke-linecap="round" stroke-linejoin="round"/><path d="M431.1,380.2 L432.9,385.7 L431.6,391.1" fill="none" stroke="#A5B9DD" stroke-width="13" stroke-linecap="round" stroke-linejoin="round"/><circle cx="427.6" cy="377.1" r="6.4" fill="#CACDE6"/><path d="M435.5,376.6 L441.6,378 L444.2,378.4" fill="none" stroke="#A5B9DD" stroke-width="13" stroke-linecap="round" stroke-linejoin="round"/><path d="M411,381 L416,378 L424,378 L429,382 L430,389 L426,394 L418,395 L412,391Z" fill="#2F88BC" stroke="#2F88BC" stroke-width="1" stroke-linejoin="round"/><circle cx="418.1" cy="374.8" r="6.4" fill="#CACDE6"/><path d="M465.1,362 L468.3,366.5 L471.5,370.9" fill="none" stroke="#CACDE6" stroke-width="12.5" stroke-linecap="round" stroke-linejoin="round"/><circle cx="465.1" cy="361.3" r="6.6" fill="#CACDE6"/><path d="M447.6,371.8 L456.3,370.9 L462.4,368.4 L465.9,370.2" fill="none" stroke="#CACDE6" stroke-width="12.5" stroke-linecap="round" stroke-linejoin="round"/><path d="M449.1,383.8 L454.2,380.6 L461.9,381.8 L467.1,386.3 L467.1,396.6 L460.6,399.2 L454.2,396.6 L449.7,391.5Z" fill="#A5B9DD" stroke="#A5B9DD" stroke-width="1" stroke-linejoin="round"/><path d="M466.4,369.7 L473.5,365.8 L481.2,367.1 L486.3,374.8 L491.4,377.4 L496.5,382.5 L499.1,388.9 L495.3,395.3 L491.4,399.2 L490.1,404.3 L486.3,409.4 L481.2,408.1 L478.6,403 L472.2,400.4 L467.1,396.6 L465.8,390.2 L467.1,382.5 L465.8,376.1Z" fill="#CACDE6" stroke="#CACDE6" stroke-width="1" stroke-linejoin="round"/><circle cx="485.3" cy="403.3" r="6.8" fill="#A5B9DD"/><path d="M496.5,391.5 L501,394.7 L509.4,397.6 L519,397.5" fill="none" stroke="#A5B9DD" stroke-width="12.8" stroke-linecap="round" stroke-linejoin="round"/><circle cx="492" cy="368" r="8" fill="#2F88BC"/><circle cx="543.8" cy="401" r="6.3" fill="#2F88BC"/><circle cx="551.3" cy="399.8" r="6.3" fill="#2F88BC"/><circle cx="595.8" cy="400" r="5.8" fill="#6FA4CF"/><path d="M594.5,413 L598,413" fill="none" stroke="#6FA4CF" stroke-width="14" stroke-linecap="round" stroke-linejoin="round"/><circle cx="535.5" cy="318.5" r="5.8" fill="#6FA4CF"/><circle cx="542.5" cy="318" r="5.8" fill="#6FA4CF"/><circle cx="545" cy="333" r="6.3" fill="#A5B9DD"/><path d="M539.2,305.2 L544.2,310.2 L548.7,314" fill="none" stroke="#2F88BC" stroke-width="4.5" stroke-linecap="round" stroke-linejoin="round"/><circle cx="583.3" cy="341.8" r="6.8" fill="#A5B9DD"/><circle cx="592.5" cy="347" r="7" fill="#A5B9DD"/><path d="M598.3,338 L597,341.8 L595.5,346 L594.7,351 L593.8,356.8 L594.3,361.8 L595.8,366" fill="none" stroke="#A5B9DD" stroke-width="11" stroke-linecap="round" stroke-linejoin="round"/><path d="M609.2,288.5 L604.2,292.7 L598.3,296.8" fill="none" stroke="#2F88BC" stroke-width="7" stroke-linecap="round" stroke-linejoin="round"/><circle cx="622.5" cy="294.3" r="6.5" fill="#A5B9DD"/><path d="M600.1,300.3 L607.2,306 L613.6,311.2 L621.3,315.6" fill="none" stroke="#6FA4CF" stroke-width="9.5" stroke-linecap="round" stroke-linejoin="round"/><path d="M623.8,316.3 L630.3,318.8 L634.1,324 L634.7,329.7 L631.5,332.9" fill="none" stroke="#A5B9DD" stroke-width="9.5" stroke-linecap="round" stroke-linejoin="round"/><path d="M583.3,316 L582.8,322.7 L589.2,323.8 L592.5,326.8 L592.8,331.8 L594.2,335.2 L599.2,335.2" fill="none" stroke="#A5B9DD" stroke-width="10" stroke-linecap="round" stroke-linejoin="round"/><path d="M585.4,302.8 L595.6,300.9 L602.1,302.8 L608.5,309.2 L614.9,314.4 L623.8,316.9 L629,320.8 L627.7,326.5 L618.7,326.5 L608.5,325.3 L598.2,323.3 L590.5,322.1 L585.4,319.5 L584.7,310.5Z" fill="#A5B9DD" stroke="#A5B9DD" stroke-width="1" stroke-linejoin="round"/><path d="M665,357.5 L670,360 L674.2,363.3 L675,367.5 L673.3,371.7 L670.8,375.8 L668.3,380 L667.5,385 L666.7,389.2 L664.2,393.3" fill="none" stroke="#CACDE6" stroke-width="12" stroke-linecap="round" stroke-linejoin="round"/><circle cx="684.7" cy="350.8" r="5.5" fill="#CACDE6"/><circle cx="680" cy="359.7" r="5.3" fill="#A5B9DD"/><circle cx="683.7" cy="390" r="6" fill="#CACDE6"/><path d="M672,392 L683.7,390" fill="none" stroke="#CACDE6" stroke-width="8" stroke-linecap="round" stroke-linejoin="round"/>
<path d="M108.1,268.3 L107.9,271.9 L107.1,273 L103.2,272.8 L96.3,272.3 L94,273.7 L94.9,277.4 L93.7,281.6 L94.7,284.7 L97.3,284.3 L99.2,285.6 L100.5,286.5 L101.7,288 L100,289.3 L98,291 L95,293.5 L92.5,296 L90,298.5 L87.5,301 L85,303.5 L83,306 L81.7,309 L80.5,312.7 L79.7,316 L79.2,319.3 L79.2,322.7 L80,325.2 L80.8,328.5 L82.5,331.8 L84.7,334.7 L87,336.8 L89.2,339 L91.7,340.7 L95,342.3 L98.3,343.2 L102.5,343.5 L106.7,343 L110.8,341.8 L114.2,341.3 L117.5,342.3 L120,344.3 L122,346 L124.7,347 L125.8,346.7 L127.5,353.3 L130,360 L132,366.7 L132.5,371.7 L130.8,375.8 L129.7,380.8 L130,385.8 L131.7,390.8 L133.3,395.8 L135,400.8 L137,405.8 L139.2,410.8 L141.7,414.2 L145,415.3 L149.2,414.7 L153.3,413.3 L157.5,411.7 L160.8,408.3 L163.3,405 L165.3,401.7 L166.7,398.3 L169.2,397.5 L170.8,395 L171.7,390.8 L172.5,388.3 L175,385.8 L178.3,382.5 L180,379.2 L179.7,375 L179.2,370.8 L178.3,366.7 L179.2,363.3 L180.8,360 L183.3,356.7 L186.7,352.5 L190,348.3 L193.3,344.2 L195.8,340 L195.5,340 L198.3,336 L200.8,332.7 L204.7,329.8 L198.3,330.3 L191.7,331.5 L186.3,332.3 L190,330.7 L192.5,329 L198.3,327.3 L204.2,324.3 L208.7,320.2 L212.5,316 L215,312.7 L212.5,309.7 L209.2,307.7 L208.7,306.8 L213.3,307.7 L218.3,308.5 L223.3,308.5 L227.5,309 L230,311 L231.7,313.5 L234.2,316 L235.3,314.3 L236.7,316 L237.5,319.3 L239.2,323.5 L240.8,327.7 L242.5,331.8 L244.2,335.2 L246.7,337.3 L248.3,335.2 L249.2,331 L250.8,327.7 L253.3,323.5 L256.7,319.3 L260,316.8 L263.3,315.2 L267.6,311.4 L269.9,311.4 L270.7,314.1 L272.8,316.5 L274.2,319.2 L274.4,322.9 L276.1,323.2 L278.6,321.4 L280,322 L280.1,324.7 L281,327.4 L281.7,330.5 L281.5,333.8 L281.2,336.9 L282.7,338.7 L284.5,340.4 L284.8,342.9 L285.7,345.1 L286.6,346.9 L288.5,348.5 L290.2,349.6 L291.4,349.5 L291.1,347.4 L290.1,345.6 L290.1,343.8 L288.7,341.4 L287.6,340.5 L285.9,339.4 L285,338.7 L284.1,336.5 L284,335.1 L282.7,333.3 L283.8,330.5 L284.1,327.6 L285.7,327.6 L285.9,328.9 L288,329.8 L289.4,332 L291.8,333.1 L292.8,336.2 L294.2,334.7 L295.8,333.1 L297.7,332.5 L299.8,331.1 L300.3,328.3 L299.6,324.2 L297.2,321.6 L295.4,319.6 L294.2,317.4 L295.6,315.1 L297.2,313.2 L298.9,312.5 L300.7,312.9 L301.4,315.1 L302.2,315.1 L302.4,313.2 L304.7,312.7 L307.6,311.6 L309.4,310.9 L312,310.3 L314.2,308.9 L316.7,306.9 L318.2,305 L318.9,302.9 L321.5,300.1 L322.2,297.8 L320.7,296.5 L322.2,294.7 L320.1,292.3 L319.4,289.8 L317.5,288.3 L319.4,286.3 L323.3,284.8 L322.9,283.8 L320.3,283.2 L317.2,284.1 L315.1,281.9 L316,280.8 L318.1,279.6 L321,277.7 L322.8,278.3 L321.2,281 L322.4,280.8 L325,279.6 L326.4,279.4 L328,280.1 L327.6,282.8 L329.4,284.7 L330.2,285.6 L329.9,289.2 L332,288.8 L334.6,288.1 L335.5,285.6 L335.1,284.1 L333.5,281.7 L332,280.1 L333.7,278.3 L335.8,276.5 L337.5,274.8 L340.7,273.4 L345,271.9 L347.6,268.3ZM102.9,287.5 L107.4,285.2 L110.6,282.4 L112.6,279.5 L115.8,276.9 L118.6,275.6 L122.2,274.7 L124.7,273.4 L126.7,275 L129.2,277.5 L132.4,280.4 L135.6,283.3 L136.9,285.2 L138.8,283.9 L138.2,282 L140.8,281.1 L142.1,279.5 L140.1,277.9 L136.3,275.1 L132.9,272.5 L134,272.2 L137.6,274.6 L141.2,277.2 L143.3,280.1 L144.2,282 L145.9,283.9 L147.8,285.9 L149.1,286.5 L151,285.2 L150.4,282.7 L151.7,281.1 L152.9,279.5 L154.9,280.4 L155.3,282.4 L154.9,285.2 L156.8,287.2 L160.6,287.5 L164.5,287.8 L167.7,288.4 L170.3,287.8 L170.6,290.4 L169.9,293.6 L169,295.7 L165.8,296.1 L161.9,295.7 L158.7,295.5 L154.9,294.5 L151.7,293.6 L148.5,292.9 L145.9,293.6 L144,294.8 L142.7,296.8 L140.4,296.8 L138.2,294.8 L135.6,292.9 L133.7,292.3 L131.8,291.4 L130.1,290.4 L129.6,288.4 L129.2,286.5 L127.9,285 L124.7,284.6 L120.9,285 L117.1,285.5 L113.2,285.9 L109.4,286.8 L105.5,287.8 L102.9,288.1ZM158.7,275.6 L160.6,273.1 L163.8,271.4 L167.1,271.8 L169,273.1 L172.2,272.2 L177.3,274.3 L180.5,276.9 L177.3,278.2 L172.2,277.3 L168.3,276.5 L164.5,277.5 L160.6,277.8 L158.7,276.3ZM168.3,300.7 L170.7,301.7 L174.7,308.7 L178,314.8 L181.3,321.5 L184.2,327 L186.7,331 L184.7,332.3 L181.7,327.7 L178.5,321 L175.2,314.3 L171.8,308 L168.5,303.3ZM193.7,298 L196,297.7 L199.7,300.2 L203,303 L206.3,305 L209.3,306.5 L210,308.7 L206.7,309.3 L203.7,308.7 L200,306.3 L196.7,303 L194,300ZM518,267.7 L518.7,272.7 L519.2,277.7 L521.7,284.3 L525,289.3 L528.3,292.7 L530.8,296 L533.3,299.3 L537.5,303.5 L541.7,307.7 L545.8,311.8 L550,315.2 L555,318.5 L560,321 L565.8,323.5 L570.8,324.3 L575,324.3 L578.3,326 L581.7,328.5 L584.2,331.8 L586.7,334.3 L589.2,336.8 L591.7,338.5 L595,337.7 L597.5,336 L599.2,337.7 L597.5,341 L596.7,339.2 L595.8,343.3 L595,348.3 L594.2,353.3 L593.3,359.2 L595,364.2 L597.5,368.3 L600,372.5 L603.3,376.7 L606.7,380 L610,383.3 L612.5,386.7 L613,391.7 L612.5,396.7 L611.7,402.5 L610.8,408.3 L609.2,415 L607.5,421.7 L606.3,428.3 L605,434.2 L603.7,443.3 L621.3,443.3 L621.7,439.2 L622.5,435 L624.2,431.7 L625.8,428.3 L628.3,425 L631.7,421.7 L635.8,420 L637.5,416.7 L640,414.2 L644.2,411.7 L647.5,409.2 L650,405 L652.5,400.8 L655.8,397.5 L660,395 L664.2,393.3 L666.7,389.2 L667.5,385 L668.3,380 L670.8,375.8 L673.3,371.7 L675,367.5 L674.2,363.3 L670,360 L665,357.5 L660,355 L655,353.3 L650,351.7 L648.3,348.3 L645.8,345 L642.5,342.5 L637.5,340.8 L633.3,338.3 L630.8,335 L629.2,332.5 L623.3,331.7 L618.3,331.3 L613.3,330.3 L610,330 L605,332.5 L600.8,335 L597.5,337.5 L600,335.2 L598.3,334.3 L595.8,335.2 L593.3,335.2 L592.5,331.8 L593.3,327.7 L591.7,325.2 L589.2,323.5 L585,323.5 L582.5,322.7 L583.3,319.3 L584.2,316 L583.3,313.5 L580,313.5 L577.5,315.2 L575,317.7 L571.7,318.5 L568.3,316.8 L566.7,313.5 L566.3,309.3 L567.5,304.3 L570.8,301 L575,299.3 L580,299.3 L585,298.5 L590,298.5 L591.7,300.2 L592.5,304.3 L595,307.7 L596.7,306 L595.8,301.8 L595,297.7 L597.5,294.3 L601.7,290.2 L606.7,286.8 L608.3,282.7 L613.3,278.5 L616.7,276 L623.3,273.5 L626.7,272.7 L627.5,267.7Z" fill="#3a3839" fill-rule="evenodd" stroke="#3a3839" stroke-width="0.5" stroke-linejoin="round"/><path d="M124.1,275.6 L126,276 L126.3,278.8 L125.8,282.4 L124.1,282.4 L123.7,278.8ZM130.9,283.7 L135.3,283.9 L134.7,285.5 L132.4,285.2ZM114.2,279.6 L117.1,279.8 L116.8,281.4 L114.5,281.1ZM151.7,287.2 L154.9,287.3 L154.9,287.9 L151.7,287.8ZM165.1,289.5 L168.3,288.8 L167.7,290.4 L165.5,290.4ZM195.8,374.2 L197.2,377.5 L196.7,382.5 L195,388.3 L193,393.3 L190.8,396.7 L188,398.7 L185.3,398 L184.5,394.2 L185,389.2 L185.8,384.2 L188,380.8 L190.8,379.2 L193.3,375.8ZM249,334.3 L251.4,336.5 L252.7,339.3 L251.1,341.1 L249.4,341.1 L248.8,337.4ZM356.7,370.9 L359.9,376.7 L363.1,382.4 L366.9,387.6 L371.4,392.7 L374.6,397.2 L376.5,402.3 L376.2,407.4 L374,412.6 L371.4,417.1 L368.2,420.3 L365,421.5 L361.2,421.3 L357.3,420.3 L354.1,417.7 L351.5,416.4 L350.3,418.3 L347.7,417.1 L345.8,414.5 L343.2,411.9 L339.4,410.6 L334.2,410.3 L329.1,411.3 L324.6,412.6 L320.1,414.5 L315.6,415.4 L311.8,415.8 L309.2,413.8 L309.2,410.6 L307.9,406.8 L306.7,402.9 L305.4,399.1 L305.1,396.5 L306.4,393.3 L308.6,390.8 L312.4,389.5 L316.9,387.6 L320.8,385 L323.6,381.8 L326.5,379.2 L329.7,377.3 L332.9,376 L334.9,373.5 L337.4,372.6 L340.6,372.8 L343.8,372.2 L346.4,372.8 L347.7,374.7 L348.3,377.9 L350.3,380.5 L352.8,382.4 L354.1,380.5 L354.7,376.7 L355.4,372.8ZM359.9,422.4 L366.9,422.8 L367.9,426.7 L366.3,429.9 L363.7,431.2 L361.2,428.6 L359.9,424.7ZM586.7,310.7 L590.8,309.3 L596.7,309.7 L601.7,311.3 L606.7,314 L611.3,315.7 L610.8,317 L605.8,316 L600.8,313.5 L595,311.8 L589.2,312.3ZM611.3,317.3 L616.7,316.8 L623.3,318.5 L623,320.3 L617.5,320 L612.5,320.3 L610.8,319ZM599.2,319 L604.2,319.3 L604.2,320.7 L599.5,320.5ZM625,320 L628.3,320 L628.3,321.3 L625,321.3ZM575.3,351.3 L578.3,351 L579,353.7 L576.3,354.3Z" fill="#3a3839" stroke="#3a3839" stroke-width="0.8" stroke-linejoin="round"/><path d="M276,341.8 L279.8,342.5 L281.2,344.7 L284,346.5 L285.5,348 L287.3,348.9 L289.4,350.7 L290.7,352.5 L292,353.8 L292.1,355.6 L294.6,357.5 L294.4,360.2 L294.2,362.6 L292.1,362.6 L290.7,361.1 L288.1,359.3 L285.9,356.6 L284.7,353.8 L282.6,351.5 L281.9,348.9 L280.1,347.6 L278.1,345.3 L276.1,343.3ZM293.2,364.4 L294.8,362.7 L296.3,362.7 L298.9,364 L302.4,364.4 L303.3,363.6 L306.1,364.6 L309.4,366 L309.2,367.8 L306.2,367.3 L301.5,366.6 L298.1,366.2 L295.3,365.5ZM299.8,349.3 L300.8,348.4 L303.6,349.1 L304,347.3 L306.8,346.2 L308.5,343.6 L310.9,342 L313.2,339.3 L314.9,340.4 L317.5,342.5 L315.4,344.4 L314.9,346.9 L317,350.2 L315.1,350.5 L314.6,353.3 L312.8,355.1 L312.3,358.4 L309.5,359.5 L306.8,357.8 L304.7,358.4 L301.9,357.3 L301.5,354.4 L300,352.5 L299.8,350.5ZM318.6,350.5 L320.5,349.6 L324.1,350.4 L327.5,348.9 L328,349.5 L326.4,351.3 L324.1,351.3 L320.7,351.3 L319.3,353.6 L321.5,353.6 L324.7,353.6 L323.8,354.9 L321.7,355.5 L324,359.3 L324.5,361.6 L322.4,360.7 L320.7,356.9 L319.6,357.5 L319.6,362 L318.1,362 L318.1,358.4 L316.8,357.1 L317.7,354.2 L318.6,352ZM338.1,353.5 L340.7,352.7 L343.3,353.5 L343.6,356.6 L345.9,358 L349.9,354.7 L355.5,356.7 L361.5,359.1 L363.8,362 L367.3,362.9 L365.9,364.4 L368.5,368.4 L372.5,370.7 L370.2,370.9 L365.9,369.3 L364.2,366.6 L360.7,366 L358.9,368.7 L355.5,368.6 L352,366.6 L350.2,367.3 L351.6,364.7 L350.2,362 L345.9,360 L341.5,359.3 L341.2,357.1 L342.9,356 L339.8,355.6 L338.1,354.5ZM320,318.3 L322.8,318.5 L322.9,322 L321.7,324.7 L322.4,326.5 L325.9,328.3 L326.1,329.2 L323.5,327.4 L320.7,327.2 L320,325.6 L318.9,323.8 L319.4,322ZM322.4,339.3 L325,336.2 L328.5,334.2 L330.2,338.4 L329.7,340.5 L328.3,341.8 L325.9,340.2 L324.8,338.4ZM326.4,329.2 L328.7,329.6 L328.8,332.3 L327.6,333.8 L326.8,332ZM322.4,330.5 L324.5,331.1 L325.9,332.9 L324.7,335.3 L323.3,334.2 L322.4,332.9ZM314.1,336.7 L315.8,335.3 L318.1,332.3 L317.9,331.3 L316.1,333.4 L314.1,336ZM319.6,327.6 L321.4,327.6 L321.5,329.4 L320.3,329.6ZM319.1,310.1 L320.7,306.1 L322.2,306.5 L321.5,309.2 L320.3,312ZM299.3,317.1 L300.7,315.6 L303.1,315.6 L302.4,317.8 L300.7,318.9 L299.3,318.1ZM332,348.4 L332.8,348 L334.1,350.2 L332.8,353.6 L332.1,351.1ZM325,370.7 L327.6,367.7 L331.6,367.3 L327.6,369.5ZM310.2,366.7 L313.7,366.9 L317.2,367.1 L320.7,367.1 L324.1,366.9 L324.1,368 L318.9,368.2 L313.7,368.4 L310.2,367.8ZM317.2,369.1 L320.3,369.5 L319.8,370.7 L317.5,370ZM332.7,357.5 L337.7,357.5 L337.2,358.6 L332.8,358.4ZM329.4,357.6 L331.5,357.8 L331.1,358.9 L329.5,358.7ZM368.2,362.2 L371.1,361.1 L374.9,359.6 L375.1,361.1 L372,363.3 L368.5,363.3ZM372.5,356.7 L375.5,358.6 L376.5,360.4 L375.6,359.8 L372.8,357.5ZM379.1,362 L381.4,364.4 L380.5,364.4 L379.1,362.9ZM382.4,364.2 L388.2,367.1 L390.2,369.3 L392.3,371.3 L391.1,371.1 L388.2,369.3 L385,367.3 L382.4,365.3ZM395.5,388.6 L398.1,390.2 L400.7,392.6 L399.6,392.8 L396.9,390.8ZM418.6,383.7 L420.9,383.9 L421,385.1 L418.6,385.1ZM420.7,382.6 L423.3,381.5 L423.1,382.2 L421.2,382.9ZM407.9,414.1 L409.9,413.7 L412.4,416.7 L416.9,419.7 L420.5,421.8 L418.2,425.3 L416.3,428.5 L413.1,429.5 L411.8,427.2 L413.3,424.6 L411.2,422.1 L411.8,419.5 L409.9,416.9ZM411.8,428.2 L413.3,429.7 L409.9,432.9 L405.4,436.2 L400.9,438.5 L397.9,437.7 L399.6,434.9 L403.5,431.7 L407.9,429.1ZM334.3,292.9 L336.4,291.8 L338.1,293.4 L337.3,296.4 L335.9,297.1 L335.2,295.3ZM336.4,291.3 L339.2,288.9 L344.4,288.7 L346.6,286.2 L347.5,286.5 L349.6,285.4 L351.9,282.5 L352.2,279.6 L354.5,278.3 L355.7,281.6 L354,284.3 L353.8,288 L351.9,289.8 L350,290.3 L347,290.5 L344.9,292.5 L343.5,290.5 L340,291.1 L338.3,291.8ZM338.8,292.9 L342.1,291.1 L343,292 L340,293.8ZM352.2,278 L352.7,274.9 L355.2,270.9 L358.3,273.1 L361.8,274.5 L358,277.1 L354,276.1ZM322.1,328.7 L325.9,329.1 L328.7,329.4 L329,333.4 L326.2,335.3 L323.1,334.9 L322.2,332ZM313.7,337.4 L316,336 L318.6,332.7 L318.8,330.5 L316.8,332 L314.8,334.5 L313.4,336.3ZM312.8,338.9 L314.1,337.1 L315.8,339.3 L314.6,340.5ZM331.5,348 L333.2,347.6 L334.6,350.2 L333.5,353.8 L331.8,352 L331.6,349.8ZM317.9,350.5 L320.7,349.5 L324.1,349.8 L328,348.7 L327.6,350.9 L324.1,352 L321,352 L320,353.8 L322.4,353.8 L325,353.5 L324.1,355.6 L322.4,356 L324.5,359.3 L324.8,362.2 L322.4,361.5 L321,357.8 L320,362.4 L317.7,362.4 L317.2,357.5 L317.2,353.8ZM319.8,318.1 L322.9,318.1 L323.5,321.4 L322.2,324.7 L323.3,326.2 L326.2,328 L326.2,329.4 L323.5,328 L320.7,327.6 L319.6,325.4 L318.6,323.6 L319.1,321.4Z" fill="#3a3839" stroke="#3a3839" stroke-width="1.8" stroke-linejoin="round"/>
<g fill="#1a1a1a"><circle cx="67" cy="323.5" r="0.75"/><circle cx="119.2" cy="354.3" r="0.75"/><circle cx="84.2" cy="366.8" r="0.75"/><circle cx="98.8" cy="381" r="0.75"/><circle cx="249.7" cy="339.2" r="0.75"/><circle cx="234.8" cy="364" r="0.75"/><circle cx="205.5" cy="331.5" r="0.75"/><circle cx="190" cy="369.7" r="0.75"/><circle cx="185.3" cy="374.7" r="0.75"/><circle cx="205.8" cy="360.3" r="0.75"/><circle cx="207" cy="365.8" r="0.75"/><circle cx="205.5" cy="389.7" r="0.75"/><circle cx="209.7" cy="388.8" r="0.75"/><circle cx="219.7" cy="388.3" r="0.75"/><circle cx="277" cy="374" r="0.75"/><circle cx="291.3" cy="373" r="0.75"/><circle cx="338" cy="306.7" r="0.75"/><circle cx="378.1" cy="307.8" r="0.75"/><circle cx="400" cy="316.9" r="0.75"/><circle cx="398.9" cy="324.3" r="0.75"/><circle cx="400.5" cy="352.9" r="0.75"/><circle cx="441.7" cy="322.3" r="0.75"/><circle cx="400.8" cy="405" r="0.75"/><circle cx="385.5" cy="409.5" r="0.75"/><circle cx="427.6" cy="377.1" r="0.75"/><circle cx="418.1" cy="374.8" r="0.75"/><circle cx="465.1" cy="361.3" r="0.75"/><circle cx="485.3" cy="403.3" r="0.75"/><circle cx="492" cy="368" r="0.75"/><circle cx="543.8" cy="401" r="0.75"/><circle cx="551.3" cy="399.8" r="0.75"/><circle cx="595.8" cy="400" r="0.75"/><circle cx="535.5" cy="318.5" r="0.75"/><circle cx="542.5" cy="318" r="0.75"/><circle cx="545" cy="333" r="0.75"/><circle cx="583.3" cy="341.8" r="0.75"/><circle cx="592.5" cy="347" r="0.75"/><circle cx="577.5" cy="352.3" r="0.75"/><circle cx="622.5" cy="294.3" r="0.75"/><circle cx="684.7" cy="350.8" r="0.75"/><circle cx="680" cy="359.7" r="0.75"/><circle cx="683.7" cy="390" r="0.75"/><circle cx="590" cy="353" r="0.75"/><circle cx="55" cy="281.4" r="0.75"/><circle cx="66.3" cy="285.6" r="0.6"/><circle cx="680.8" cy="281.2" r="0.75"/><circle cx="58" cy="351" r="0.7"/><circle cx="123" cy="349" r="0.7"/><circle cx="121.6" cy="351.8" r="0.7"/><circle cx="174.7" cy="436.7" r="0.7"/><circle cx="196.3" cy="436" r="0.8"/><circle cx="199.2" cy="436.3" r="0.7"/><circle cx="87.6" cy="419.8" r="0.7"/><circle cx="92" cy="425.4" r="0.7"/><circle cx="235.7" cy="331.5" r="0.75"/><circle cx="236" cy="333.8" r="0.75"/><circle cx="236.1" cy="336.3" r="0.75"/><circle cx="235.8" cy="338.7" r="0.75"/><circle cx="235.9" cy="340.9" r="0.75"/><circle cx="236" cy="340.7" r="0.75"/><circle cx="236.4" cy="343.5" r="0.75"/><circle cx="236.2" cy="345.2" r="0.75"/><circle cx="236.8" cy="348" r="0.75"/><circle cx="236.8" cy="349.8" r="0.75"/><circle cx="237.3" cy="351.7" r="0.75"/><circle cx="237.3" cy="354.1" r="0.75"/><circle cx="269.9" cy="327.6" r="0.75"/><circle cx="270.5" cy="331.1" r="0.75"/><circle cx="270.7" cy="333.6" r="0.75"/><circle cx="271.1" cy="333.4" r="0.75"/><circle cx="271.4" cy="336" r="0.75"/><circle cx="271.3" cy="339" r="0.75"/><circle cx="190" cy="369.7" r="0.7"/><circle cx="205.8" cy="360.3" r="0.7"/><circle cx="207" cy="365.3" r="0.7"/><circle cx="207.8" cy="370.8" r="0.7"/><circle cx="205.5" cy="389.7" r="0.7"/><circle cx="209.5" cy="388.8" r="0.7"/><circle cx="219.7" cy="388.3" r="0.7"/><circle cx="234.5" cy="363" r="0.7"/><circle cx="235.5" cy="365" r="0.7"/><circle cx="203" cy="330" r="0.8"/><circle cx="361.1" cy="313.2" r="0.7"/><circle cx="361.7" cy="315.3" r="0.7"/><circle cx="362.5" cy="317.1" r="0.7"/><circle cx="363.5" cy="319.4" r="0.7"/><circle cx="363.1" cy="319.3" r="0.7"/><circle cx="363.3" cy="322" r="0.7"/><circle cx="363.4" cy="324.2" r="0.7"/><circle cx="363.6" cy="324.1" r="0.7"/><circle cx="362.3" cy="327.2" r="0.7"/><circle cx="361.1" cy="329.7" r="0.7"/><circle cx="352.1" cy="299.3" r="0.7"/><circle cx="354.8" cy="303.3" r="0.7"/><circle cx="356.3" cy="306.9" r="0.7"/><circle cx="338.9" cy="346.4" r="0.6"/><circle cx="341.4" cy="342.2" r="0.6"/><circle cx="344.8" cy="339.6" r="0.6"/><circle cx="343.9" cy="338.9" r="0.6"/><circle cx="349.3" cy="335.2" r="0.6"/><circle cx="355.1" cy="339.2" r="0.6"/><circle cx="361.9" cy="339.6" r="0.6"/><circle cx="360.3" cy="341" r="0.6"/><circle cx="364.2" cy="340.3" r="0.6"/><circle cx="364.7" cy="339" r="0.6"/><circle cx="368.6" cy="341" r="0.6"/><circle cx="368.9" cy="339.1" r="0.6"/><circle cx="374.2" cy="342.2" r="0.6"/><circle cx="373.1" cy="340.7" r="0.6"/><circle cx="378.3" cy="343.9" r="0.6"/><circle cx="379.2" cy="343.8" r="0.6"/><circle cx="381" cy="341.7" r="0.6"/><circle cx="384.9" cy="343" r="0.6"/><circle cx="387" cy="340.3" r="0.6"/><circle cx="388.2" cy="340.8" r="0.6"/><circle cx="388.4" cy="341.7" r="0.6"/><circle cx="394" cy="342.9" r="0.6"/><circle cx="389.8" cy="330.7" r="0.6"/><circle cx="394.9" cy="331.8" r="0.6"/><circle cx="400.9" cy="332.8" r="0.6"/><circle cx="399" cy="332.5" r="0.6"/><circle cx="402.7" cy="331.4" r="0.6"/><circle cx="406.8" cy="335.9" r="0.6"/><circle cx="406.6" cy="336" r="0.6"/><circle cx="408" cy="338.9" r="0.6"/><circle cx="406.8" cy="339.9" r="0.6"/><circle cx="404" cy="341" r="0.6"/><circle cx="399.5" cy="336.1" r="0.8"/><circle cx="403.1" cy="337.9" r="0.8"/><circle cx="402.7" cy="338" r="0.8"/><circle cx="404.5" cy="340.9" r="0.8"/><circle cx="410.3" cy="346.4" r="0.8"/><circle cx="411.6" cy="349.2" r="0.8"/><circle cx="411.3" cy="349.4" r="0.8"/><circle cx="412.7" cy="351.2" r="0.8"/><circle cx="414.5" cy="354" r="0.8"/><circle cx="414.2" cy="353.5" r="0.8"/><circle cx="415.3" cy="354.7" r="0.8"/><circle cx="417" cy="356.5" r="0.8"/><circle cx="417" cy="361.9" r="0.6"/><circle cx="420.1" cy="366.3" r="0.6"/><circle cx="420.9" cy="365" r="0.6"/><circle cx="422.5" cy="368.5" r="0.6"/><circle cx="422.4" cy="370.1" r="0.6"/><circle cx="422.2" cy="372" r="0.6"/><circle cx="428.9" cy="351.2" r="0.6"/><circle cx="432.2" cy="358" r="0.6"/><circle cx="433" cy="358.1" r="0.6"/><circle cx="436.9" cy="359.2" r="0.6"/><circle cx="437.8" cy="360.8" r="0.6"/><circle cx="438.4" cy="364.7" r="0.6"/><circle cx="438.7" cy="368.9" r="0.6"/><circle cx="457.9" cy="345.2" r="0.6"/><circle cx="462.3" cy="351" r="0.6"/><circle cx="461.7" cy="351.4" r="0.6"/><circle cx="464.2" cy="356.3" r="0.6"/><circle cx="467.4" cy="360.1" r="0.6"/><circle cx="467.4" cy="361" r="0.6"/><circle cx="466" cy="365.8" r="0.6"/><circle cx="447" cy="371.3" r="0.6"/><circle cx="455.7" cy="370.3" r="0.6"/><circle cx="456.5" cy="371.7" r="0.6"/><circle cx="463.1" cy="368.4" r="0.6"/><circle cx="426.9" cy="302.1" r="0.6"/><circle cx="430.4" cy="303.9" r="0.6"/><circle cx="435.4" cy="306" r="0.6"/><circle cx="435.3" cy="305.7" r="0.6"/><circle cx="443" cy="308.8" r="0.6"/><circle cx="443.1" cy="308.8" r="0.6"/><circle cx="451.3" cy="310.2" r="0.6"/><circle cx="398.8" cy="371.6" r="0.8"/><circle cx="399.8" cy="372.8" r="0.8"/><circle cx="399.7" cy="374.9" r="0.8"/><circle cx="401.2" cy="377.9" r="0.8"/><circle cx="400.3" cy="377.9" r="0.8"/><circle cx="402.1" cy="379.8" r="0.8"/><circle cx="402.3" cy="381.8" r="0.8"/><circle cx="402.9" cy="383.3" r="0.8"/><circle cx="403.9" cy="384.1" r="0.8"/><circle cx="404.5" cy="386.7" r="0.8"/><circle cx="405.5" cy="388.8" r="0.8"/><circle cx="431.6" cy="379.8" r="0.6"/><circle cx="432.6" cy="385.4" r="0.6"/><circle cx="432.5" cy="385.8" r="0.6"/><circle cx="431.3" cy="391" r="0.6"/><circle cx="435.1" cy="377" r="0.8"/><circle cx="438.4" cy="377.3" r="0.8"/><circle cx="441.7" cy="378.4" r="0.8"/><circle cx="451.5" cy="386.7" r="0.6"/><circle cx="455.2" cy="387.1" r="0.6"/><circle cx="458.8" cy="387.1" r="0.6"/><circle cx="458.6" cy="387.5" r="0.6"/><circle cx="459.4" cy="392.2" r="0.6"/><circle cx="468.7" cy="394" r="0.6"/><circle cx="472.4" cy="394.7" r="0.6"/><circle cx="475.2" cy="395.3" r="0.6"/><circle cx="478.7" cy="396.2" r="0.6"/><circle cx="471.6" cy="383.2" r="0.8"/><circle cx="475.6" cy="384" r="0.8"/><circle cx="476.4" cy="384.4" r="0.8"/><circle cx="478.7" cy="383.7" r="0.8"/><circle cx="481.8" cy="382.2" r="0.8"/><circle cx="483.9" cy="381.2" r="0.8"/><circle cx="483.7" cy="389.8" r="0.6"/><circle cx="491.3" cy="391.6" r="0.6"/><circle cx="491.4" cy="392.2" r="0.6"/><circle cx="501.3" cy="395.3" r="0.6"/><circle cx="501.7" cy="394.3" r="0.6"/><circle cx="509.5" cy="398.6" r="0.6"/><circle cx="509.9" cy="397.3" r="0.6"/><circle cx="511.3" cy="396.5" r="0.6"/><circle cx="511.2" cy="396.2" r="0.6"/><circle cx="518.3" cy="397.8" r="0.6"/><circle cx="465.6" cy="361.3" r="0.6"/><circle cx="467.4" cy="365.8" r="0.6"/><circle cx="471.2" cy="369.7" r="0.6"/><circle cx="471.5" cy="371" r="0.6"/><circle cx="473.1" cy="371.6" r="0.6"/><circle cx="543.2" cy="401" r="0.7"/><circle cx="545.5" cy="400.6" r="0.7"/><circle cx="594.3" cy="413.3" r="0.7"/><circle cx="597.5" cy="413.2" r="0.7"/><circle cx="529.7" cy="300.2" r="0.8"/><circle cx="624.1" cy="319.7" r="0.7"/><circle cx="626.9" cy="321.2" r="0.7"/><circle cx="628.4" cy="321.9" r="0.7"/><circle cx="628.7" cy="321.8" r="0.7"/><circle cx="629.7" cy="323.8" r="0.7"/><circle cx="631.5" cy="325.5" r="0.7"/><circle cx="631.4" cy="325.9" r="0.7"/><circle cx="631.2" cy="329.8" r="0.7"/><circle cx="606.8" cy="330.7" r="0.7"/><circle cx="611.3" cy="330.8" r="0.7"/><circle cx="617" cy="330.5" r="0.7"/><circle cx="616.3" cy="329.8" r="0.7"/><circle cx="621.2" cy="330.6" r="0.7"/><circle cx="626.5" cy="330.3" r="0.7"/><circle cx="304.4" cy="344.3" r="0.55"/><circle cx="311.7" cy="347.5" r="0.55"/><circle cx="326" cy="319.1" r="0.55"/><circle cx="326.7" cy="323.6" r="0.55"/><circle cx="326.5" cy="361.4" r="0.55"/><circle cx="320.2" cy="354.7" r="0.55"/><circle cx="333.3" cy="346.8" r="0.55"/><circle cx="331.1" cy="362" r="0.55"/><circle cx="330.9" cy="364.2" r="0.55"/><circle cx="313.1" cy="357.9" r="0.55"/><circle cx="315.9" cy="365" r="0.55"/><circle cx="326" cy="331.5" r="0.55"/><circle cx="319.4" cy="336" r="0.55"/><circle cx="310.6" cy="346.5" r="0.55"/><circle cx="323.6" cy="363.3" r="0.55"/><circle cx="329.1" cy="364.6" r="0.55"/><circle cx="328.5" cy="324.2" r="0.55"/><circle cx="296" cy="357.9" r="0.55"/><circle cx="307.5" cy="356.2" r="0.55"/><circle cx="325.3" cy="318" r="0.55"/><circle cx="331.1" cy="333.1" r="0.55"/><circle cx="319.3" cy="368.3" r="0.55"/><circle cx="324.5" cy="317.3" r="0.55"/><circle cx="325.1" cy="323.8" r="0.55"/><circle cx="308.6" cy="366.2" r="0.55"/><circle cx="316.7" cy="343.1" r="0.55"/><circle cx="327" cy="347.1" r="0.55"/><circle cx="322.3" cy="348.3" r="0.55"/><circle cx="315.1" cy="353.6" r="0.55"/><circle cx="314.2" cy="346.2" r="0.55"/><circle cx="326.3" cy="318.8" r="0.55"/><circle cx="326" cy="340.2" r="0.55"/><circle cx="328.9" cy="334.2" r="0.55"/><circle cx="330.5" cy="354.6" r="0.55"/><circle cx="328.8" cy="366.5" r="0.55"/><circle cx="324.1" cy="332.5" r="0.55"/><circle cx="311.7" cy="347" r="0.55"/><circle cx="322.8" cy="354.4" r="0.55"/><circle cx="309.9" cy="349.9" r="0.55"/><circle cx="320.6" cy="325.7" r="0.55"/><circle cx="336" cy="359.9" r="0.55"/><circle cx="336.1" cy="349.5" r="0.55"/><circle cx="314.5" cy="337.2" r="0.55"/><circle cx="315.3" cy="365.8" r="0.55"/><circle cx="332.6" cy="359.8" r="0.55"/><circle cx="328" cy="343" r="0.55"/><circle cx="323.9" cy="330.8" r="0.55"/><circle cx="341.4" cy="352.2" r="0.55"/><circle cx="342.6" cy="362.9" r="0.55"/><circle cx="328" cy="343.3" r="0.55"/><circle cx="314.1" cy="365.2" r="0.55"/><circle cx="325.2" cy="333.6" r="0.55"/><circle cx="305.2" cy="361.1" r="0.55"/><circle cx="317.7" cy="356.9" r="0.55"/><circle cx="320.9" cy="358.7" r="0.55"/><circle cx="300.6" cy="357.4" r="0.55"/><circle cx="342.4" cy="358.2" r="0.55"/><circle cx="326.1" cy="361.1" r="0.55"/><circle cx="306.1" cy="343.4" r="0.55"/><circle cx="314.7" cy="340.6" r="0.55"/><circle cx="310.7" cy="349.8" r="0.55"/><circle cx="323.8" cy="334.7" r="0.55"/><circle cx="298" cy="344.9" r="0.55"/><circle cx="331" cy="335.7" r="0.55"/><circle cx="311.9" cy="347.5" r="0.55"/><circle cx="335.7" cy="348.5" r="0.55"/><circle cx="315.1" cy="335.3" r="0.55"/><circle cx="318.7" cy="352.7" r="0.55"/><circle cx="314.5" cy="352.2" r="0.55"/><circle cx="316.8" cy="328.5" r="0.55"/><circle cx="320.9" cy="352.3" r="0.55"/><circle cx="314.8" cy="362" r="0.55"/><circle cx="341.1" cy="357.4" r="0.55"/><circle cx="305.7" cy="340.1" r="0.55"/><circle cx="298" cy="358.5" r="0.55"/><circle cx="328" cy="362.5" r="0.55"/><circle cx="335.2" cy="350.8" r="0.55"/><circle cx="332" cy="345.4" r="0.55"/><circle cx="296.8" cy="346.6" r="0.55"/><circle cx="297.9" cy="360.2" r="0.55"/><circle cx="328.6" cy="359.8" r="0.55"/><circle cx="332.8" cy="364.9" r="0.55"/><circle cx="322.5" cy="359.3" r="0.55"/><circle cx="305" cy="348.1" r="0.55"/><circle cx="329.6" cy="355.5" r="0.55"/><circle cx="328.6" cy="342.9" r="0.55"/><circle cx="318" cy="349.5" r="0.55"/><circle cx="296.4" cy="355.1" r="0.55"/><circle cx="315.8" cy="353.6" r="0.55"/><circle cx="302.2" cy="346.5" r="0.55"/><circle cx="329.6" cy="365.9" r="0.55"/><circle cx="307.6" cy="352.8" r="0.55"/><circle cx="314.1" cy="360.7" r="0.55"/><circle cx="323.7" cy="329.7" r="0.55"/><circle cx="317.8" cy="335.8" r="0.55"/><circle cx="309" cy="356.5" r="0.55"/><circle cx="317.8" cy="347.2" r="0.55"/><circle cx="317.2" cy="359.7" r="0.55"/><circle cx="317.9" cy="353.7" r="0.55"/><circle cx="332" cy="366.3" r="0.55"/><circle cx="317.1" cy="327.7" r="0.55"/><circle cx="304.2" cy="353.5" r="0.55"/><circle cx="328.7" cy="366.2" r="0.55"/><circle cx="301.5" cy="352.8" r="0.55"/><circle cx="338.9" cy="363.1" r="0.55"/><circle cx="305.3" cy="361.3" r="0.55"/><circle cx="296.3" cy="359.6" r="0.55"/><circle cx="323.4" cy="351.3" r="0.55"/><circle cx="315.4" cy="341.3" r="0.55"/><circle cx="302.8" cy="346.5" r="0.55"/><circle cx="321.4" cy="321.9" r="0.55"/><circle cx="306.4" cy="350.7" r="0.55"/><circle cx="297.4" cy="362.4" r="0.55"/><circle cx="334.1" cy="355.6" r="0.55"/><circle cx="307.6" cy="351.3" r="0.55"/><circle cx="327.5" cy="358.2" r="0.55"/><circle cx="305.9" cy="355.4" r="0.55"/><circle cx="321" cy="321.6" r="0.55"/><circle cx="318.6" cy="334.2" r="0.55"/><circle cx="331.1" cy="351.4" r="0.55"/><circle cx="322.6" cy="325.2" r="0.55"/><circle cx="327.1" cy="348.9" r="0.55"/><circle cx="301.1" cy="362.6" r="0.55"/><circle cx="327.6" cy="322.1" r="0.55"/><circle cx="309.6" cy="353.6" r="0.55"/><circle cx="324.4" cy="344.9" r="0.55"/><circle cx="327.2" cy="339.8" r="0.55"/><circle cx="294.9" cy="353.4" r="0.55"/><circle cx="333.1" cy="344.3" r="0.55"/><circle cx="319.2" cy="328.7" r="0.55"/><circle cx="369.8" cy="355.7" r="0.55"/><circle cx="374.8" cy="356.6" r="0.55"/><circle cx="364.5" cy="361.1" r="0.55"/><circle cx="391.1" cy="368.4" r="0.55"/><circle cx="379.2" cy="358.8" r="0.55"/><circle cx="367.8" cy="355.7" r="0.55"/><circle cx="369.1" cy="370.7" r="0.55"/><circle cx="388.3" cy="368.5" r="0.55"/><circle cx="372.1" cy="365.2" r="0.55"/><circle cx="385.3" cy="369.4" r="0.55"/><circle cx="381.4" cy="366" r="0.55"/><circle cx="391.7" cy="369.6" r="0.55"/><circle cx="379.5" cy="359.3" r="0.55"/><circle cx="390" cy="369.2" r="0.55"/><circle cx="378.3" cy="361.3" r="0.55"/><circle cx="381.1" cy="361.6" r="0.55"/><circle cx="367.4" cy="359.4" r="0.55"/><circle cx="371.2" cy="363.5" r="0.55"/><circle cx="377.1" cy="360" r="0.55"/><circle cx="375.3" cy="357.5" r="0.55"/><circle cx="373.5" cy="367.4" r="0.55"/><circle cx="372.4" cy="364" r="0.55"/><circle cx="364.3" cy="358" r="0.55"/><circle cx="386.3" cy="365" r="0.55"/><circle cx="369.8" cy="359.8" r="0.55"/><circle cx="368" cy="362.2" r="0.55"/><circle cx="390.4" cy="371.2" r="0.55"/><circle cx="375.2" cy="371" r="0.55"/><circle cx="371.6" cy="357.3" r="0.55"/><circle cx="374.3" cy="371.3" r="0.55"/><circle cx="363.8" cy="356.9" r="0.55"/><circle cx="371.5" cy="355.6" r="0.55"/><circle cx="368.9" cy="354.9" r="0.55"/><circle cx="364.1" cy="356.9" r="0.55"/><circle cx="366.2" cy="363.4" r="0.55"/><circle cx="370" cy="361.3" r="0.55"/><circle cx="370.2" cy="370" r="0.55"/><circle cx="363.4" cy="358.4" r="0.55"/><circle cx="370" cy="357.6" r="0.55"/><circle cx="369.6" cy="369.6" r="0.55"/><circle cx="612.2" cy="319.9" r="0.5"/><circle cx="619.3" cy="324.6" r="0.5"/><circle cx="617" cy="324.1" r="0.5"/><circle cx="605.9" cy="308.5" r="0.5"/><circle cx="609" cy="316.1" r="0.5"/><circle cx="595.3" cy="307.8" r="0.5"/><circle cx="627" cy="323" r="0.5"/><circle cx="608.8" cy="318.5" r="0.5"/><circle cx="601.5" cy="306.6" r="0.5"/><circle cx="592.7" cy="304.3" r="0.5"/><circle cx="599.1" cy="316.7" r="0.5"/><circle cx="600.6" cy="310" r="0.5"/><circle cx="599.6" cy="313.9" r="0.5"/><circle cx="617.4" cy="322.3" r="0.5"/><circle cx="601.7" cy="316.2" r="0.5"/><circle cx="594.8" cy="320.3" r="0.5"/><circle cx="624.8" cy="324.6" r="0.5"/><circle cx="600.8" cy="311" r="0.5"/><circle cx="608.2" cy="320.7" r="0.5"/><circle cx="591.1" cy="320.1" r="0.5"/><circle cx="619.4" cy="322.7" r="0.5"/><circle cx="590.4" cy="310.7" r="0.5"/><circle cx="611.7" cy="324" r="0.5"/><circle cx="609.1" cy="310" r="0.5"/><circle cx="599.7" cy="306.9" r="0.5"/><circle cx="243" cy="421" r="0.9"/><circle cx="428.3" cy="432.7" r="0.8"/><path d="M60.6,282.6 L63,283 L65.6,284.8" fill="none" stroke="#1a1a1a" stroke-width="1.2" stroke-linecap="round" stroke-linejoin="round"/><path d="M685.2,283 L688.8,282.4" fill="none" stroke="#1a1a1a" stroke-width="1.2" stroke-linecap="round" stroke-linejoin="round"/><path d="M79.8,292.5 L81,293.2" fill="none" stroke="#1a1a1a" stroke-width="1.3" stroke-linecap="round" stroke-linejoin="round"/><path d="M78,301.2 L80.5,301 L82,301.8 L84.5,300.5 L86,299.6" fill="none" stroke="#1a1a1a" stroke-width="1.5" stroke-linecap="round" stroke-linejoin="round"/><path d="M65.5,322.3 L67.5,322 L68.3,324 L66.3,325.3" fill="none" stroke="#1a1a1a" stroke-width="1.2" stroke-linecap="round" stroke-linejoin="round"/><path d="M185,374 L186.5,375.3 L187.6,375" fill="none" stroke="#1a1a1a" stroke-width="1.2" stroke-linecap="round" stroke-linejoin="round"/><path d="M456.3,312.7 L459.7,312.3 L463.3,314 L465.7,317" fill="none" stroke="#1a1a1a" stroke-width="1.5" stroke-linecap="round" stroke-linejoin="round"/><path d="M490.8,366.8 L492.7,369.4 L494.2,371.6" fill="none" stroke="#1a1a1a" stroke-width="1.3" stroke-linecap="round" stroke-linejoin="round"/><path d="M484.4,402.7 L486.3,403.6" fill="none" stroke="#1a1a1a" stroke-width="1.3" stroke-linecap="round" stroke-linejoin="round"/><path d="M424.6,405.5 L424,409.5" fill="none" stroke="#1a1a1a" stroke-width="1" stroke-linecap="round" stroke-linejoin="round"/><path d="M598.3,305.2 L600.8,307.7 L603.7,309.7 L606.7,312.7" fill="none" stroke="#1a1a1a" stroke-width="1" stroke-linecap="round" stroke-linejoin="round"/></g>
</g>
</g>
<rect x="48.75" y="269.75" width="655.4" height="171" rx="11.95" fill="none" stroke="#000" stroke-width="3.1"/>
<g clip-path="url(#clipC)">
<g>
<g transform="translate(0,233)">
<path d="M78,316 L77.7,321.8 L78.8,327.7 L81.7,333.3 L86.3,338.5 L93,343" fill="none" stroke="#777677" stroke-width="12" stroke-linecap="round" stroke-linejoin="round"/><circle cx="67" cy="323.5" r="8.2" fill="#777677"/><circle cx="119.2" cy="354.3" r="6.6" fill="#777677"/><circle cx="84.2" cy="366.8" r="6.4" fill="#E6DBB4"/><circle cx="98.8" cy="381" r="6.5" fill="#E6DBB4"/><path d="M169.5,301.8 L173.3,308.5 L176.7,314.7 L180,321.3 L183,327.2 L185.7,331.5" fill="none" stroke="#7B7935" stroke-width="4" stroke-linecap="round" stroke-linejoin="round"/><path d="M186.3,332 L193.3,330.7 L200.8,329.7 L205,330" fill="none" stroke="#7B7935" stroke-width="7" stroke-linecap="round" stroke-linejoin="round"/><path d="M195,298.8 L199.2,301.8 L203,305.2 L206.7,307.3 L209.2,307.7" fill="none" stroke="#7B7935" stroke-width="4" stroke-linecap="round" stroke-linejoin="round"/><path d="M192.5,329 L199.2,327" fill="none" stroke="#7B7935" stroke-width="12" stroke-linecap="round" stroke-linejoin="round"/><path d="M199.2,327 L204.2,324.3 L208.7,320.2 L212.5,316 L215,312.7 L213.3,309.7 L209.7,307.7" fill="none" stroke="#7B7935" stroke-width="12" stroke-linecap="round" stroke-linejoin="round"/><path d="M209.7,307.2 L213.3,307.7 L219.2,308.5" fill="none" stroke="#7B7935" stroke-width="10" stroke-linecap="round" stroke-linejoin="round"/><path d="M219.2,308.5 L223.3,308.5 L227.5,309 L230,311 L231.7,313.5" fill="none" stroke="#D8412C" stroke-width="10" stroke-linecap="round" stroke-linejoin="round"/><path d="M231.7,313.5 L234.2,316 L237.5,319.3 L239.2,323.5 L240.8,327.7 L242.5,331.8 L244.2,335.2 L246.3,337.3" fill="none" stroke="#D8412C" stroke-width="12" stroke-linecap="round" stroke-linejoin="round"/><path d="M249.2,331.8 L250.8,327.7 L253.3,323.5 L256.7,319.3 L260.3,317" fill="none" stroke="#D8412C" stroke-width="12" stroke-linecap="round" stroke-linejoin="round"/><circle cx="249.7" cy="339.2" r="8.3" fill="#D8412C"/><path d="M235.8,329 L236.3,341 L237,356" fill="none" stroke="#E7DB31" stroke-width="13" stroke-linecap="round" stroke-linejoin="round"/><circle cx="234.8" cy="364" r="7" fill="#E7DB31"/><path d="M204.3,331.3 L200.3,334.7 L197.5,338.5 L194.7,342.3 L190,348.5 L185.3,354.7 L181.3,361 L179,367.7" fill="none" stroke="#E7DB31" stroke-width="12" stroke-linecap="round" stroke-linejoin="round"/><circle cx="205.5" cy="331.5" r="6.2" fill="#7B7935"/><path d="M193.3,344.7 L189.2,349.7 L185,355 L181.3,360 L179.2,365 L179.2,370.8 L180,375.8 L179.7,380 L175.8,385.3 L172.5,388.7 L171.7,393.3" fill="none" stroke="#E7DB31" stroke-width="13" stroke-linecap="round" stroke-linejoin="round"/><path d="M171.7,393.3 L170,397.5 L166.3,400 L163.3,405.3" fill="none" stroke="#E7DB31" stroke-width="13" stroke-linecap="round" stroke-linejoin="round"/><path d="M195.8,374.2 L197.2,377.5 L196.7,382.5 L195,388.3 L193,393.3 L190.8,396.7 L188,398.7 L185.3,398 L184.5,394.2 L185,389.2 L185.8,384.2 L188,380.8 L190.8,379.2 L193.3,375.8 L195.8,374.2" fill="none" stroke="#E7DB31" stroke-width="13" stroke-linecap="round" stroke-linejoin="round"/><circle cx="190" cy="369.7" r="6.6" fill="#E7DB31"/><circle cx="185.3" cy="374.7" r="6.4" fill="#E7DB31"/><path d="M190,369.7 L198.3,366.7 L205.8,360.8" fill="none" stroke="#E7DB31" stroke-width="11" stroke-linecap="round" stroke-linejoin="round"/><circle cx="205.8" cy="360.3" r="6.8" fill="#E7DB31"/><circle cx="207" cy="365.8" r="6.2" fill="#E7DB31"/><path d="M203.3,367.5 L213.3,366.7 L218.3,372.5 L217.5,380 L211.7,383.7 L205,381.7 L202.5,375Z" fill="#E7DB31" stroke="#E7DB31" stroke-width="1" stroke-linejoin="round"/><circle cx="205.5" cy="389.7" r="7" fill="#E7DB31"/><circle cx="209.7" cy="388.8" r="7" fill="#E7DB31"/><circle cx="219.7" cy="388.3" r="6.6" fill="#E7DB31"/><path d="M269.7,326.8 L270.7,334.3 L271.7,341.8" fill="none" stroke="#D8412C" stroke-width="11" stroke-linecap="round" stroke-linejoin="round"/><path d="M274.2,321.4 L275.4,323.6 L278.9,322.5 L280,325.6 L280.7,330.2 L281,334.7 L281,337.4 L283.3,340.5 L284.5,343.8 L286.4,347.1 L289.4,349.8" fill="none" stroke="#D8412C" stroke-width="11" stroke-linecap="round" stroke-linejoin="round"/><path d="M274.4,343.2 L276.7,347.2 L279,350.8 L281.1,354.5 L283.5,357.7 L286.3,360.6 L289.4,363.6 L291.8,365.7" fill="none" stroke="#D8412C" stroke-width="16" stroke-linecap="round" stroke-linejoin="round"/><circle cx="277" cy="374" r="6.3" fill="#D8412C"/><circle cx="291.3" cy="373" r="5.8" fill="#D8412C"/><path d="M293.7,312.9 L301.5,311.1 L308.5,309.2 L314.6,306.5 L318.1,307.4 L322.4,310.1 L326.8,314.7 L329.4,321.1 L332,326.5 L335.5,332 L336.7,337.4 L337.2,342.9 L338.9,345.6 L343.3,347.4 L349.4,348 L355.5,346.9 L361.5,346.5 L367.6,348.4 L372.8,350.2 L378.1,352 L383.3,354.7 L388.5,357.5 L393.7,362.9 L398.1,369.3 L398.9,373.8 L395.5,377.5 L390.2,375.7 L385,372.9 L379.8,371.1 L378.9,375.7 L372.8,376.6 L366.8,374.8 L364.2,377.5 L366.4,382 L369,386.6 L365,388 L362.1,381.1 L358.9,375.7 L357.2,372.9 L355.5,376.6 L355.1,382.9 L352,383.9 L347.6,380.2 L347.6,374.8 L343.3,373.8 L338.1,374.8 L334.6,379.3 L329.4,378.4 L324.1,382.9 L319.8,387.5 L313.7,389.3 L309.4,392 L306.8,396.6 L303.3,393.9 L305.9,388.4 L312.8,382.9 L318.1,377.5 L315.4,373.8 L308.5,372.9 L301.5,371.7 L295.4,369.8 L291.1,364.7 L293.7,361.1 L295.4,357.5 L292.5,354.7 L291.1,351.1 L290.2,347.4 L289.4,342.9 L286.7,338.4 L285,333.8 L285,328.3 L289.4,331.1 L292.8,334.7 L298.1,332.9 L300.7,328.3 L298.9,322.9 L295.4,318.3Z" fill="#D8412C" stroke="#D8412C" stroke-width="1" stroke-linejoin="round"/><path d="M285,345.6 L288.5,348.7 L291.1,350.5" fill="none" stroke="#D8412C" stroke-width="5" stroke-linecap="round" stroke-linejoin="round"/><path d="M315.9,314.2 L320,309.1 L325.1,307 L329.2,303.9 L332.3,301.4 L337.4,299.8 L342.6,301.9 L344.6,307 L342.6,312.2 L337.4,314.2 L333.3,313.2 L328.2,315.2 L327.7,319.3 L321,318.3 L316.9,317.3Z" fill="#D8412C" stroke="#D8412C" stroke-width="1" stroke-linejoin="round"/><circle cx="338" cy="306.7" r="0.1" fill="#D8412C"/><path d="M353,299 L355.5,307.3" fill="none" stroke="#D8412C" stroke-width="12" stroke-linecap="round" stroke-linejoin="round"/><path d="M361,313.2 L363.3,319.3 L363.3,324.3 L361.3,329.7" fill="none" stroke="#5CC1E7" stroke-width="11.5" stroke-linecap="round" stroke-linejoin="round"/><circle cx="378.1" cy="307.8" r="6.3" fill="#5CC1E7"/><path d="M338.4,346.2 L344,338.5" fill="none" stroke="#5CC1E7" stroke-width="12" stroke-linecap="round" stroke-linejoin="round"/><path d="M344.1,338.5 L350.4,334.7 L354.6,334.7" fill="none" stroke="#5CC1E7" stroke-width="12" stroke-linecap="round" stroke-linejoin="round"/><path d="M354.6,337.4 L360.7,340.4 L365.9,340.4 L370.2,340 L374.6,340.9 L378.1,342.5 L385.4,341.6 L389.4,341.8 L393.7,343.8" fill="none" stroke="#5CC1E7" stroke-width="13" stroke-linecap="round" stroke-linejoin="round"/><circle cx="400" cy="316.9" r="6.3" fill="#5CC1E7"/><path d="M387.6,329.2 L396.3,326.2 L405.9,326.9 L412,332.9 L413.7,340.2 L410.2,346.5 L402.4,347.6 L396.3,342.9 L390.2,337.4Z" fill="#5CC1E7" stroke="#5CC1E7" stroke-width="1" stroke-linejoin="round"/><circle cx="398.9" cy="324.3" r="6.3" fill="#5CC1E7"/><circle cx="400.5" cy="352.9" r="6.3" fill="#5CC1E7"/><path d="M410.8,346 L411.5,349.6 L414.2,353.5 L417.2,356.7" fill="none" stroke="#5CC1E7" stroke-width="13" stroke-linecap="round" stroke-linejoin="round"/><path d="M416.5,362.4 L420.9,365.6 L422.4,369.3 L421.6,371.7" fill="none" stroke="#5CC1E7" stroke-width="13" stroke-linecap="round" stroke-linejoin="round"/><path d="M429.4,351.5 L432.9,357.5 L437.2,359.8 L438.1,368.4 L437.2,371.1" fill="none" stroke="#5CC1E7" stroke-width="13" stroke-linecap="round" stroke-linejoin="round"/><path d="M458.3,345.2 L462.5,351.8 L466.7,360.2 L465.3,366 L460.8,370.2" fill="none" stroke="#5CC1E7" stroke-width="12.5" stroke-linecap="round" stroke-linejoin="round"/><path d="M426.7,301.8 L435,305.7 L443.3,308.5 L450.8,310.3 L456.7,311.8 L463.3,314.7 L468.3,318.5" fill="none" stroke="#90D1E9" stroke-width="11.5" stroke-linecap="round" stroke-linejoin="round"/><circle cx="441.7" cy="322.3" r="6.3" fill="#90D1E9"/><path d="M398.9,371.1 L400.7,377.5 L403.3,383.9 L405.6,388.4" fill="none" stroke="#93B6E1" stroke-width="12.5" stroke-linecap="round" stroke-linejoin="round"/><path d="M379,385 L383,379.5 L392,380 L398,383 L404,388 L407,393 L405,398.5 L397,400 L390,398 L383,397 L379,392Z" fill="#93B6E1" stroke="#93B6E1" stroke-width="1" stroke-linejoin="round"/><path d="M368,381 L376,378 L383,381 L383,396 L376,394 L371,388Z" fill="#93B6E1" stroke="#93B6E1" stroke-width="1" stroke-linejoin="round"/><path d="M365,387.5 L370.2,391.1 L375.5,394.8 L377.2,398.4" fill="none" stroke="#93B6E1" stroke-width="12" stroke-linecap="round" stroke-linejoin="round"/><circle cx="400.8" cy="405" r="6.3" fill="#93B6E1"/><circle cx="385.5" cy="409.5" r="6.3" fill="#93B6E1"/><path d="M431.1,380.2 L432.9,385.7 L431.6,391.1" fill="none" stroke="#5CC1E7" stroke-width="13" stroke-linecap="round" stroke-linejoin="round"/><circle cx="427.6" cy="377.1" r="6.4" fill="#5CC1E7"/><path d="M435.5,376.6 L441.6,378 L444.2,378.4" fill="none" stroke="#5CC1E7" stroke-width="13" stroke-linecap="round" stroke-linejoin="round"/><path d="M411,381 L416,378 L424,378 L429,382 L430,389 L426,394 L418,395 L412,391Z" fill="#5CC1E7" stroke="#5CC1E7" stroke-width="1" stroke-linejoin="round"/><circle cx="418.1" cy="374.8" r="6.4" fill="#5CC1E7"/><path d="M465.1,362 L468.3,366.5 L471.5,370.9" fill="none" stroke="#1F87A9" stroke-width="12.5" stroke-linecap="round" stroke-linejoin="round"/><circle cx="465.1" cy="361.3" r="6.6" fill="#1F87A9"/><path d="M447.6,371.8 L456.3,370.9 L462.4,368.4 L465.9,370.2" fill="none" stroke="#5CC1E7" stroke-width="12.5" stroke-linecap="round" stroke-linejoin="round"/><path d="M449.1,383.8 L454.2,380.6 L461.9,381.8 L467.1,386.3 L467.1,396.6 L460.6,399.2 L454.2,396.6 L449.7,391.5Z" fill="#1F87A9" stroke="#1F87A9" stroke-width="1" stroke-linejoin="round"/><path d="M466.4,369.7 L473.5,365.8 L481.2,367.1 L486.3,374.8 L491.4,377.4 L496.5,382.5 L499.1,388.9 L495.3,395.3 L491.4,399.2 L490.1,404.3 L486.3,409.4 L481.2,408.1 L478.6,403 L472.2,400.4 L467.1,396.6 L465.8,390.2 L467.1,382.5 L465.8,376.1Z" fill="#1F87A9" stroke="#1F87A9" stroke-width="1" stroke-linejoin="round"/><circle cx="485.3" cy="403.3" r="6.8" fill="#1F87A9"/><path d="M496.5,391.5 L501,394.7 L509.4,397.6 L519,397.5" fill="none" stroke="#1F87A9" stroke-width="12.8" stroke-linecap="round" stroke-linejoin="round"/><circle cx="492" cy="368" r="8" fill="#1F87A9"/><circle cx="543.8" cy="401" r="6.3" fill="#1F63A9"/><circle cx="551.3" cy="399.8" r="6.3" fill="#1F63A9"/><circle cx="595.8" cy="400" r="5.8" fill="#1F63A9"/><path d="M594.5,413 L598,413" fill="none" stroke="#1F63A9" stroke-width="14" stroke-linecap="round" stroke-linejoin="round"/><circle cx="535.5" cy="318.5" r="5.8" fill="#1F8C59"/><circle cx="542.5" cy="318" r="5.8" fill="#1F8C59"/><circle cx="545" cy="333" r="6.3" fill="#1F8C59"/><path d="M525,289.3 L530.8,296 L537.5,303.5 L544.2,310.2 L550,315.2 L555,318.5" fill="none" stroke="#80C34B" stroke-width="3.5" stroke-linecap="round" stroke-linejoin="round"/><path d="M555,318.5 L560,321 L565.8,323.5 L570.8,324.3 L575,324.3 L578.3,326 L581.7,328.5 L584.2,331.8 L586.7,334.3 L589.2,336.8 L591.7,338.5 L595,337.7 L597.5,336.3" fill="none" stroke="#80C34B" stroke-width="11" stroke-linecap="round" stroke-linejoin="round"/><circle cx="583.3" cy="341.8" r="6.8" fill="#80C34B"/><circle cx="592.5" cy="347" r="7" fill="#80C34B"/><circle cx="590" cy="353" r="6" fill="#80C34B"/><path d="M598.3,338 L597,341.8 L595.5,346 L594.7,351 L593.8,356.8 L594.3,361.8 L595.8,366" fill="none" stroke="#80C34B" stroke-width="11" stroke-linecap="round" stroke-linejoin="round"/><circle cx="577.5" cy="352.3" r="8.5" fill="#1F8C59"/><path d="M608.3,282.7 L606.7,286.8 L601.7,290.2 L597.5,294.3 L595.3,298 L596.3,303 L596.7,306.8" fill="none" stroke="#F8C42F" stroke-width="11" stroke-linecap="round" stroke-linejoin="round"/><circle cx="622.5" cy="294.3" r="6.5" fill="#F8C42F"/><path d="M568.7,309.7 L570,314.3 L574.2,316 L579.2,313.5 L583.3,310.7 L590,307.3 L593.3,305.7" fill="none" stroke="#F8C42F" stroke-width="10" stroke-linecap="round" stroke-linejoin="round"/><path d="M600.1,300.3 L607.2,306 L613.6,311.2 L621.3,315.6" fill="none" stroke="#F8C42F" stroke-width="9.5" stroke-linecap="round" stroke-linejoin="round"/><path d="M623.8,316.3 L630.3,318.8 L634.1,324 L634.7,329.7 L631.5,332.9" fill="none" stroke="#F8C42F" stroke-width="9.5" stroke-linecap="round" stroke-linejoin="round"/><path d="M583.3,316 L582.8,322.7 L589.2,323.8 L592.5,326.8 L592.8,331.8 L594.2,335.2 L599.2,335.2" fill="none" stroke="#F8C42F" stroke-width="10" stroke-linecap="round" stroke-linejoin="round"/><path d="M600,335.2 L604.2,333.5 L610,330.7 L616.7,330.7 L623.3,330.3 L630,331.3 L635,332" fill="none" stroke="#F8C42F" stroke-width="11" stroke-linecap="round" stroke-linejoin="round"/><path d="M585.4,302.8 L595.6,300.9 L602.1,302.8 L608.5,309.2 L614.9,314.4 L623.8,316.9 L629,320.8 L627.7,326.5 L618.7,326.5 L608.5,325.3 L598.2,323.3 L590.5,322.1 L585.4,319.5 L584.7,310.5Z" fill="#F8C42F" stroke="#F8C42F" stroke-width="1" stroke-linejoin="round"/><path d="M623.7,332 L630,333.3 L633.3,338 L637.5,340.5 L642.5,342.2" fill="none" stroke="#F8C42F" stroke-width="11" stroke-linecap="round" stroke-linejoin="round"/><path d="M642.5,342.2 L645.8,344.7 L648.3,348 L650,351.3 L655,353.3 L660,355 L665,357.5" fill="none" stroke="#BEA133" stroke-width="11" stroke-linecap="round" stroke-linejoin="round"/><path d="M665,357.5 L670,360 L674.2,363.3 L675,367.5 L673.3,371.7 L670.8,375.8 L668.3,380 L667.5,385 L666.7,389.2 L664.2,393.3" fill="none" stroke="#BEA133" stroke-width="12" stroke-linecap="round" stroke-linejoin="round"/><circle cx="684.7" cy="350.8" r="5.5" fill="#BEA133"/><circle cx="680" cy="359.7" r="5.3" fill="#BEA133"/><circle cx="683.7" cy="390" r="6" fill="#BEA133"/><path d="M676,364 L680,359.7" fill="none" stroke="#BEA133" stroke-width="8" stroke-linecap="round" stroke-linejoin="round"/><path d="M672,392 L683.7,390" fill="none" stroke="#BEA133" stroke-width="8" stroke-linecap="round" stroke-linejoin="round"/>
<path d="M108.1,268.3 L107.9,271.9 L107.1,273 L103.2,272.8 L96.3,272.3 L94,273.7 L94.9,277.4 L93.7,281.6 L94.7,284.7 L97.3,284.3 L99.2,285.6 L100.5,286.5 L101.7,288 L100,289.3 L98,291 L95,293.5 L92.5,296 L90,298.5 L87.5,301 L85,303.5 L83,306 L81.7,309 L80.5,312.7 L79.7,316 L79.2,319.3 L79.2,322.7 L80,325.2 L80.8,328.5 L82.5,331.8 L84.7,334.7 L87,336.8 L89.2,339 L91.7,340.7 L95,342.3 L98.3,343.2 L102.5,343.5 L106.7,343 L110.8,341.8 L114.2,341.3 L117.5,342.3 L120,344.3 L122,346 L124.7,347 L125.8,346.7 L127.5,353.3 L130,360 L132,366.7 L132.5,371.7 L130.8,375.8 L129.7,380.8 L130,385.8 L131.7,390.8 L133.3,395.8 L135,400.8 L137,405.8 L139.2,410.8 L141.7,414.2 L145,415.3 L149.2,414.7 L153.3,413.3 L157.5,411.7 L160.8,408.3 L163.3,405 L165.3,401.7 L166.7,398.3 L169.2,397.5 L170.8,395 L171.7,390.8 L172.5,388.3 L175,385.8 L178.3,382.5 L180,379.2 L179.7,375 L179.2,370.8 L178.3,366.7 L179.2,363.3 L180.8,360 L183.3,356.7 L186.7,352.5 L190,348.3 L193.3,344.2 L195.8,340 L195.5,340 L198.3,336 L200.8,332.7 L204.7,329.8 L198.3,330.3 L191.7,331.5 L186.3,332.3 L190,330.7 L192.5,329 L198.3,327.3 L204.2,324.3 L208.7,320.2 L212.5,316 L215,312.7 L212.5,309.7 L209.2,307.7 L208.7,306.8 L213.3,307.7 L218.3,308.5 L223.3,308.5 L227.5,309 L230,311 L231.7,313.5 L234.2,316 L235.3,314.3 L236.7,316 L237.5,319.3 L239.2,323.5 L240.8,327.7 L242.5,331.8 L244.2,335.2 L246.7,337.3 L248.3,335.2 L249.2,331 L250.8,327.7 L253.3,323.5 L256.7,319.3 L260,316.8 L263.3,315.2 L267.6,311.4 L269.9,311.4 L270.7,314.1 L272.8,316.5 L274.2,319.2 L274.4,322.9 L276.1,323.2 L278.6,321.4 L280,322 L280.1,324.7 L281,327.4 L281.7,330.5 L281.5,333.8 L281.2,336.9 L282.7,338.7 L284.5,340.4 L284.8,342.9 L285.7,345.1 L286.6,346.9 L288.5,348.5 L290.2,349.6 L291.4,349.5 L291.1,347.4 L290.1,345.6 L290.1,343.8 L288.7,341.4 L287.6,340.5 L285.9,339.4 L285,338.7 L284.1,336.5 L284,335.1 L282.7,333.3 L283.8,330.5 L284.1,327.6 L285.7,327.6 L285.9,328.9 L288,329.8 L289.4,332 L291.8,333.1 L292.8,336.2 L294.2,334.7 L295.8,333.1 L297.7,332.5 L299.8,331.1 L300.3,328.3 L299.6,324.2 L297.2,321.6 L295.4,319.6 L294.2,317.4 L295.6,315.1 L297.2,313.2 L298.9,312.5 L300.7,312.9 L301.4,315.1 L302.2,315.1 L302.4,313.2 L304.7,312.7 L307.6,311.6 L309.4,310.9 L312,310.3 L314.2,308.9 L316.7,306.9 L318.2,305 L318.9,302.9 L321.5,300.1 L322.2,297.8 L320.7,296.5 L322.2,294.7 L320.1,292.3 L319.4,289.8 L317.5,288.3 L319.4,286.3 L323.3,284.8 L322.9,283.8 L320.3,283.2 L317.2,284.1 L315.1,281.9 L316,280.8 L318.1,279.6 L321,277.7 L322.8,278.3 L321.2,281 L322.4,280.8 L325,279.6 L326.4,279.4 L328,280.1 L327.6,282.8 L329.4,284.7 L330.2,285.6 L329.9,289.2 L332,288.8 L334.6,288.1 L335.5,285.6 L335.1,284.1 L333.5,281.7 L332,280.1 L333.7,278.3 L335.8,276.5 L337.5,274.8 L340.7,273.4 L345,271.9 L347.6,268.3ZM102.9,287.5 L107.4,285.2 L110.6,282.4 L112.6,279.5 L115.8,276.9 L118.6,275.6 L122.2,274.7 L124.7,273.4 L126.7,275 L129.2,277.5 L132.4,280.4 L135.6,283.3 L136.9,285.2 L138.8,283.9 L138.2,282 L140.8,281.1 L142.1,279.5 L140.1,277.9 L136.3,275.1 L132.9,272.5 L134,272.2 L137.6,274.6 L141.2,277.2 L143.3,280.1 L144.2,282 L145.9,283.9 L147.8,285.9 L149.1,286.5 L151,285.2 L150.4,282.7 L151.7,281.1 L152.9,279.5 L154.9,280.4 L155.3,282.4 L154.9,285.2 L156.8,287.2 L160.6,287.5 L164.5,287.8 L167.7,288.4 L170.3,287.8 L170.6,290.4 L169.9,293.6 L169,295.7 L165.8,296.1 L161.9,295.7 L158.7,295.5 L154.9,294.5 L151.7,293.6 L148.5,292.9 L145.9,293.6 L144,294.8 L142.7,296.8 L140.4,296.8 L138.2,294.8 L135.6,292.9 L133.7,292.3 L131.8,291.4 L130.1,290.4 L129.6,288.4 L129.2,286.5 L127.9,285 L124.7,284.6 L120.9,285 L117.1,285.5 L113.2,285.9 L109.4,286.8 L105.5,287.8 L102.9,288.1ZM158.7,275.6 L160.6,273.1 L163.8,271.4 L167.1,271.8 L169,273.1 L172.2,272.2 L177.3,274.3 L180.5,276.9 L177.3,278.2 L172.2,277.3 L168.3,276.5 L164.5,277.5 L160.6,277.8 L158.7,276.3ZM168.3,300.7 L170.7,301.7 L174.7,308.7 L178,314.8 L181.3,321.5 L184.2,327 L186.7,331 L184.7,332.3 L181.7,327.7 L178.5,321 L175.2,314.3 L171.8,308 L168.5,303.3ZM193.7,298 L196,297.7 L199.7,300.2 L203,303 L206.3,305 L209.3,306.5 L210,308.7 L206.7,309.3 L203.7,308.7 L200,306.3 L196.7,303 L194,300ZM518,267.7 L518.7,272.7 L519.2,277.7 L521.7,284.3 L525,289.3 L528.3,292.7 L530.8,296 L533.3,299.3 L537.5,303.5 L541.7,307.7 L545.8,311.8 L550,315.2 L555,318.5 L560,321 L565.8,323.5 L570.8,324.3 L575,324.3 L578.3,326 L581.7,328.5 L584.2,331.8 L586.7,334.3 L589.2,336.8 L591.7,338.5 L595,337.7 L597.5,336 L599.2,337.7 L597.5,341 L596.7,339.2 L595.8,343.3 L595,348.3 L594.2,353.3 L593.3,359.2 L595,364.2 L597.5,368.3 L600,372.5 L603.3,376.7 L606.7,380 L610,383.3 L612.5,386.7 L613,391.7 L612.5,396.7 L611.7,402.5 L610.8,408.3 L609.2,415 L607.5,421.7 L606.3,428.3 L605,434.2 L603.7,443.3 L621.3,443.3 L621.7,439.2 L622.5,435 L624.2,431.7 L625.8,428.3 L628.3,425 L631.7,421.7 L635.8,420 L637.5,416.7 L640,414.2 L644.2,411.7 L647.5,409.2 L650,405 L652.5,400.8 L655.8,397.5 L660,395 L664.2,393.3 L666.7,389.2 L667.5,385 L668.3,380 L670.8,375.8 L673.3,371.7 L675,367.5 L674.2,363.3 L670,360 L665,357.5 L660,355 L655,353.3 L650,351.7 L648.3,348.3 L645.8,345 L642.5,342.5 L637.5,340.8 L633.3,338.3 L630.8,335 L629.2,332.5 L623.3,331.7 L618.3,331.3 L613.3,330.3 L610,330 L605,332.5 L600.8,335 L597.5,337.5 L600,335.2 L598.3,334.3 L595.8,335.2 L593.3,335.2 L592.5,331.8 L593.3,327.7 L591.7,325.2 L589.2,323.5 L585,323.5 L582.5,322.7 L583.3,319.3 L584.2,316 L583.3,313.5 L580,313.5 L577.5,315.2 L575,317.7 L571.7,318.5 L568.3,316.8 L566.7,313.5 L566.3,309.3 L567.5,304.3 L570.8,301 L575,299.3 L580,299.3 L585,298.5 L590,298.5 L591.7,300.2 L592.5,304.3 L595,307.7 L596.7,306 L595.8,301.8 L595,297.7 L597.5,294.3 L601.7,290.2 L606.7,286.8 L608.3,282.7 L613.3,278.5 L616.7,276 L623.3,273.5 L626.7,272.7 L627.5,267.7Z" fill="#3a3839" fill-rule="evenodd" stroke="#3a3839" stroke-width="0.5" stroke-linejoin="round"/><path d="M124.1,275.6 L126,276 L126.3,278.8 L125.8,282.4 L124.1,282.4 L123.7,278.8ZM130.9,283.7 L135.3,283.9 L134.7,285.5 L132.4,285.2ZM114.2,279.6 L117.1,279.8 L116.8,281.4 L114.5,281.1ZM151.7,287.2 L154.9,287.3 L154.9,287.9 L151.7,287.8ZM165.1,289.5 L168.3,288.8 L167.7,290.4 L165.5,290.4ZM195.8,374.2 L197.2,377.5 L196.7,382.5 L195,388.3 L193,393.3 L190.8,396.7 L188,398.7 L185.3,398 L184.5,394.2 L185,389.2 L185.8,384.2 L188,380.8 L190.8,379.2 L193.3,375.8ZM249,334.3 L251.4,336.5 L252.7,339.3 L251.1,341.1 L249.4,341.1 L248.8,337.4ZM356.7,370.9 L359.9,376.7 L363.1,382.4 L366.9,387.6 L371.4,392.7 L374.6,397.2 L376.5,402.3 L376.2,407.4 L374,412.6 L371.4,417.1 L368.2,420.3 L365,421.5 L361.2,421.3 L357.3,420.3 L354.1,417.7 L351.5,416.4 L350.3,418.3 L347.7,417.1 L345.8,414.5 L343.2,411.9 L339.4,410.6 L334.2,410.3 L329.1,411.3 L324.6,412.6 L320.1,414.5 L315.6,415.4 L311.8,415.8 L309.2,413.8 L309.2,410.6 L307.9,406.8 L306.7,402.9 L305.4,399.1 L305.1,396.5 L306.4,393.3 L308.6,390.8 L312.4,389.5 L316.9,387.6 L320.8,385 L323.6,381.8 L326.5,379.2 L329.7,377.3 L332.9,376 L334.9,373.5 L337.4,372.6 L340.6,372.8 L343.8,372.2 L346.4,372.8 L347.7,374.7 L348.3,377.9 L350.3,380.5 L352.8,382.4 L354.1,380.5 L354.7,376.7 L355.4,372.8ZM359.9,422.4 L366.9,422.8 L367.9,426.7 L366.3,429.9 L363.7,431.2 L361.2,428.6 L359.9,424.7ZM586.7,310.7 L590.8,309.3 L596.7,309.7 L601.7,311.3 L606.7,314 L611.3,315.7 L610.8,317 L605.8,316 L600.8,313.5 L595,311.8 L589.2,312.3ZM611.3,317.3 L616.7,316.8 L623.3,318.5 L623,320.3 L617.5,320 L612.5,320.3 L610.8,319ZM599.2,319 L604.2,319.3 L604.2,320.7 L599.5,320.5ZM625,320 L628.3,320 L628.3,321.3 L625,321.3ZM575.3,351.3 L578.3,351 L579,353.7 L576.3,354.3Z" fill="#3a3839" stroke="#3a3839" stroke-width="0.8" stroke-linejoin="round"/><path d="M276,341.8 L279.8,342.5 L281.2,344.7 L284,346.5 L285.5,348 L287.3,348.9 L289.4,350.7 L290.7,352.5 L292,353.8 L292.1,355.6 L294.6,357.5 L294.4,360.2 L294.2,362.6 L292.1,362.6 L290.7,361.1 L288.1,359.3 L285.9,356.6 L284.7,353.8 L282.6,351.5 L281.9,348.9 L280.1,347.6 L278.1,345.3 L276.1,343.3ZM293.2,364.4 L294.8,362.7 L296.3,362.7 L298.9,364 L302.4,364.4 L303.3,363.6 L306.1,364.6 L309.4,366 L309.2,367.8 L306.2,367.3 L301.5,366.6 L298.1,366.2 L295.3,365.5ZM299.8,349.3 L300.8,348.4 L303.6,349.1 L304,347.3 L306.8,346.2 L308.5,343.6 L310.9,342 L313.2,339.3 L314.9,340.4 L317.5,342.5 L315.4,344.4 L314.9,346.9 L317,350.2 L315.1,350.5 L314.6,353.3 L312.8,355.1 L312.3,358.4 L309.5,359.5 L306.8,357.8 L304.7,358.4 L301.9,357.3 L301.5,354.4 L300,352.5 L299.8,350.5ZM318.6,350.5 L320.5,349.6 L324.1,350.4 L327.5,348.9 L328,349.5 L326.4,351.3 L324.1,351.3 L320.7,351.3 L319.3,353.6 L321.5,353.6 L324.7,353.6 L323.8,354.9 L321.7,355.5 L324,359.3 L324.5,361.6 L322.4,360.7 L320.7,356.9 L319.6,357.5 L319.6,362 L318.1,362 L318.1,358.4 L316.8,357.1 L317.7,354.2 L318.6,352ZM338.1,353.5 L340.7,352.7 L343.3,353.5 L343.6,356.6 L345.9,358 L349.9,354.7 L355.5,356.7 L361.5,359.1 L363.8,362 L367.3,362.9 L365.9,364.4 L368.5,368.4 L372.5,370.7 L370.2,370.9 L365.9,369.3 L364.2,366.6 L360.7,366 L358.9,368.7 L355.5,368.6 L352,366.6 L350.2,367.3 L351.6,364.7 L350.2,362 L345.9,360 L341.5,359.3 L341.2,357.1 L342.9,356 L339.8,355.6 L338.1,354.5ZM320,318.3 L322.8,318.5 L322.9,322 L321.7,324.7 L322.4,326.5 L325.9,328.3 L326.1,329.2 L323.5,327.4 L320.7,327.2 L320,325.6 L318.9,323.8 L319.4,322ZM322.4,339.3 L325,336.2 L328.5,334.2 L330.2,338.4 L329.7,340.5 L328.3,341.8 L325.9,340.2 L324.8,338.4ZM326.4,329.2 L328.7,329.6 L328.8,332.3 L327.6,333.8 L326.8,332ZM322.4,330.5 L324.5,331.1 L325.9,332.9 L324.7,335.3 L323.3,334.2 L322.4,332.9ZM314.1,336.7 L315.8,335.3 L318.1,332.3 L317.9,331.3 L316.1,333.4 L314.1,336ZM319.6,327.6 L321.4,327.6 L321.5,329.4 L320.3,329.6ZM319.1,310.1 L320.7,306.1 L322.2,306.5 L321.5,309.2 L320.3,312ZM299.3,317.1 L300.7,315.6 L303.1,315.6 L302.4,317.8 L300.7,318.9 L299.3,318.1ZM332,348.4 L332.8,348 L334.1,350.2 L332.8,353.6 L332.1,351.1ZM325,370.7 L327.6,367.7 L331.6,367.3 L327.6,369.5ZM310.2,366.7 L313.7,366.9 L317.2,367.1 L320.7,367.1 L324.1,366.9 L324.1,368 L318.9,368.2 L313.7,368.4 L310.2,367.8ZM317.2,369.1 L320.3,369.5 L319.8,370.7 L317.5,370ZM332.7,357.5 L337.7,357.5 L337.2,358.6 L332.8,358.4ZM329.4,357.6 L331.5,357.8 L331.1,358.9 L329.5,358.7ZM368.2,362.2 L371.1,361.1 L374.9,359.6 L375.1,361.1 L372,363.3 L368.5,363.3ZM372.5,356.7 L375.5,358.6 L376.5,360.4 L375.6,359.8 L372.8,357.5ZM379.1,362 L381.4,364.4 L380.5,364.4 L379.1,362.9ZM382.4,364.2 L388.2,367.1 L390.2,369.3 L392.3,371.3 L391.1,371.1 L388.2,369.3 L385,367.3 L382.4,365.3ZM395.5,388.6 L398.1,390.2 L400.7,392.6 L399.6,392.8 L396.9,390.8ZM418.6,383.7 L420.9,383.9 L421,385.1 L418.6,385.1ZM420.7,382.6 L423.3,381.5 L423.1,382.2 L421.2,382.9ZM407.9,414.1 L409.9,413.7 L412.4,416.7 L416.9,419.7 L420.5,421.8 L418.2,425.3 L416.3,428.5 L413.1,429.5 L411.8,427.2 L413.3,424.6 L411.2,422.1 L411.8,419.5 L409.9,416.9ZM411.8,428.2 L413.3,429.7 L409.9,432.9 L405.4,436.2 L400.9,438.5 L397.9,437.7 L399.6,434.9 L403.5,431.7 L407.9,429.1ZM334.3,292.9 L336.4,291.8 L338.1,293.4 L337.3,296.4 L335.9,297.1 L335.2,295.3ZM336.4,291.3 L339.2,288.9 L344.4,288.7 L346.6,286.2 L347.5,286.5 L349.6,285.4 L351.9,282.5 L352.2,279.6 L354.5,278.3 L355.7,281.6 L354,284.3 L353.8,288 L351.9,289.8 L350,290.3 L347,290.5 L344.9,292.5 L343.5,290.5 L340,291.1 L338.3,291.8ZM338.8,292.9 L342.1,291.1 L343,292 L340,293.8ZM352.2,278 L352.7,274.9 L355.2,270.9 L358.3,273.1 L361.8,274.5 L358,277.1 L354,276.1ZM322.1,328.7 L325.9,329.1 L328.7,329.4 L329,333.4 L326.2,335.3 L323.1,334.9 L322.2,332ZM313.7,337.4 L316,336 L318.6,332.7 L318.8,330.5 L316.8,332 L314.8,334.5 L313.4,336.3ZM312.8,338.9 L314.1,337.1 L315.8,339.3 L314.6,340.5ZM331.5,348 L333.2,347.6 L334.6,350.2 L333.5,353.8 L331.8,352 L331.6,349.8ZM317.9,350.5 L320.7,349.5 L324.1,349.8 L328,348.7 L327.6,350.9 L324.1,352 L321,352 L320,353.8 L322.4,353.8 L325,353.5 L324.1,355.6 L322.4,356 L324.5,359.3 L324.8,362.2 L322.4,361.5 L321,357.8 L320,362.4 L317.7,362.4 L317.2,357.5 L317.2,353.8ZM319.8,318.1 L322.9,318.1 L323.5,321.4 L322.2,324.7 L323.3,326.2 L326.2,328 L326.2,329.4 L323.5,328 L320.7,327.6 L319.6,325.4 L318.6,323.6 L319.1,321.4Z" fill="#3a3839" stroke="#3a3839" stroke-width="1.8" stroke-linejoin="round"/>
<g fill="#1a1a1a"><circle cx="67" cy="323.5" r="0.75"/><circle cx="119.2" cy="354.3" r="0.75"/><circle cx="84.2" cy="366.8" r="0.75"/><circle cx="98.8" cy="381" r="0.75"/><circle cx="249.7" cy="339.2" r="0.75"/><circle cx="234.8" cy="364" r="0.75"/><circle cx="205.5" cy="331.5" r="0.75"/><circle cx="190" cy="369.7" r="0.75"/><circle cx="185.3" cy="374.7" r="0.75"/><circle cx="205.8" cy="360.3" r="0.75"/><circle cx="207" cy="365.8" r="0.75"/><circle cx="205.5" cy="389.7" r="0.75"/><circle cx="209.7" cy="388.8" r="0.75"/><circle cx="219.7" cy="388.3" r="0.75"/><circle cx="277" cy="374" r="0.75"/><circle cx="291.3" cy="373" r="0.75"/><circle cx="338" cy="306.7" r="0.75"/><circle cx="378.1" cy="307.8" r="0.75"/><circle cx="400" cy="316.9" r="0.75"/><circle cx="398.9" cy="324.3" r="0.75"/><circle cx="400.5" cy="352.9" r="0.75"/><circle cx="441.7" cy="322.3" r="0.75"/><circle cx="400.8" cy="405" r="0.75"/><circle cx="385.5" cy="409.5" r="0.75"/><circle cx="427.6" cy="377.1" r="0.75"/><circle cx="418.1" cy="374.8" r="0.75"/><circle cx="465.1" cy="361.3" r="0.75"/><circle cx="485.3" cy="403.3" r="0.75"/><circle cx="492" cy="368" r="0.75"/><circle cx="543.8" cy="401" r="0.75"/><circle cx="551.3" cy="399.8" r="0.75"/><circle cx="595.8" cy="400" r="0.75"/><circle cx="535.5" cy="318.5" r="0.75"/><circle cx="542.5" cy="318" r="0.75"/><circle cx="545" cy="333" r="0.75"/><circle cx="583.3" cy="341.8" r="0.75"/><circle cx="592.5" cy="347" r="0.75"/><circle cx="577.5" cy="352.3" r="0.75"/><circle cx="622.5" cy="294.3" r="0.75"/><circle cx="684.7" cy="350.8" r="0.75"/><circle cx="680" cy="359.7" r="0.75"/><circle cx="683.7" cy="390" r="0.75"/><circle cx="590" cy="353" r="0.75"/><circle cx="55" cy="281.4" r="0.75"/><circle cx="66.3" cy="285.6" r="0.6"/><circle cx="680.8" cy="281.2" r="0.75"/><circle cx="58" cy="351" r="0.7"/><circle cx="123" cy="349" r="0.7"/><circle cx="121.6" cy="351.8" r="0.7"/><circle cx="174.7" cy="436.7" r="0.7"/><circle cx="196.3" cy="436" r="0.8"/><circle cx="199.2" cy="436.3" r="0.7"/><circle cx="87.6" cy="419.8" r="0.7"/><circle cx="92" cy="425.4" r="0.7"/><circle cx="235.7" cy="331.5" r="0.75"/><circle cx="236" cy="333.8" r="0.75"/><circle cx="236.1" cy="336.3" r="0.75"/><circle cx="235.8" cy="338.7" r="0.75"/><circle cx="235.9" cy="340.9" r="0.75"/><circle cx="236" cy="340.7" r="0.75"/><circle cx="236.4" cy="343.5" r="0.75"/><circle cx="236.2" cy="345.2" r="0.75"/><circle cx="236.8" cy="348" r="0.75"/><circle cx="236.8" cy="349.8" r="0.75"/><circle cx="237.3" cy="351.7" r="0.75"/><circle cx="237.3" cy="354.1" r="0.75"/><circle cx="269.9" cy="327.6" r="0.75"/><circle cx="270.5" cy="331.1" r="0.75"/><circle cx="270.7" cy="333.6" r="0.75"/><circle cx="271.1" cy="333.4" r="0.75"/><circle cx="271.4" cy="336" r="0.75"/><circle cx="271.3" cy="339" r="0.75"/><circle cx="190" cy="369.7" r="0.7"/><circle cx="205.8" cy="360.3" r="0.7"/><circle cx="207" cy="365.3" r="0.7"/><circle cx="207.8" cy="370.8" r="0.7"/><circle cx="205.5" cy="389.7" r="0.7"/><circle cx="209.5" cy="388.8" r="0.7"/><circle cx="219.7" cy="388.3" r="0.7"/><circle cx="234.5" cy="363" r="0.7"/><circle cx="235.5" cy="365" r="0.7"/><circle cx="203" cy="330" r="0.8"/><circle cx="361.1" cy="313.2" r="0.7"/><circle cx="361.7" cy="315.3" r="0.7"/><circle cx="362.5" cy="317.1" r="0.7"/><circle cx="363.5" cy="319.4" r="0.7"/><circle cx="363.1" cy="319.3" r="0.7"/><circle cx="363.3" cy="322" r="0.7"/><circle cx="363.4" cy="324.2" r="0.7"/><circle cx="363.6" cy="324.1" r="0.7"/><circle cx="362.3" cy="327.2" r="0.7"/><circle cx="361.1" cy="329.7" r="0.7"/><circle cx="352.1" cy="299.3" r="0.7"/><circle cx="354.8" cy="303.3" r="0.7"/><circle cx="356.3" cy="306.9" r="0.7"/><circle cx="338.9" cy="346.4" r="0.6"/><circle cx="341.4" cy="342.2" r="0.6"/><circle cx="344.8" cy="339.6" r="0.6"/><circle cx="343.9" cy="338.9" r="0.6"/><circle cx="349.3" cy="335.2" r="0.6"/><circle cx="355.1" cy="339.2" r="0.6"/><circle cx="361.9" cy="339.6" r="0.6"/><circle cx="360.3" cy="341" r="0.6"/><circle cx="364.2" cy="340.3" r="0.6"/><circle cx="364.7" cy="339" r="0.6"/><circle cx="368.6" cy="341" r="0.6"/><circle cx="368.9" cy="339.1" r="0.6"/><circle cx="374.2" cy="342.2" r="0.6"/><circle cx="373.1" cy="340.7" r="0.6"/><circle cx="378.3" cy="343.9" r="0.6"/><circle cx="379.2" cy="343.8" r="0.6"/><circle cx="381" cy="341.7" r="0.6"/><circle cx="384.9" cy="343" r="0.6"/><circle cx="387" cy="340.3" r="0.6"/><circle cx="388.2" cy="340.8" r="0.6"/><circle cx="388.4" cy="341.7" r="0.6"/><circle cx="394" cy="342.9" r="0.6"/><circle cx="389.8" cy="330.7" r="0.6"/><circle cx="394.9" cy="331.8" r="0.6"/><circle cx="400.9" cy="332.8" r="0.6"/><circle cx="399" cy="332.5" r="0.6"/><circle cx="402.7" cy="331.4" r="0.6"/><circle cx="406.8" cy="335.9" r="0.6"/><circle cx="406.6" cy="336" r="0.6"/><circle cx="408" cy="338.9" r="0.6"/><circle cx="406.8" cy="339.9" r="0.6"/><circle cx="404" cy="341" r="0.6"/><circle cx="399.5" cy="336.1" r="0.8"/><circle cx="403.1" cy="337.9" r="0.8"/><circle cx="402.7" cy="338" r="0.8"/><circle cx="404.5" cy="340.9" r="0.8"/><circle cx="410.3" cy="346.4" r="0.8"/><circle cx="411.6" cy="349.2" r="0.8"/><circle cx="411.3" cy="349.4" r="0.8"/><circle cx="412.7" cy="351.2" r="0.8"/><circle cx="414.5" cy="354" r="0.8"/><circle cx="414.2" cy="353.5" r="0.8"/><circle cx="415.3" cy="354.7" r="0.8"/><circle cx="417" cy="356.5" r="0.8"/><circle cx="417" cy="361.9" r="0.6"/><circle cx="420.1" cy="366.3" r="0.6"/><circle cx="420.9" cy="365" r="0.6"/><circle cx="422.5" cy="368.5" r="0.6"/><circle cx="422.4" cy="370.1" r="0.6"/><circle cx="422.2" cy="372" r="0.6"/><circle cx="428.9" cy="351.2" r="0.6"/><circle cx="432.2" cy="358" r="0.6"/><circle cx="433" cy="358.1" r="0.6"/><circle cx="436.9" cy="359.2" r="0.6"/><circle cx="437.8" cy="360.8" r="0.6"/><circle cx="438.4" cy="364.7" r="0.6"/><circle cx="438.7" cy="368.9" r="0.6"/><circle cx="457.9" cy="345.2" r="0.6"/><circle cx="462.3" cy="351" r="0.6"/><circle cx="461.7" cy="351.4" r="0.6"/><circle cx="464.2" cy="356.3" r="0.6"/><circle cx="467.4" cy="360.1" r="0.6"/><circle cx="467.4" cy="361" r="0.6"/><circle cx="466" cy="365.8" r="0.6"/><circle cx="447" cy="371.3" r="0.6"/><circle cx="455.7" cy="370.3" r="0.6"/><circle cx="456.5" cy="371.7" r="0.6"/><circle cx="463.1" cy="368.4" r="0.6"/><circle cx="426.9" cy="302.1" r="0.6"/><circle cx="430.4" cy="303.9" r="0.6"/><circle cx="435.4" cy="306" r="0.6"/><circle cx="435.3" cy="305.7" r="0.6"/><circle cx="443" cy="308.8" r="0.6"/><circle cx="443.1" cy="308.8" r="0.6"/><circle cx="451.3" cy="310.2" r="0.6"/><circle cx="398.8" cy="371.6" r="0.8"/><circle cx="399.8" cy="372.8" r="0.8"/><circle cx="399.7" cy="374.9" r="0.8"/><circle cx="401.2" cy="377.9" r="0.8"/><circle cx="400.3" cy="377.9" r="0.8"/><circle cx="402.1" cy="379.8" r="0.8"/><circle cx="402.3" cy="381.8" r="0.8"/><circle cx="402.9" cy="383.3" r="0.8"/><circle cx="403.9" cy="384.1" r="0.8"/><circle cx="404.5" cy="386.7" r="0.8"/><circle cx="405.5" cy="388.8" r="0.8"/><circle cx="431.6" cy="379.8" r="0.6"/><circle cx="432.6" cy="385.4" r="0.6"/><circle cx="432.5" cy="385.8" r="0.6"/><circle cx="431.3" cy="391" r="0.6"/><circle cx="435.1" cy="377" r="0.8"/><circle cx="438.4" cy="377.3" r="0.8"/><circle cx="441.7" cy="378.4" r="0.8"/><circle cx="451.5" cy="386.7" r="0.6"/><circle cx="455.2" cy="387.1" r="0.6"/><circle cx="458.8" cy="387.1" r="0.6"/><circle cx="458.6" cy="387.5" r="0.6"/><circle cx="459.4" cy="392.2" r="0.6"/><circle cx="468.7" cy="394" r="0.6"/><circle cx="472.4" cy="394.7" r="0.6"/><circle cx="475.2" cy="395.3" r="0.6"/><circle cx="478.7" cy="396.2" r="0.6"/><circle cx="471.6" cy="383.2" r="0.8"/><circle cx="475.6" cy="384" r="0.8"/><circle cx="476.4" cy="384.4" r="0.8"/><circle cx="478.7" cy="383.7" r="0.8"/><circle cx="481.8" cy="382.2" r="0.8"/><circle cx="483.9" cy="381.2" r="0.8"/><circle cx="483.7" cy="389.8" r="0.6"/><circle cx="491.3" cy="391.6" r="0.6"/><circle cx="491.4" cy="392.2" r="0.6"/><circle cx="501.3" cy="395.3" r="0.6"/><circle cx="501.7" cy="394.3" r="0.6"/><circle cx="509.5" cy="398.6" r="0.6"/><circle cx="509.9" cy="397.3" r="0.6"/><circle cx="511.3" cy="396.5" r="0.6"/><circle cx="511.2" cy="396.2" r="0.6"/><circle cx="518.3" cy="397.8" r="0.6"/><circle cx="465.6" cy="361.3" r="0.6"/><circle cx="467.4" cy="365.8" r="0.6"/><circle cx="471.2" cy="369.7" r="0.6"/><circle cx="471.5" cy="371" r="0.6"/><circle cx="473.1" cy="371.6" r="0.6"/><circle cx="543.2" cy="401" r="0.7"/><circle cx="545.5" cy="400.6" r="0.7"/><circle cx="594.3" cy="413.3" r="0.7"/><circle cx="597.5" cy="413.2" r="0.7"/><circle cx="529.7" cy="300.2" r="0.8"/><circle cx="624.1" cy="319.7" r="0.7"/><circle cx="626.9" cy="321.2" r="0.7"/><circle cx="628.4" cy="321.9" r="0.7"/><circle cx="628.7" cy="321.8" r="0.7"/><circle cx="629.7" cy="323.8" r="0.7"/><circle cx="631.5" cy="325.5" r="0.7"/><circle cx="631.4" cy="325.9" r="0.7"/><circle cx="631.2" cy="329.8" r="0.7"/><circle cx="606.8" cy="330.7" r="0.7"/><circle cx="611.3" cy="330.8" r="0.7"/><circle cx="617" cy="330.5" r="0.7"/><circle cx="616.3" cy="329.8" r="0.7"/><circle cx="621.2" cy="330.6" r="0.7"/><circle cx="626.5" cy="330.3" r="0.7"/><circle cx="304.4" cy="344.3" r="0.55"/><circle cx="311.7" cy="347.5" r="0.55"/><circle cx="326" cy="319.1" r="0.55"/><circle cx="326.7" cy="323.6" r="0.55"/><circle cx="326.5" cy="361.4" r="0.55"/><circle cx="320.2" cy="354.7" r="0.55"/><circle cx="333.3" cy="346.8" r="0.55"/><circle cx="331.1" cy="362" r="0.55"/><circle cx="330.9" cy="364.2" r="0.55"/><circle cx="313.1" cy="357.9" r="0.55"/><circle cx="315.9" cy="365" r="0.55"/><circle cx="326" cy="331.5" r="0.55"/><circle cx="319.4" cy="336" r="0.55"/><circle cx="310.6" cy="346.5" r="0.55"/><circle cx="323.6" cy="363.3" r="0.55"/><circle cx="329.1" cy="364.6" r="0.55"/><circle cx="328.5" cy="324.2" r="0.55"/><circle cx="296" cy="357.9" r="0.55"/><circle cx="307.5" cy="356.2" r="0.55"/><circle cx="325.3" cy="318" r="0.55"/><circle cx="331.1" cy="333.1" r="0.55"/><circle cx="319.3" cy="368.3" r="0.55"/><circle cx="324.5" cy="317.3" r="0.55"/><circle cx="325.1" cy="323.8" r="0.55"/><circle cx="308.6" cy="366.2" r="0.55"/><circle cx="316.7" cy="343.1" r="0.55"/><circle cx="327" cy="347.1" r="0.55"/><circle cx="322.3" cy="348.3" r="0.55"/><circle cx="315.1" cy="353.6" r="0.55"/><circle cx="314.2" cy="346.2" r="0.55"/><circle cx="326.3" cy="318.8" r="0.55"/><circle cx="326" cy="340.2" r="0.55"/><circle cx="328.9" cy="334.2" r="0.55"/><circle cx="330.5" cy="354.6" r="0.55"/><circle cx="328.8" cy="366.5" r="0.55"/><circle cx="324.1" cy="332.5" r="0.55"/><circle cx="311.7" cy="347" r="0.55"/><circle cx="322.8" cy="354.4" r="0.55"/><circle cx="309.9" cy="349.9" r="0.55"/><circle cx="320.6" cy="325.7" r="0.55"/><circle cx="336" cy="359.9" r="0.55"/><circle cx="336.1" cy="349.5" r="0.55"/><circle cx="314.5" cy="337.2" r="0.55"/><circle cx="315.3" cy="365.8" r="0.55"/><circle cx="332.6" cy="359.8" r="0.55"/><circle cx="328" cy="343" r="0.55"/><circle cx="323.9" cy="330.8" r="0.55"/><circle cx="341.4" cy="352.2" r="0.55"/><circle cx="342.6" cy="362.9" r="0.55"/><circle cx="328" cy="343.3" r="0.55"/><circle cx="314.1" cy="365.2" r="0.55"/><circle cx="325.2" cy="333.6" r="0.55"/><circle cx="305.2" cy="361.1" r="0.55"/><circle cx="317.7" cy="356.9" r="0.55"/><circle cx="320.9" cy="358.7" r="0.55"/><circle cx="300.6" cy="357.4" r="0.55"/><circle cx="342.4" cy="358.2" r="0.55"/><circle cx="326.1" cy="361.1" r="0.55"/><circle cx="306.1" cy="343.4" r="0.55"/><circle cx="314.7" cy="340.6" r="0.55"/><circle cx="310.7" cy="349.8" r="0.55"/><circle cx="323.8" cy="334.7" r="0.55"/><circle cx="298" cy="344.9" r="0.55"/><circle cx="331" cy="335.7" r="0.55"/><circle cx="311.9" cy="347.5" r="0.55"/><circle cx="335.7" cy="348.5" r="0.55"/><circle cx="315.1" cy="335.3" r="0.55"/><circle cx="318.7" cy="352.7" r="0.55"/><circle cx="314.5" cy="352.2" r="0.55"/><circle cx="316.8" cy="328.5" r="0.55"/><circle cx="320.9" cy="352.3" r="0.55"/><circle cx="314.8" cy="362" r="0.55"/><circle cx="341.1" cy="357.4" r="0.55"/><circle cx="305.7" cy="340.1" r="0.55"/><circle cx="298" cy="358.5" r="0.55"/><circle cx="328" cy="362.5" r="0.55"/><circle cx="335.2" cy="350.8" r="0.55"/><circle cx="332" cy="345.4" r="0.55"/><circle cx="296.8" cy="346.6" r="0.55"/><circle cx="297.9" cy="360.2" r="0.55"/><circle cx="328.6" cy="359.8" r="0.55"/><circle cx="332.8" cy="364.9" r="0.55"/><circle cx="322.5" cy="359.3" r="0.55"/><circle cx="305" cy="348.1" r="0.55"/><circle cx="329.6" cy="355.5" r="0.55"/><circle cx="328.6" cy="342.9" r="0.55"/><circle cx="318" cy="349.5" r="0.55"/><circle cx="296.4" cy="355.1" r="0.55"/><circle cx="315.8" cy="353.6" r="0.55"/><circle cx="302.2" cy="346.5" r="0.55"/><circle cx="329.6" cy="365.9" r="0.55"/><circle cx="307.6" cy="352.8" r="0.55"/><circle cx="314.1" cy="360.7" r="0.55"/><circle cx="323.7" cy="329.7" r="0.55"/><circle cx="317.8" cy="335.8" r="0.55"/><circle cx="309" cy="356.5" r="0.55"/><circle cx="317.8" cy="347.2" r="0.55"/><circle cx="317.2" cy="359.7" r="0.55"/><circle cx="317.9" cy="353.7" r="0.55"/><circle cx="332" cy="366.3" r="0.55"/><circle cx="317.1" cy="327.7" r="0.55"/><circle cx="304.2" cy="353.5" r="0.55"/><circle cx="328.7" cy="366.2" r="0.55"/><circle cx="301.5" cy="352.8" r="0.55"/><circle cx="338.9" cy="363.1" r="0.55"/><circle cx="305.3" cy="361.3" r="0.55"/><circle cx="296.3" cy="359.6" r="0.55"/><circle cx="323.4" cy="351.3" r="0.55"/><circle cx="315.4" cy="341.3" r="0.55"/><circle cx="302.8" cy="346.5" r="0.55"/><circle cx="321.4" cy="321.9" r="0.55"/><circle cx="306.4" cy="350.7" r="0.55"/><circle cx="297.4" cy="362.4" r="0.55"/><circle cx="334.1" cy="355.6" r="0.55"/><circle cx="307.6" cy="351.3" r="0.55"/><circle cx="327.5" cy="358.2" r="0.55"/><circle cx="305.9" cy="355.4" r="0.55"/><circle cx="321" cy="321.6" r="0.55"/><circle cx="318.6" cy="334.2" r="0.55"/><circle cx="331.1" cy="351.4" r="0.55"/><circle cx="322.6" cy="325.2" r="0.55"/><circle cx="327.1" cy="348.9" r="0.55"/><circle cx="301.1" cy="362.6" r="0.55"/><circle cx="327.6" cy="322.1" r="0.55"/><circle cx="309.6" cy="353.6" r="0.55"/><circle cx="324.4" cy="344.9" r="0.55"/><circle cx="327.2" cy="339.8" r="0.55"/><circle cx="294.9" cy="353.4" r="0.55"/><circle cx="333.1" cy="344.3" r="0.55"/><circle cx="319.2" cy="328.7" r="0.55"/><circle cx="369.8" cy="355.7" r="0.55"/><circle cx="374.8" cy="356.6" r="0.55"/><circle cx="364.5" cy="361.1" r="0.55"/><circle cx="391.1" cy="368.4" r="0.55"/><circle cx="379.2" cy="358.8" r="0.55"/><circle cx="367.8" cy="355.7" r="0.55"/><circle cx="369.1" cy="370.7" r="0.55"/><circle cx="388.3" cy="368.5" r="0.55"/><circle cx="372.1" cy="365.2" r="0.55"/><circle cx="385.3" cy="369.4" r="0.55"/><circle cx="381.4" cy="366" r="0.55"/><circle cx="391.7" cy="369.6" r="0.55"/><circle cx="379.5" cy="359.3" r="0.55"/><circle cx="390" cy="369.2" r="0.55"/><circle cx="378.3" cy="361.3" r="0.55"/><circle cx="381.1" cy="361.6" r="0.55"/><circle cx="367.4" cy="359.4" r="0.55"/><circle cx="371.2" cy="363.5" r="0.55"/><circle cx="377.1" cy="360" r="0.55"/><circle cx="375.3" cy="357.5" r="0.55"/><circle cx="373.5" cy="367.4" r="0.55"/><circle cx="372.4" cy="364" r="0.55"/><circle cx="364.3" cy="358" r="0.55"/><circle cx="386.3" cy="365" r="0.55"/><circle cx="369.8" cy="359.8" r="0.55"/><circle cx="368" cy="362.2" r="0.55"/><circle cx="390.4" cy="371.2" r="0.55"/><circle cx="375.2" cy="371" r="0.55"/><circle cx="371.6" cy="357.3" r="0.55"/><circle cx="374.3" cy="371.3" r="0.55"/><circle cx="363.8" cy="356.9" r="0.55"/><circle cx="371.5" cy="355.6" r="0.55"/><circle cx="368.9" cy="354.9" r="0.55"/><circle cx="364.1" cy="356.9" r="0.55"/><circle cx="366.2" cy="363.4" r="0.55"/><circle cx="370" cy="361.3" r="0.55"/><circle cx="370.2" cy="370" r="0.55"/><circle cx="363.4" cy="358.4" r="0.55"/><circle cx="370" cy="357.6" r="0.55"/><circle cx="369.6" cy="369.6" r="0.55"/><circle cx="612.2" cy="319.9" r="0.5"/><circle cx="619.3" cy="324.6" r="0.5"/><circle cx="617" cy="324.1" r="0.5"/><circle cx="605.9" cy="308.5" r="0.5"/><circle cx="609" cy="316.1" r="0.5"/><circle cx="595.3" cy="307.8" r="0.5"/><circle cx="627" cy="323" r="0.5"/><circle cx="608.8" cy="318.5" r="0.5"/><circle cx="601.5" cy="306.6" r="0.5"/><circle cx="592.7" cy="304.3" r="0.5"/><circle cx="599.1" cy="316.7" r="0.5"/><circle cx="600.6" cy="310" r="0.5"/><circle cx="599.6" cy="313.9" r="0.5"/><circle cx="617.4" cy="322.3" r="0.5"/><circle cx="601.7" cy="316.2" r="0.5"/><circle cx="594.8" cy="320.3" r="0.5"/><circle cx="624.8" cy="324.6" r="0.5"/><circle cx="600.8" cy="311" r="0.5"/><circle cx="608.2" cy="320.7" r="0.5"/><circle cx="591.1" cy="320.1" r="0.5"/><circle cx="619.4" cy="322.7" r="0.5"/><circle cx="590.4" cy="310.7" r="0.5"/><circle cx="611.7" cy="324" r="0.5"/><circle cx="609.1" cy="310" r="0.5"/><circle cx="599.7" cy="306.9" r="0.5"/><circle cx="243" cy="421" r="0.9"/><circle cx="428.3" cy="432.7" r="0.8"/><path d="M60.6,282.6 L63,283 L65.6,284.8" fill="none" stroke="#1a1a1a" stroke-width="1.2" stroke-linecap="round" stroke-linejoin="round"/><path d="M685.2,283 L688.8,282.4" fill="none" stroke="#1a1a1a" stroke-width="1.2" stroke-linecap="round" stroke-linejoin="round"/><path d="M79.8,292.5 L81,293.2" fill="none" stroke="#1a1a1a" stroke-width="1.3" stroke-linecap="round" stroke-linejoin="round"/><path d="M78,301.2 L80.5,301 L82,301.8 L84.5,300.5 L86,299.6" fill="none" stroke="#1a1a1a" stroke-width="1.5" stroke-linecap="round" stroke-linejoin="round"/><path d="M65.5,322.3 L67.5,322 L68.3,324 L66.3,325.3" fill="none" stroke="#1a1a1a" stroke-width="1.2" stroke-linecap="round" stroke-linejoin="round"/><path d="M185,374 L186.5,375.3 L187.6,375" fill="none" stroke="#1a1a1a" stroke-width="1.2" stroke-linecap="round" stroke-linejoin="round"/><path d="M456.3,312.7 L459.7,312.3 L463.3,314 L465.7,317" fill="none" stroke="#1a1a1a" stroke-width="1.5" stroke-linecap="round" stroke-linejoin="round"/><path d="M490.8,366.8 L492.7,369.4 L494.2,371.6" fill="none" stroke="#1a1a1a" stroke-width="1.3" stroke-linecap="round" stroke-linejoin="round"/><path d="M484.4,402.7 L486.3,403.6" fill="none" stroke="#1a1a1a" stroke-width="1.3" stroke-linecap="round" stroke-linejoin="round"/><path d="M424.6,405.5 L424,409.5" fill="none" stroke="#1a1a1a" stroke-width="1" stroke-linecap="round" stroke-linejoin="round"/><path d="M598.3,305.2 L600.8,307.7 L603.7,309.7 L606.7,312.7" fill="none" stroke="#1a1a1a" stroke-width="1" stroke-linecap="round" stroke-linejoin="round"/></g>
</g>
</g>
<rect x="40" y="673.8" width="680" height="180" fill="#fff"/>
</g>
<rect x="50.3" y="502.9" width="655.2" height="343.9" rx="11.8" fill="none" stroke="#000" stroke-width="3.4"/>
<text x="56" y="28.3" font-size="14" font-weight="bold" textLength="9.7" lengthAdjust="spacingAndGlyphs" fill="#000" stroke="#000" stroke-width="0.35">A</text>
<text x="76" y="28.3" font-size="14" font-weight="bold" textLength="214.7" lengthAdjust="spacingAndGlyphs" fill="#000" stroke="#000" stroke-width="0.35">Species Richness (by ecoregion)</text>
<text x="55" y="260.3" font-size="14" font-weight="bold" textLength="9" lengthAdjust="spacingAndGlyphs" fill="#000" stroke="#000" stroke-width="0.35">B</text>
<text x="71.7" y="260.3" font-size="14" font-weight="bold" textLength="223.3" lengthAdjust="spacingAndGlyphs" fill="#000" stroke="#000" stroke-width="0.35">Endemic Richness (by ecoregion)</text>
<text x="55" y="495.3" font-size="14" font-weight="bold" textLength="9" lengthAdjust="spacingAndGlyphs" fill="#000" stroke="#000" stroke-width="0.35">C</text>
<text x="72.7" y="495.3" font-size="14" font-weight="bold" textLength="115" lengthAdjust="spacingAndGlyphs" fill="#000" stroke="#000" stroke-width="0.35">Regional scheme</text>
<rect x="53.5" y="215.7" width="34.5" height="22.5" rx="5" fill="#FBE1D4" stroke="#000" stroke-width="1.5"/>
<text x="92.3" y="232.8" font-size="14" font-weight="bold" textLength="36.9" lengthAdjust="spacingAndGlyphs" fill="#000" stroke="#000" stroke-width="0.35">&lt; 250</text>
<rect x="164.2" y="215.7" width="34.5" height="22.5" rx="5" fill="#F5B59D" stroke="#000" stroke-width="1.5"/>
<text x="205.2" y="232.8" font-size="14" font-weight="bold" textLength="36.5" lengthAdjust="spacingAndGlyphs" fill="#000" stroke="#000" stroke-width="0.35">≥ 250</text>
<rect x="274.5" y="215.7" width="34.2" height="22.5" rx="5" fill="#F18C6F" stroke="#000" stroke-width="1.5"/>
<text x="315.5" y="232.8" font-size="14" font-weight="bold" textLength="35.1" lengthAdjust="spacingAndGlyphs" fill="#000" stroke="#000" stroke-width="0.35">≥ 500</text>
<rect x="384.4" y="215.7" width="33.6" height="22.5" rx="5" fill="#ED6B4C" stroke="#000" stroke-width="1.5"/>
<text x="426.3" y="232.8" font-size="14" font-weight="bold" textLength="44.3" lengthAdjust="spacingAndGlyphs" fill="#000" stroke="#000" stroke-width="0.35">≥ 1000</text>
<rect x="495.2" y="215.7" width="33.5" height="22.5" rx="5" fill="#D5312B" stroke="#000" stroke-width="1.5"/>
<text x="537" y="232.8" font-size="14" font-weight="bold" textLength="46.2" lengthAdjust="spacingAndGlyphs" fill="#000" stroke="#000" stroke-width="0.35">≥ 1500</text>
<rect x="605" y="215.7" width="33.5" height="22.5" rx="5" fill="#A01D21" stroke="#000" stroke-width="1.5"/>
<text x="646" y="232.8" font-size="14" font-weight="bold" textLength="43.8" lengthAdjust="spacingAndGlyphs" fill="#000" stroke="#000" stroke-width="0.35">≥ 2000</text>
<rect x="49.8" y="449.1" width="34.4" height="22.3" rx="5" fill="#CACDE6" stroke="#000" stroke-width="1.5"/>
<text x="92.1" y="465.4" font-size="14" font-weight="bold" textLength="27.3" lengthAdjust="spacingAndGlyphs" fill="#000" stroke="#000" stroke-width="0.35">1 - 4</text>
<rect x="186.9" y="449.1" width="33.4" height="22.3" rx="5" fill="#A5B9DD" stroke="#000" stroke-width="1.5"/>
<text x="229.2" y="465.4" font-size="14" font-weight="bold" textLength="27.7" lengthAdjust="spacingAndGlyphs" fill="#000" stroke="#000" stroke-width="0.35">5 - 9</text>
<rect x="323" y="449.1" width="34" height="22.3" rx="5" fill="#6FA4CF" stroke="#000" stroke-width="1.5"/>
<text x="365.3" y="465.4" font-size="14" font-weight="bold" textLength="43" lengthAdjust="spacingAndGlyphs" fill="#000" stroke="#000" stroke-width="0.35">10 - 19</text>
<rect x="459.6" y="449.1" width="33.5" height="22.3" rx="5" fill="#2F88BC" stroke="#000" stroke-width="1.5"/>
<text x="500.6" y="465.4" font-size="14" font-weight="bold" textLength="44.8" lengthAdjust="spacingAndGlyphs" fill="#000" stroke="#000" stroke-width="0.35">20 - 29</text>
<rect x="595.8" y="449.1" width="33.4" height="22.3" rx="5" fill="#165B8F" stroke="#000" stroke-width="1.5"/>
<text x="640" y="465.4" font-size="14" font-weight="bold" textLength="27.6" lengthAdjust="spacingAndGlyphs" fill="#000" stroke="#000" stroke-width="0.35">≥ 30</text>
<rect x="50" y="672.8" width="656" height="2.6" fill="#000"/>
<rect x="198.2" y="673" width="3.6" height="174" fill="#000"/>
<rect x="520" y="673" width="3.7" height="174" fill="#000"/>
<text x="54.9" y="691" font-size="14" font-weight="bold" textLength="98" lengthAdjust="spacingAndGlyphs" fill="#000" stroke="#000" stroke-width="0.35">Atlantic Realm</text>
<text x="54.9" y="709.7" font-size="12" font-weight="bold" font-style="italic" textLength="120.1" lengthAdjust="spacingAndGlyphs" fill="#000" stroke="#000" stroke-width="0.35">West Atlantic Region</text>
<text x="54.9" y="810.8" font-size="12" font-weight="bold" font-style="italic" textLength="109.5" lengthAdjust="spacingAndGlyphs" fill="#000" stroke="#000" stroke-width="0.35">East Atlantic Region</text>
<rect x="54.1" y="715.6" width="14.4" height="22.2" rx="4" fill="#F8C42F" stroke="#000" stroke-width="1.5"/>
<text x="71.5" y="730.3" font-size="12.3" textLength="103.5" lengthAdjust="spacingAndGlyphs" fill="#000" stroke="#000" stroke-width="0.2">Caribbean Province</text>
<rect x="54.1" y="743" width="14.4" height="21.4" rx="4" fill="#BEA133" stroke="#000" stroke-width="1.5"/>
<text x="71.5" y="759.7" font-size="12.3" textLength="100.5" lengthAdjust="spacingAndGlyphs" fill="#000" stroke="#000" stroke-width="0.2">Southwest Atlantic</text>
<rect x="54.1" y="770.2" width="14.4" height="21.9" rx="4" fill="#E6DBB4" stroke="#000" stroke-width="1.5"/>
<text x="71.5" y="785.9" font-size="12.3" textLength="127.5" lengthAdjust="spacingAndGlyphs" fill="#000" stroke="#000" stroke-width="0.2">Atlantic Islands Province</text>
<rect x="54.1" y="816.4" width="14.4" height="22.6" rx="4" fill="#777677" stroke="#000" stroke-width="1.5"/>
<text x="71.5" y="830.8" font-size="12.3" textLength="113.9" lengthAdjust="spacingAndGlyphs" fill="#000" stroke="#000" stroke-width="0.2">East Atlantic Province</text>
<text x="297.7" y="690.8" font-size="14" font-weight="bold" textLength="126.1" lengthAdjust="spacingAndGlyphs" fill="#000" stroke="#000" stroke-width="0.35">Indo-Pacific Realm</text>
<text x="204.9" y="708.7" font-size="12" font-weight="bold" font-style="italic" textLength="148.4" lengthAdjust="spacingAndGlyphs" fill="#000" stroke="#000" stroke-width="0.35">Central Indo-Pacific Region</text>
<text x="206.2" y="771" font-size="12" font-weight="bold" font-style="italic" textLength="105.1" lengthAdjust="spacingAndGlyphs" fill="#000" stroke="#000" stroke-width="0.35">West Indian Region</text>
<rect x="205.4" y="715.3" width="14.9" height="22.2" rx="4" fill="#D8412C" stroke="#000" stroke-width="1.5"/>
<text x="223.3" y="730.5" font-size="12.3" textLength="151.8" lengthAdjust="spacingAndGlyphs" fill="#000" stroke="#000" stroke-width="0.2">Central Indo-Pacific Province</text>
<rect x="205.4" y="780.7" width="14.9" height="21.9" rx="4" fill="#7B7935" stroke="#000" stroke-width="1.5"/>
<text x="223.3" y="795.4" font-size="12.3" textLength="103.9" lengthAdjust="spacingAndGlyphs" fill="#000" stroke="#000" stroke-width="0.2">NW Indian Province</text>
<rect x="205.4" y="807.1" width="14.9" height="21.9" rx="4" fill="#E7DB31" stroke="#000" stroke-width="1.5"/>
<text x="223.3" y="822.3" font-size="12.3" textLength="128.7" lengthAdjust="spacingAndGlyphs" fill="#000" stroke="#000" stroke-width="0.2">Western Indian Province</text>
<text x="381" y="708.7" font-size="12" font-weight="bold" font-style="italic" textLength="119.3" lengthAdjust="spacingAndGlyphs" fill="#000" stroke="#000" stroke-width="0.35">Central Pacific Region</text>
<rect x="380" y="715.3" width="14.6" height="21.5" rx="4" fill="#5CC1E7" stroke="#000" stroke-width="1.5"/>
<text x="395.9" y="730.5" font-size="12.3" textLength="122.8" lengthAdjust="spacingAndGlyphs" fill="#000" stroke="#000" stroke-width="0.2">Central Pacific Province</text>
<rect x="380" y="740.5" width="14.6" height="21.9" rx="4" fill="#1F87A9" stroke="#000" stroke-width="1.5"/>
<text x="395.9" y="755.4" font-size="12.3" textLength="105.6" lengthAdjust="spacingAndGlyphs" fill="#000" stroke="#000" stroke-width="0.2">Polynesian Province</text>
<rect x="380" y="765.8" width="14.6" height="21.7" rx="4" fill="#1F63A9" stroke="#000" stroke-width="1.5"/>
<text x="395.9" y="780.5" font-size="12.3" textLength="80" lengthAdjust="spacingAndGlyphs" fill="#000" stroke="#000" stroke-width="0.2">Easter Province</text>
<rect x="380" y="791" width="14.6" height="21.8" rx="4" fill="#90D1E9" stroke="#000" stroke-width="1.5"/>
<text x="395.9" y="805.4" font-size="12.3" textLength="97.1" lengthAdjust="spacingAndGlyphs" fill="#000" stroke="#000" stroke-width="0.2">Hawaiian Province</text>
<rect x="380" y="816.6" width="14.6" height="21.9" rx="4" fill="#93B6E1" stroke="#000" stroke-width="1.5"/>
<text x="395.9" y="831.8" font-size="12.3" textLength="101.5" lengthAdjust="spacingAndGlyphs" fill="#000" stroke="#000" stroke-width="0.2">SW Pacific Province</text>
<text x="528.5" y="690.8" font-size="14" font-weight="bold" textLength="156.1" lengthAdjust="spacingAndGlyphs" fill="#000" stroke="#000" stroke-width="0.35">Tropical Eastern Pacific</text>
<text x="528.5" y="709.5" font-size="14" font-weight="bold" textLength="80.5" lengthAdjust="spacingAndGlyphs" fill="#000" stroke="#000" stroke-width="0.35">(TEP) Realm</text>
<text x="531.5" y="729.2" font-size="12" font-weight="bold" font-style="italic" textLength="167.2" lengthAdjust="spacingAndGlyphs" fill="#000" stroke="#000" stroke-width="0.35">Tropical Eastern Pacific Region</text>
<rect x="531.3" y="738.4" width="14.6" height="21.9" rx="4" fill="#80C34B" stroke="#000" stroke-width="1.5"/>
<text x="548.7" y="752.8" font-size="12.3" textLength="132.6" lengthAdjust="spacingAndGlyphs" fill="#000" stroke="#000" stroke-width="0.2">Continental TEP Province</text>
<rect x="531.3" y="764" width="14.6" height="22.2" rx="4" fill="#1F8C59" stroke="#000" stroke-width="1.5"/>
<text x="548.7" y="779.7" font-size="12.3" textLength="115.9" lengthAdjust="spacingAndGlyphs" fill="#000" stroke="#000" stroke-width="0.2">Offshore TEP Province</text>
</svg>
</body></html>
